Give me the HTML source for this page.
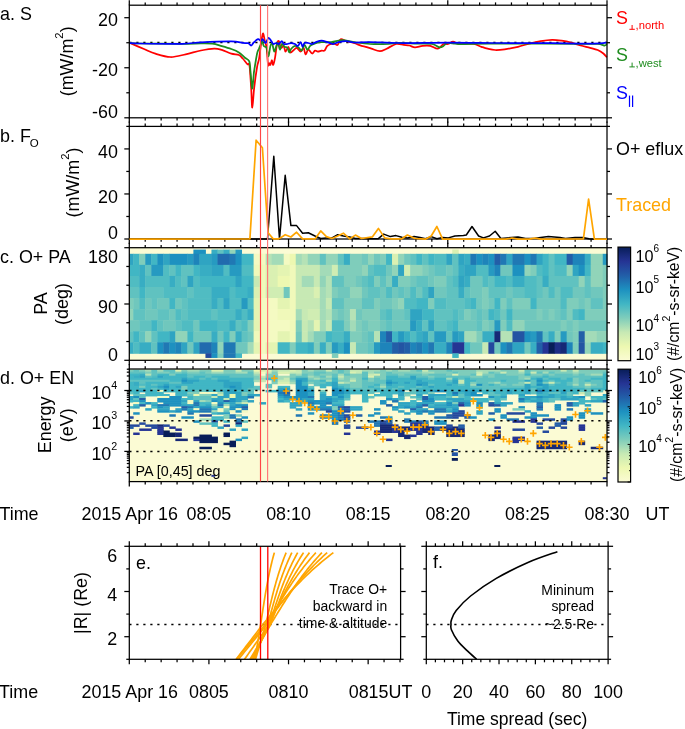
<!DOCTYPE html>
<html><head><meta charset="utf-8"><style>html,body{margin:0;padding:0;background:#fff;overflow:hidden}svg{display:block;will-change:transform}</style></head><body>
<svg width="685" height="729" viewBox="0 0 685 729" font-family='"Liberation Sans", sans-serif' shape-rendering="auto">
<rect x="0" y="0" width="685" height="729" fill="#fff"/>
<rect x="129.3" y="247.7" width="477.7" height="112.6" fill="#fbfbd4"/>
<rect x="193.40" y="249.60" width="12.49" height="4.65" fill="#1d91c0"/>
<rect x="211.46" y="249.60" width="6.47" height="4.65" fill="#38adc3"/>
<rect x="217.48" y="249.60" width="6.47" height="4.65" fill="#60c2c0"/>
<rect x="223.50" y="249.60" width="6.47" height="4.65" fill="#38adc3"/>
<rect x="229.52" y="249.60" width="6.47" height="4.65" fill="#91d4b9"/>
<rect x="235.54" y="249.60" width="6.47" height="4.65" fill="#269ac1"/>
<rect x="452.26" y="249.60" width="6.47" height="4.65" fill="#daf0b2"/>
<rect x="129.30" y="253.80" width="4.35" height="11.51" fill="#2fa4c2"/>
<rect x="133.20" y="253.80" width="6.47" height="11.51" fill="#41b6c4"/>
<rect x="139.22" y="253.80" width="6.47" height="11.51" fill="#7fcdbb"/>
<rect x="145.24" y="253.80" width="6.47" height="11.51" fill="#269ac1"/>
<rect x="151.26" y="253.80" width="6.47" height="11.51" fill="#41b6c4"/>
<rect x="157.28" y="253.80" width="6.47" height="11.51" fill="#1d91c0"/>
<rect x="163.30" y="253.80" width="6.47" height="11.51" fill="#2fa4c2"/>
<rect x="169.32" y="253.80" width="18.51" height="11.51" fill="#1d91c0"/>
<rect x="187.38" y="253.80" width="6.47" height="11.51" fill="#269ac1"/>
<rect x="193.40" y="253.80" width="6.47" height="11.51" fill="#1e84ba"/>
<rect x="199.42" y="253.80" width="12.49" height="11.51" fill="#2fa4c2"/>
<rect x="211.46" y="253.80" width="6.47" height="11.51" fill="#269ac1"/>
<rect x="217.48" y="253.80" width="12.49" height="11.51" fill="#216bae"/>
<rect x="229.52" y="253.80" width="6.47" height="11.51" fill="#2078b4"/>
<rect x="235.54" y="253.80" width="6.47" height="11.51" fill="#1d91c0"/>
<rect x="241.56" y="253.80" width="12.49" height="11.51" fill="#41b6c4"/>
<rect x="253.60" y="253.80" width="12.49" height="11.51" fill="#f4fac2"/>
<rect x="265.64" y="253.80" width="6.47" height="11.51" fill="#b5e2b6"/>
<rect x="271.66" y="253.80" width="12.49" height="11.51" fill="#a3dbb8"/>
<rect x="283.70" y="253.80" width="6.47" height="11.51" fill="#f4fac2"/>
<rect x="289.72" y="253.80" width="6.47" height="11.51" fill="#edf8b1"/>
<rect x="295.74" y="253.80" width="6.47" height="11.51" fill="#a3dbb8"/>
<rect x="301.76" y="253.80" width="6.47" height="11.51" fill="#b5e2b6"/>
<rect x="307.78" y="253.80" width="12.49" height="11.51" fill="#91d4b9"/>
<rect x="319.82" y="253.80" width="6.47" height="11.51" fill="#60c2c0"/>
<rect x="325.84" y="253.80" width="12.49" height="11.51" fill="#91d4b9"/>
<rect x="337.88" y="253.80" width="6.47" height="11.51" fill="#60c2c0"/>
<rect x="343.90" y="253.80" width="6.47" height="11.51" fill="#38adc3"/>
<rect x="349.92" y="253.80" width="12.49" height="11.51" fill="#7fcdbb"/>
<rect x="361.96" y="253.80" width="6.47" height="11.51" fill="#70c7bd"/>
<rect x="367.98" y="253.80" width="6.47" height="11.51" fill="#91d4b9"/>
<rect x="374.00" y="253.80" width="6.47" height="11.51" fill="#70c7bd"/>
<rect x="380.02" y="253.80" width="6.47" height="11.51" fill="#7fcdbb"/>
<rect x="386.04" y="253.80" width="6.47" height="11.51" fill="#41b6c4"/>
<rect x="392.06" y="253.80" width="6.47" height="11.51" fill="#daf0b2"/>
<rect x="398.08" y="253.80" width="6.47" height="11.51" fill="#91d4b9"/>
<rect x="404.10" y="253.80" width="6.47" height="11.51" fill="#70c7bd"/>
<rect x="410.12" y="253.80" width="6.47" height="11.51" fill="#60c2c0"/>
<rect x="416.14" y="253.80" width="6.47" height="11.51" fill="#41b6c4"/>
<rect x="422.16" y="253.80" width="6.47" height="11.51" fill="#60c2c0"/>
<rect x="428.18" y="253.80" width="6.47" height="11.51" fill="#41b6c4"/>
<rect x="434.20" y="253.80" width="12.49" height="11.51" fill="#50bcc2"/>
<rect x="446.24" y="253.80" width="6.47" height="11.51" fill="#2fa4c2"/>
<rect x="452.26" y="253.80" width="6.47" height="11.51" fill="#60c2c0"/>
<rect x="458.28" y="253.80" width="6.47" height="11.51" fill="#2fa4c2"/>
<rect x="464.30" y="253.80" width="6.47" height="11.51" fill="#38adc3"/>
<rect x="470.32" y="253.80" width="6.47" height="11.51" fill="#2078b4"/>
<rect x="476.34" y="253.80" width="6.47" height="11.51" fill="#1d91c0"/>
<rect x="482.36" y="253.80" width="6.47" height="11.51" fill="#1e84ba"/>
<rect x="488.38" y="253.80" width="6.47" height="11.51" fill="#1d91c0"/>
<rect x="494.40" y="253.80" width="6.47" height="11.51" fill="#225ea8"/>
<rect x="500.42" y="253.80" width="6.47" height="11.51" fill="#2078b4"/>
<rect x="506.44" y="253.80" width="6.47" height="11.51" fill="#2fa4c2"/>
<rect x="512.46" y="253.80" width="12.49" height="11.51" fill="#2078b4"/>
<rect x="524.50" y="253.80" width="6.47" height="11.51" fill="#1d91c0"/>
<rect x="530.52" y="253.80" width="6.47" height="11.51" fill="#2078b4"/>
<rect x="536.54" y="253.80" width="6.47" height="11.51" fill="#2fa4c2"/>
<rect x="542.56" y="253.80" width="6.47" height="11.51" fill="#41b6c4"/>
<rect x="548.58" y="253.80" width="6.47" height="11.51" fill="#60c2c0"/>
<rect x="554.60" y="253.80" width="12.49" height="11.51" fill="#41b6c4"/>
<rect x="566.64" y="253.80" width="6.47" height="11.51" fill="#225ea8"/>
<rect x="572.66" y="253.80" width="12.49" height="11.51" fill="#1e84ba"/>
<rect x="584.70" y="253.80" width="6.47" height="11.51" fill="#38adc3"/>
<rect x="590.72" y="253.80" width="12.49" height="11.51" fill="#91d4b9"/>
<rect x="602.76" y="253.80" width="4.69" height="11.51" fill="#269ac1"/>
<rect x="129.30" y="264.86" width="10.37" height="11.51" fill="#41b6c4"/>
<rect x="139.22" y="264.86" width="6.47" height="11.51" fill="#38adc3"/>
<rect x="145.24" y="264.86" width="6.47" height="11.51" fill="#60c2c0"/>
<rect x="151.26" y="264.86" width="12.49" height="11.51" fill="#269ac1"/>
<rect x="163.30" y="264.86" width="6.47" height="11.51" fill="#50bcc2"/>
<rect x="169.32" y="264.86" width="6.47" height="11.51" fill="#60c2c0"/>
<rect x="175.34" y="264.86" width="6.47" height="11.51" fill="#41b6c4"/>
<rect x="181.36" y="264.86" width="12.49" height="11.51" fill="#60c2c0"/>
<rect x="193.40" y="264.86" width="6.47" height="11.51" fill="#41b6c4"/>
<rect x="199.42" y="264.86" width="12.49" height="11.51" fill="#38adc3"/>
<rect x="211.46" y="264.86" width="12.49" height="11.51" fill="#2fa4c2"/>
<rect x="223.50" y="264.86" width="6.47" height="11.51" fill="#50bcc2"/>
<rect x="229.52" y="264.86" width="12.49" height="11.51" fill="#269ac1"/>
<rect x="241.56" y="264.86" width="12.49" height="11.51" fill="#50bcc2"/>
<rect x="253.60" y="264.86" width="12.49" height="11.51" fill="#f0f9ba"/>
<rect x="265.64" y="264.86" width="12.49" height="11.51" fill="#daf0b2"/>
<rect x="277.68" y="264.86" width="12.49" height="11.51" fill="#e4f4b2"/>
<rect x="289.72" y="264.86" width="6.47" height="11.51" fill="#f0f9ba"/>
<rect x="295.74" y="264.86" width="24.53" height="11.51" fill="#c7e9b4"/>
<rect x="319.82" y="264.86" width="12.49" height="11.51" fill="#a3dbb8"/>
<rect x="331.86" y="264.86" width="6.47" height="11.51" fill="#d0edb3"/>
<rect x="337.88" y="264.86" width="24.53" height="11.51" fill="#7fcdbb"/>
<rect x="361.96" y="264.86" width="6.47" height="11.51" fill="#91d4b9"/>
<rect x="367.98" y="264.86" width="6.47" height="11.51" fill="#60c2c0"/>
<rect x="374.00" y="264.86" width="12.49" height="11.51" fill="#50bcc2"/>
<rect x="386.04" y="264.86" width="6.47" height="11.51" fill="#70c7bd"/>
<rect x="392.06" y="264.86" width="6.47" height="11.51" fill="#91d4b9"/>
<rect x="398.08" y="264.86" width="6.47" height="11.51" fill="#2fa4c2"/>
<rect x="404.10" y="264.86" width="6.47" height="11.51" fill="#d0edb3"/>
<rect x="410.12" y="264.86" width="12.49" height="11.51" fill="#91d4b9"/>
<rect x="422.16" y="264.86" width="6.47" height="11.51" fill="#7fcdbb"/>
<rect x="428.18" y="264.86" width="6.47" height="11.51" fill="#70c7bd"/>
<rect x="434.20" y="264.86" width="12.49" height="11.51" fill="#60c2c0"/>
<rect x="446.24" y="264.86" width="6.47" height="11.51" fill="#70c7bd"/>
<rect x="452.26" y="264.86" width="6.47" height="11.51" fill="#60c2c0"/>
<rect x="458.28" y="264.86" width="6.47" height="11.51" fill="#38adc3"/>
<rect x="464.30" y="264.86" width="12.49" height="11.51" fill="#2fa4c2"/>
<rect x="476.34" y="264.86" width="12.49" height="11.51" fill="#50bcc2"/>
<rect x="488.38" y="264.86" width="6.47" height="11.51" fill="#269ac1"/>
<rect x="494.40" y="264.86" width="6.47" height="11.51" fill="#1e84ba"/>
<rect x="500.42" y="264.86" width="12.49" height="11.51" fill="#70c7bd"/>
<rect x="512.46" y="264.86" width="12.49" height="11.51" fill="#1d91c0"/>
<rect x="524.50" y="264.86" width="6.47" height="11.51" fill="#91d4b9"/>
<rect x="530.52" y="264.86" width="6.47" height="11.51" fill="#7fcdbb"/>
<rect x="536.54" y="264.86" width="6.47" height="11.51" fill="#50bcc2"/>
<rect x="542.56" y="264.86" width="6.47" height="11.51" fill="#41b6c4"/>
<rect x="548.58" y="264.86" width="6.47" height="11.51" fill="#60c2c0"/>
<rect x="554.60" y="264.86" width="12.49" height="11.51" fill="#50bcc2"/>
<rect x="566.64" y="264.86" width="6.47" height="11.51" fill="#91d4b9"/>
<rect x="572.66" y="264.86" width="6.47" height="11.51" fill="#2fa4c2"/>
<rect x="578.68" y="264.86" width="6.47" height="11.51" fill="#1d91c0"/>
<rect x="584.70" y="264.86" width="6.47" height="11.51" fill="#41b6c4"/>
<rect x="590.72" y="264.86" width="12.49" height="11.51" fill="#91d4b9"/>
<rect x="602.76" y="264.86" width="4.69" height="11.51" fill="#7fcdbb"/>
<rect x="129.30" y="275.92" width="10.37" height="11.51" fill="#50bcc2"/>
<rect x="139.22" y="275.92" width="6.47" height="11.51" fill="#38adc3"/>
<rect x="145.24" y="275.92" width="24.53" height="11.51" fill="#50bcc2"/>
<rect x="169.32" y="275.92" width="6.47" height="11.51" fill="#38adc3"/>
<rect x="175.34" y="275.92" width="6.47" height="11.51" fill="#50bcc2"/>
<rect x="181.36" y="275.92" width="6.47" height="11.51" fill="#60c2c0"/>
<rect x="187.38" y="275.92" width="6.47" height="11.51" fill="#2fa4c2"/>
<rect x="193.40" y="275.92" width="6.47" height="11.51" fill="#50bcc2"/>
<rect x="199.42" y="275.92" width="36.57" height="11.51" fill="#41b6c4"/>
<rect x="235.54" y="275.92" width="6.47" height="11.51" fill="#2fa4c2"/>
<rect x="241.56" y="275.92" width="12.49" height="11.51" fill="#41b6c4"/>
<rect x="253.60" y="275.92" width="6.47" height="11.51" fill="#c7e9b4"/>
<rect x="259.62" y="275.92" width="6.47" height="11.51" fill="#f0f9ba"/>
<rect x="265.64" y="275.92" width="12.49" height="11.51" fill="#daf0b2"/>
<rect x="277.68" y="275.92" width="12.49" height="11.51" fill="#edf8b1"/>
<rect x="289.72" y="275.92" width="6.47" height="11.51" fill="#f0f9ba"/>
<rect x="295.74" y="275.92" width="6.47" height="11.51" fill="#c7e9b4"/>
<rect x="301.76" y="275.92" width="12.49" height="11.51" fill="#a3dbb8"/>
<rect x="313.80" y="275.92" width="6.47" height="11.51" fill="#c7e9b4"/>
<rect x="319.82" y="275.92" width="6.47" height="11.51" fill="#91d4b9"/>
<rect x="325.84" y="275.92" width="6.47" height="11.51" fill="#b5e2b6"/>
<rect x="331.86" y="275.92" width="12.49" height="11.51" fill="#60c2c0"/>
<rect x="343.90" y="275.92" width="12.49" height="11.51" fill="#7fcdbb"/>
<rect x="355.94" y="275.92" width="6.47" height="11.51" fill="#70c7bd"/>
<rect x="361.96" y="275.92" width="6.47" height="11.51" fill="#60c2c0"/>
<rect x="367.98" y="275.92" width="6.47" height="11.51" fill="#50bcc2"/>
<rect x="374.00" y="275.92" width="6.47" height="11.51" fill="#7fcdbb"/>
<rect x="380.02" y="275.92" width="6.47" height="11.51" fill="#60c2c0"/>
<rect x="386.04" y="275.92" width="6.47" height="11.51" fill="#7fcdbb"/>
<rect x="392.06" y="275.92" width="6.47" height="11.51" fill="#38adc3"/>
<rect x="398.08" y="275.92" width="12.49" height="11.51" fill="#7fcdbb"/>
<rect x="410.12" y="275.92" width="6.47" height="11.51" fill="#70c7bd"/>
<rect x="416.14" y="275.92" width="12.49" height="11.51" fill="#60c2c0"/>
<rect x="428.18" y="275.92" width="6.47" height="11.51" fill="#70c7bd"/>
<rect x="434.20" y="275.92" width="12.49" height="11.51" fill="#7fcdbb"/>
<rect x="446.24" y="275.92" width="6.47" height="11.51" fill="#60c2c0"/>
<rect x="452.26" y="275.92" width="6.47" height="11.51" fill="#50bcc2"/>
<rect x="458.28" y="275.92" width="6.47" height="11.51" fill="#2fa4c2"/>
<rect x="464.30" y="275.92" width="6.47" height="11.51" fill="#38adc3"/>
<rect x="470.32" y="275.92" width="12.49" height="11.51" fill="#70c7bd"/>
<rect x="482.36" y="275.92" width="6.47" height="11.51" fill="#50bcc2"/>
<rect x="488.38" y="275.92" width="6.47" height="11.51" fill="#60c2c0"/>
<rect x="494.40" y="275.92" width="12.49" height="11.51" fill="#41b6c4"/>
<rect x="506.44" y="275.92" width="6.47" height="11.51" fill="#50bcc2"/>
<rect x="512.46" y="275.92" width="12.49" height="11.51" fill="#38adc3"/>
<rect x="524.50" y="275.92" width="12.49" height="11.51" fill="#50bcc2"/>
<rect x="536.54" y="275.92" width="6.47" height="11.51" fill="#60c2c0"/>
<rect x="542.56" y="275.92" width="6.47" height="11.51" fill="#38adc3"/>
<rect x="548.58" y="275.92" width="30.55" height="11.51" fill="#60c2c0"/>
<rect x="578.68" y="275.92" width="6.47" height="11.51" fill="#91d4b9"/>
<rect x="584.70" y="275.92" width="6.47" height="11.51" fill="#60c2c0"/>
<rect x="590.72" y="275.92" width="12.49" height="11.51" fill="#91d4b9"/>
<rect x="602.76" y="275.92" width="4.69" height="11.51" fill="#7fcdbb"/>
<rect x="129.30" y="286.98" width="10.37" height="11.51" fill="#60c2c0"/>
<rect x="139.22" y="286.98" width="6.47" height="11.51" fill="#41b6c4"/>
<rect x="145.24" y="286.98" width="18.51" height="11.51" fill="#60c2c0"/>
<rect x="163.30" y="286.98" width="24.53" height="11.51" fill="#50bcc2"/>
<rect x="187.38" y="286.98" width="6.47" height="11.51" fill="#60c2c0"/>
<rect x="193.40" y="286.98" width="18.51" height="11.51" fill="#50bcc2"/>
<rect x="211.46" y="286.98" width="18.51" height="11.51" fill="#38adc3"/>
<rect x="229.52" y="286.98" width="6.47" height="11.51" fill="#50bcc2"/>
<rect x="235.54" y="286.98" width="12.49" height="11.51" fill="#41b6c4"/>
<rect x="247.58" y="286.98" width="6.47" height="11.51" fill="#38adc3"/>
<rect x="253.60" y="286.98" width="6.47" height="11.51" fill="#daf0b2"/>
<rect x="259.62" y="286.98" width="6.47" height="11.51" fill="#f0f9ba"/>
<rect x="265.64" y="286.98" width="18.51" height="11.51" fill="#d0edb3"/>
<rect x="283.70" y="286.98" width="6.47" height="11.51" fill="#70c7bd"/>
<rect x="289.72" y="286.98" width="6.47" height="11.51" fill="#f0f9ba"/>
<rect x="295.74" y="286.98" width="18.51" height="11.51" fill="#c7e9b4"/>
<rect x="313.80" y="286.98" width="6.47" height="11.51" fill="#daf0b2"/>
<rect x="319.82" y="286.98" width="6.47" height="11.51" fill="#a3dbb8"/>
<rect x="325.84" y="286.98" width="6.47" height="11.51" fill="#b5e2b6"/>
<rect x="331.86" y="286.98" width="6.47" height="11.51" fill="#7fcdbb"/>
<rect x="337.88" y="286.98" width="12.49" height="11.51" fill="#70c7bd"/>
<rect x="349.92" y="286.98" width="12.49" height="11.51" fill="#91d4b9"/>
<rect x="361.96" y="286.98" width="6.47" height="11.51" fill="#70c7bd"/>
<rect x="367.98" y="286.98" width="12.49" height="11.51" fill="#60c2c0"/>
<rect x="380.02" y="286.98" width="6.47" height="11.51" fill="#70c7bd"/>
<rect x="386.04" y="286.98" width="6.47" height="11.51" fill="#50bcc2"/>
<rect x="392.06" y="286.98" width="6.47" height="11.51" fill="#70c7bd"/>
<rect x="398.08" y="286.98" width="6.47" height="11.51" fill="#60c2c0"/>
<rect x="404.10" y="286.98" width="6.47" height="11.51" fill="#70c7bd"/>
<rect x="410.12" y="286.98" width="6.47" height="11.51" fill="#50bcc2"/>
<rect x="416.14" y="286.98" width="6.47" height="11.51" fill="#70c7bd"/>
<rect x="422.16" y="286.98" width="6.47" height="11.51" fill="#50bcc2"/>
<rect x="428.18" y="286.98" width="6.47" height="11.51" fill="#2fa4c2"/>
<rect x="434.20" y="286.98" width="12.49" height="11.51" fill="#70c7bd"/>
<rect x="446.24" y="286.98" width="12.49" height="11.51" fill="#60c2c0"/>
<rect x="458.28" y="286.98" width="6.47" height="11.51" fill="#38adc3"/>
<rect x="464.30" y="286.98" width="6.47" height="11.51" fill="#60c2c0"/>
<rect x="470.32" y="286.98" width="12.49" height="11.51" fill="#70c7bd"/>
<rect x="482.36" y="286.98" width="6.47" height="11.51" fill="#7fcdbb"/>
<rect x="488.38" y="286.98" width="18.51" height="11.51" fill="#60c2c0"/>
<rect x="506.44" y="286.98" width="6.47" height="11.51" fill="#70c7bd"/>
<rect x="512.46" y="286.98" width="12.49" height="11.51" fill="#60c2c0"/>
<rect x="524.50" y="286.98" width="12.49" height="11.51" fill="#50bcc2"/>
<rect x="536.54" y="286.98" width="6.47" height="11.51" fill="#60c2c0"/>
<rect x="542.56" y="286.98" width="6.47" height="11.51" fill="#70c7bd"/>
<rect x="548.58" y="286.98" width="6.47" height="11.51" fill="#50bcc2"/>
<rect x="554.60" y="286.98" width="6.47" height="11.51" fill="#70c7bd"/>
<rect x="560.62" y="286.98" width="12.49" height="11.51" fill="#50bcc2"/>
<rect x="572.66" y="286.98" width="12.49" height="11.51" fill="#70c7bd"/>
<rect x="584.70" y="286.98" width="6.47" height="11.51" fill="#60c2c0"/>
<rect x="590.72" y="286.98" width="12.49" height="11.51" fill="#70c7bd"/>
<rect x="602.76" y="286.98" width="4.69" height="11.51" fill="#7fcdbb"/>
<rect x="129.30" y="298.04" width="4.35" height="11.51" fill="#7fcdbb"/>
<rect x="133.20" y="298.04" width="6.47" height="11.51" fill="#70c7bd"/>
<rect x="139.22" y="298.04" width="6.47" height="11.51" fill="#50bcc2"/>
<rect x="145.24" y="298.04" width="6.47" height="11.51" fill="#70c7bd"/>
<rect x="151.26" y="298.04" width="6.47" height="11.51" fill="#60c2c0"/>
<rect x="157.28" y="298.04" width="12.49" height="11.51" fill="#70c7bd"/>
<rect x="169.32" y="298.04" width="6.47" height="11.51" fill="#41b6c4"/>
<rect x="175.34" y="298.04" width="6.47" height="11.51" fill="#70c7bd"/>
<rect x="181.36" y="298.04" width="6.47" height="11.51" fill="#60c2c0"/>
<rect x="187.38" y="298.04" width="24.53" height="11.51" fill="#50bcc2"/>
<rect x="211.46" y="298.04" width="6.47" height="11.51" fill="#38adc3"/>
<rect x="217.48" y="298.04" width="6.47" height="11.51" fill="#50bcc2"/>
<rect x="223.50" y="298.04" width="6.47" height="11.51" fill="#2fa4c2"/>
<rect x="229.52" y="298.04" width="12.49" height="11.51" fill="#50bcc2"/>
<rect x="241.56" y="298.04" width="6.47" height="11.51" fill="#269ac1"/>
<rect x="247.58" y="298.04" width="6.47" height="11.51" fill="#50bcc2"/>
<rect x="253.60" y="298.04" width="6.47" height="11.51" fill="#e4f4b2"/>
<rect x="259.62" y="298.04" width="18.51" height="11.51" fill="#f4fac2"/>
<rect x="277.68" y="298.04" width="12.49" height="11.51" fill="#e4f4b2"/>
<rect x="289.72" y="298.04" width="6.47" height="11.51" fill="#f0f9ba"/>
<rect x="295.74" y="298.04" width="24.53" height="11.51" fill="#c7e9b4"/>
<rect x="319.82" y="298.04" width="6.47" height="11.51" fill="#a3dbb8"/>
<rect x="325.84" y="298.04" width="6.47" height="11.51" fill="#c7e9b4"/>
<rect x="331.86" y="298.04" width="12.49" height="11.51" fill="#60c2c0"/>
<rect x="343.90" y="298.04" width="18.51" height="11.51" fill="#7fcdbb"/>
<rect x="361.96" y="298.04" width="12.49" height="11.51" fill="#60c2c0"/>
<rect x="374.00" y="298.04" width="6.47" height="11.51" fill="#7fcdbb"/>
<rect x="380.02" y="298.04" width="12.49" height="11.51" fill="#70c7bd"/>
<rect x="392.06" y="298.04" width="6.47" height="11.51" fill="#7fcdbb"/>
<rect x="398.08" y="298.04" width="6.47" height="11.51" fill="#91d4b9"/>
<rect x="404.10" y="298.04" width="12.49" height="11.51" fill="#50bcc2"/>
<rect x="416.14" y="298.04" width="12.49" height="11.51" fill="#41b6c4"/>
<rect x="428.18" y="298.04" width="6.47" height="11.51" fill="#7fcdbb"/>
<rect x="434.20" y="298.04" width="12.49" height="11.51" fill="#50bcc2"/>
<rect x="446.24" y="298.04" width="18.51" height="11.51" fill="#60c2c0"/>
<rect x="464.30" y="298.04" width="6.47" height="11.51" fill="#50bcc2"/>
<rect x="470.32" y="298.04" width="6.47" height="11.51" fill="#41b6c4"/>
<rect x="476.34" y="298.04" width="6.47" height="11.51" fill="#70c7bd"/>
<rect x="482.36" y="298.04" width="6.47" height="11.51" fill="#7fcdbb"/>
<rect x="488.38" y="298.04" width="6.47" height="11.51" fill="#70c7bd"/>
<rect x="494.40" y="298.04" width="6.47" height="11.51" fill="#41b6c4"/>
<rect x="500.42" y="298.04" width="6.47" height="11.51" fill="#7fcdbb"/>
<rect x="506.44" y="298.04" width="6.47" height="11.51" fill="#60c2c0"/>
<rect x="512.46" y="298.04" width="18.51" height="11.51" fill="#7fcdbb"/>
<rect x="530.52" y="298.04" width="6.47" height="11.51" fill="#41b6c4"/>
<rect x="536.54" y="298.04" width="24.53" height="11.51" fill="#70c7bd"/>
<rect x="560.62" y="298.04" width="6.47" height="11.51" fill="#50bcc2"/>
<rect x="566.64" y="298.04" width="12.49" height="11.51" fill="#7fcdbb"/>
<rect x="578.68" y="298.04" width="6.47" height="11.51" fill="#70c7bd"/>
<rect x="584.70" y="298.04" width="6.47" height="11.51" fill="#7fcdbb"/>
<rect x="590.72" y="298.04" width="12.49" height="11.51" fill="#60c2c0"/>
<rect x="602.76" y="298.04" width="4.69" height="11.51" fill="#7fcdbb"/>
<rect x="129.30" y="309.10" width="4.35" height="11.51" fill="#91d4b9"/>
<rect x="133.20" y="309.10" width="12.49" height="11.51" fill="#60c2c0"/>
<rect x="145.24" y="309.10" width="12.49" height="11.51" fill="#70c7bd"/>
<rect x="157.28" y="309.10" width="12.49" height="11.51" fill="#60c2c0"/>
<rect x="169.32" y="309.10" width="6.47" height="11.51" fill="#70c7bd"/>
<rect x="175.34" y="309.10" width="6.47" height="11.51" fill="#50bcc2"/>
<rect x="181.36" y="309.10" width="6.47" height="11.51" fill="#60c2c0"/>
<rect x="187.38" y="309.10" width="24.53" height="11.51" fill="#50bcc2"/>
<rect x="211.46" y="309.10" width="6.47" height="11.51" fill="#60c2c0"/>
<rect x="217.48" y="309.10" width="18.51" height="11.51" fill="#50bcc2"/>
<rect x="235.54" y="309.10" width="6.47" height="11.51" fill="#38adc3"/>
<rect x="241.56" y="309.10" width="6.47" height="11.51" fill="#50bcc2"/>
<rect x="247.58" y="309.10" width="6.47" height="11.51" fill="#38adc3"/>
<rect x="253.60" y="309.10" width="6.47" height="11.51" fill="#e4f4b2"/>
<rect x="259.62" y="309.10" width="18.51" height="11.51" fill="#f4fac2"/>
<rect x="277.68" y="309.10" width="18.51" height="11.51" fill="#f0f9ba"/>
<rect x="295.74" y="309.10" width="6.47" height="11.51" fill="#a3dbb8"/>
<rect x="301.76" y="309.10" width="6.47" height="11.51" fill="#c7e9b4"/>
<rect x="307.78" y="309.10" width="12.49" height="11.51" fill="#d0edb3"/>
<rect x="319.82" y="309.10" width="6.47" height="11.51" fill="#a3dbb8"/>
<rect x="325.84" y="309.10" width="6.47" height="11.51" fill="#b5e2b6"/>
<rect x="331.86" y="309.10" width="6.47" height="11.51" fill="#7fcdbb"/>
<rect x="337.88" y="309.10" width="6.47" height="11.51" fill="#70c7bd"/>
<rect x="343.90" y="309.10" width="6.47" height="11.51" fill="#7fcdbb"/>
<rect x="349.92" y="309.10" width="6.47" height="11.51" fill="#b5e2b6"/>
<rect x="355.94" y="309.10" width="6.47" height="11.51" fill="#70c7bd"/>
<rect x="361.96" y="309.10" width="18.51" height="11.51" fill="#7fcdbb"/>
<rect x="380.02" y="309.10" width="6.47" height="11.51" fill="#60c2c0"/>
<rect x="386.04" y="309.10" width="6.47" height="11.51" fill="#50bcc2"/>
<rect x="392.06" y="309.10" width="12.49" height="11.51" fill="#70c7bd"/>
<rect x="404.10" y="309.10" width="6.47" height="11.51" fill="#60c2c0"/>
<rect x="410.12" y="309.10" width="12.49" height="11.51" fill="#2fa4c2"/>
<rect x="422.16" y="309.10" width="12.49" height="11.51" fill="#41b6c4"/>
<rect x="434.20" y="309.10" width="18.51" height="11.51" fill="#60c2c0"/>
<rect x="452.26" y="309.10" width="6.47" height="11.51" fill="#50bcc2"/>
<rect x="458.28" y="309.10" width="6.47" height="11.51" fill="#60c2c0"/>
<rect x="464.30" y="309.10" width="6.47" height="11.51" fill="#7fcdbb"/>
<rect x="470.32" y="309.10" width="6.47" height="11.51" fill="#70c7bd"/>
<rect x="476.34" y="309.10" width="6.47" height="11.51" fill="#60c2c0"/>
<rect x="482.36" y="309.10" width="6.47" height="11.51" fill="#70c7bd"/>
<rect x="488.38" y="309.10" width="6.47" height="11.51" fill="#41b6c4"/>
<rect x="494.40" y="309.10" width="6.47" height="11.51" fill="#50bcc2"/>
<rect x="500.42" y="309.10" width="6.47" height="11.51" fill="#70c7bd"/>
<rect x="506.44" y="309.10" width="6.47" height="11.51" fill="#41b6c4"/>
<rect x="512.46" y="309.10" width="24.53" height="11.51" fill="#70c7bd"/>
<rect x="536.54" y="309.10" width="6.47" height="11.51" fill="#7fcdbb"/>
<rect x="542.56" y="309.10" width="6.47" height="11.51" fill="#70c7bd"/>
<rect x="548.58" y="309.10" width="6.47" height="11.51" fill="#7fcdbb"/>
<rect x="554.60" y="309.10" width="6.47" height="11.51" fill="#70c7bd"/>
<rect x="560.62" y="309.10" width="6.47" height="11.51" fill="#60c2c0"/>
<rect x="566.64" y="309.10" width="6.47" height="11.51" fill="#7fcdbb"/>
<rect x="572.66" y="309.10" width="6.47" height="11.51" fill="#50bcc2"/>
<rect x="578.68" y="309.10" width="6.47" height="11.51" fill="#41b6c4"/>
<rect x="584.70" y="309.10" width="22.75" height="11.51" fill="#7fcdbb"/>
<rect x="129.30" y="320.16" width="10.37" height="11.51" fill="#70c7bd"/>
<rect x="139.22" y="320.16" width="12.49" height="11.51" fill="#60c2c0"/>
<rect x="151.26" y="320.16" width="6.47" height="11.51" fill="#41b6c4"/>
<rect x="157.28" y="320.16" width="6.47" height="11.51" fill="#60c2c0"/>
<rect x="163.30" y="320.16" width="12.49" height="11.51" fill="#70c7bd"/>
<rect x="175.34" y="320.16" width="6.47" height="11.51" fill="#60c2c0"/>
<rect x="181.36" y="320.16" width="12.49" height="11.51" fill="#50bcc2"/>
<rect x="193.40" y="320.16" width="6.47" height="11.51" fill="#70c7bd"/>
<rect x="199.42" y="320.16" width="18.51" height="11.51" fill="#41b6c4"/>
<rect x="217.48" y="320.16" width="12.49" height="11.51" fill="#50bcc2"/>
<rect x="229.52" y="320.16" width="6.47" height="11.51" fill="#38adc3"/>
<rect x="235.54" y="320.16" width="6.47" height="11.51" fill="#60c2c0"/>
<rect x="241.56" y="320.16" width="6.47" height="11.51" fill="#50bcc2"/>
<rect x="247.58" y="320.16" width="6.47" height="11.51" fill="#7fcdbb"/>
<rect x="253.60" y="320.16" width="6.47" height="11.51" fill="#e4f4b2"/>
<rect x="259.62" y="320.16" width="30.55" height="11.51" fill="#f4fac2"/>
<rect x="289.72" y="320.16" width="6.47" height="11.51" fill="#f0f9ba"/>
<rect x="295.74" y="320.16" width="6.47" height="11.51" fill="#7fcdbb"/>
<rect x="301.76" y="320.16" width="6.47" height="11.51" fill="#c7e9b4"/>
<rect x="307.78" y="320.16" width="6.47" height="11.51" fill="#b5e2b6"/>
<rect x="313.80" y="320.16" width="6.47" height="11.51" fill="#e4f4b2"/>
<rect x="319.82" y="320.16" width="6.47" height="11.51" fill="#a3dbb8"/>
<rect x="325.84" y="320.16" width="6.47" height="11.51" fill="#c7e9b4"/>
<rect x="331.86" y="320.16" width="12.49" height="11.51" fill="#50bcc2"/>
<rect x="343.90" y="320.16" width="6.47" height="11.51" fill="#7fcdbb"/>
<rect x="349.92" y="320.16" width="6.47" height="11.51" fill="#a3dbb8"/>
<rect x="355.94" y="320.16" width="6.47" height="11.51" fill="#7fcdbb"/>
<rect x="361.96" y="320.16" width="6.47" height="11.51" fill="#70c7bd"/>
<rect x="367.98" y="320.16" width="12.49" height="11.51" fill="#7fcdbb"/>
<rect x="380.02" y="320.16" width="6.47" height="11.51" fill="#70c7bd"/>
<rect x="386.04" y="320.16" width="6.47" height="11.51" fill="#60c2c0"/>
<rect x="392.06" y="320.16" width="18.51" height="11.51" fill="#70c7bd"/>
<rect x="410.12" y="320.16" width="6.47" height="11.51" fill="#269ac1"/>
<rect x="416.14" y="320.16" width="6.47" height="11.51" fill="#38adc3"/>
<rect x="422.16" y="320.16" width="6.47" height="11.51" fill="#60c2c0"/>
<rect x="428.18" y="320.16" width="6.47" height="11.51" fill="#2fa4c2"/>
<rect x="434.20" y="320.16" width="12.49" height="11.51" fill="#60c2c0"/>
<rect x="446.24" y="320.16" width="6.47" height="11.51" fill="#50bcc2"/>
<rect x="452.26" y="320.16" width="6.47" height="11.51" fill="#41b6c4"/>
<rect x="458.28" y="320.16" width="18.51" height="11.51" fill="#70c7bd"/>
<rect x="476.34" y="320.16" width="6.47" height="11.51" fill="#60c2c0"/>
<rect x="482.36" y="320.16" width="6.47" height="11.51" fill="#7fcdbb"/>
<rect x="488.38" y="320.16" width="6.47" height="11.51" fill="#70c7bd"/>
<rect x="494.40" y="320.16" width="6.47" height="11.51" fill="#269ac1"/>
<rect x="500.42" y="320.16" width="6.47" height="11.51" fill="#7fcdbb"/>
<rect x="506.44" y="320.16" width="6.47" height="11.51" fill="#50bcc2"/>
<rect x="512.46" y="320.16" width="12.49" height="11.51" fill="#91d4b9"/>
<rect x="524.50" y="320.16" width="36.57" height="11.51" fill="#70c7bd"/>
<rect x="560.62" y="320.16" width="6.47" height="11.51" fill="#7fcdbb"/>
<rect x="566.64" y="320.16" width="6.47" height="11.51" fill="#70c7bd"/>
<rect x="572.66" y="320.16" width="6.47" height="11.51" fill="#7fcdbb"/>
<rect x="578.68" y="320.16" width="28.77" height="11.51" fill="#70c7bd"/>
<rect x="129.30" y="331.22" width="4.35" height="11.51" fill="#60c2c0"/>
<rect x="133.20" y="331.22" width="6.47" height="11.51" fill="#41b6c4"/>
<rect x="139.22" y="331.22" width="6.47" height="11.51" fill="#60c2c0"/>
<rect x="145.24" y="331.22" width="6.47" height="11.51" fill="#91d4b9"/>
<rect x="151.26" y="331.22" width="6.47" height="11.51" fill="#60c2c0"/>
<rect x="157.28" y="331.22" width="12.49" height="11.51" fill="#41b6c4"/>
<rect x="169.32" y="331.22" width="6.47" height="11.51" fill="#2fa4c2"/>
<rect x="175.34" y="331.22" width="12.49" height="11.51" fill="#91d4b9"/>
<rect x="187.38" y="331.22" width="6.47" height="11.51" fill="#41b6c4"/>
<rect x="193.40" y="331.22" width="18.51" height="11.51" fill="#70c7bd"/>
<rect x="211.46" y="331.22" width="6.47" height="11.51" fill="#38adc3"/>
<rect x="217.48" y="331.22" width="6.47" height="11.51" fill="#70c7bd"/>
<rect x="223.50" y="331.22" width="6.47" height="11.51" fill="#41b6c4"/>
<rect x="229.52" y="331.22" width="6.47" height="11.51" fill="#7fcdbb"/>
<rect x="235.54" y="331.22" width="6.47" height="11.51" fill="#38adc3"/>
<rect x="241.56" y="331.22" width="6.47" height="11.51" fill="#60c2c0"/>
<rect x="247.58" y="331.22" width="6.47" height="11.51" fill="#70c7bd"/>
<rect x="253.60" y="331.22" width="6.47" height="11.51" fill="#f0f9ba"/>
<rect x="259.62" y="331.22" width="18.51" height="11.51" fill="#f4fac2"/>
<rect x="277.68" y="331.22" width="12.49" height="11.51" fill="#e4f4b2"/>
<rect x="289.72" y="331.22" width="6.47" height="11.51" fill="#f0f9ba"/>
<rect x="295.74" y="331.22" width="6.47" height="11.51" fill="#70c7bd"/>
<rect x="301.76" y="331.22" width="6.47" height="11.51" fill="#c7e9b4"/>
<rect x="307.78" y="331.22" width="6.47" height="11.51" fill="#a3dbb8"/>
<rect x="313.80" y="331.22" width="12.49" height="11.51" fill="#7fcdbb"/>
<rect x="325.84" y="331.22" width="6.47" height="11.51" fill="#41b6c4"/>
<rect x="331.86" y="331.22" width="12.49" height="11.51" fill="#50bcc2"/>
<rect x="343.90" y="331.22" width="6.47" height="11.51" fill="#38adc3"/>
<rect x="349.92" y="331.22" width="12.49" height="11.51" fill="#7fcdbb"/>
<rect x="361.96" y="331.22" width="6.47" height="11.51" fill="#70c7bd"/>
<rect x="367.98" y="331.22" width="6.47" height="11.51" fill="#60c2c0"/>
<rect x="374.00" y="331.22" width="6.47" height="11.51" fill="#b5e2b6"/>
<rect x="380.02" y="331.22" width="6.47" height="11.51" fill="#1e84ba"/>
<rect x="386.04" y="331.22" width="6.47" height="11.51" fill="#225ea8"/>
<rect x="392.06" y="331.22" width="6.47" height="11.51" fill="#41b6c4"/>
<rect x="398.08" y="331.22" width="6.47" height="11.51" fill="#269ac1"/>
<rect x="404.10" y="331.22" width="6.47" height="11.51" fill="#38adc3"/>
<rect x="410.12" y="331.22" width="6.47" height="11.51" fill="#50bcc2"/>
<rect x="416.14" y="331.22" width="6.47" height="11.51" fill="#38adc3"/>
<rect x="422.16" y="331.22" width="6.47" height="11.51" fill="#2fa4c2"/>
<rect x="428.18" y="331.22" width="6.47" height="11.51" fill="#60c2c0"/>
<rect x="434.20" y="331.22" width="12.49" height="11.51" fill="#269ac1"/>
<rect x="446.24" y="331.22" width="6.47" height="11.51" fill="#60c2c0"/>
<rect x="452.26" y="331.22" width="6.47" height="11.51" fill="#269ac1"/>
<rect x="458.28" y="331.22" width="6.47" height="11.51" fill="#2fa4c2"/>
<rect x="464.30" y="331.22" width="12.49" height="11.51" fill="#a3dbb8"/>
<rect x="476.34" y="331.22" width="6.47" height="11.51" fill="#7fcdbb"/>
<rect x="482.36" y="331.22" width="12.49" height="11.51" fill="#38adc3"/>
<rect x="494.40" y="331.22" width="6.47" height="11.51" fill="#162876"/>
<rect x="500.42" y="331.22" width="12.49" height="11.51" fill="#b5e2b6"/>
<rect x="512.46" y="331.22" width="12.49" height="11.51" fill="#2354a3"/>
<rect x="524.50" y="331.22" width="6.47" height="11.51" fill="#1d91c0"/>
<rect x="530.52" y="331.22" width="6.47" height="11.51" fill="#269ac1"/>
<rect x="536.54" y="331.22" width="6.47" height="11.51" fill="#2078b4"/>
<rect x="542.56" y="331.22" width="6.47" height="11.51" fill="#60c2c0"/>
<rect x="548.58" y="331.22" width="6.47" height="11.51" fill="#38adc3"/>
<rect x="554.60" y="331.22" width="6.47" height="11.51" fill="#7fcdbb"/>
<rect x="560.62" y="331.22" width="6.47" height="11.51" fill="#269ac1"/>
<rect x="566.64" y="331.22" width="6.47" height="11.51" fill="#70c7bd"/>
<rect x="572.66" y="331.22" width="6.47" height="11.51" fill="#7fcdbb"/>
<rect x="578.68" y="331.22" width="6.47" height="11.51" fill="#225ea8"/>
<rect x="584.70" y="331.22" width="12.49" height="11.51" fill="#a3dbb8"/>
<rect x="596.74" y="331.22" width="10.71" height="11.51" fill="#91d4b9"/>
<rect x="129.30" y="342.28" width="4.35" height="11.51" fill="#38adc3"/>
<rect x="133.20" y="342.28" width="6.47" height="11.51" fill="#50bcc2"/>
<rect x="139.22" y="342.28" width="12.49" height="11.51" fill="#38adc3"/>
<rect x="151.26" y="342.28" width="6.47" height="11.51" fill="#60c2c0"/>
<rect x="157.28" y="342.28" width="6.47" height="11.51" fill="#1d91c0"/>
<rect x="163.30" y="342.28" width="6.47" height="11.51" fill="#2078b4"/>
<rect x="169.32" y="342.28" width="6.47" height="11.51" fill="#1d91c0"/>
<rect x="175.34" y="342.28" width="6.47" height="11.51" fill="#1e84ba"/>
<rect x="181.36" y="342.28" width="6.47" height="11.51" fill="#2fa4c2"/>
<rect x="187.38" y="342.28" width="6.47" height="11.51" fill="#70c7bd"/>
<rect x="193.40" y="342.28" width="6.47" height="11.51" fill="#2fa4c2"/>
<rect x="199.42" y="342.28" width="12.49" height="11.51" fill="#216bae"/>
<rect x="211.46" y="342.28" width="6.47" height="11.51" fill="#1e84ba"/>
<rect x="217.48" y="342.28" width="6.47" height="11.51" fill="#91d4b9"/>
<rect x="223.50" y="342.28" width="12.49" height="11.51" fill="#2078b4"/>
<rect x="235.54" y="342.28" width="12.49" height="11.51" fill="#70c7bd"/>
<rect x="247.58" y="342.28" width="6.47" height="11.51" fill="#a3dbb8"/>
<rect x="253.60" y="342.28" width="6.47" height="11.51" fill="#e4f4b2"/>
<rect x="259.62" y="342.28" width="6.47" height="11.51" fill="#f4fac2"/>
<rect x="265.64" y="342.28" width="12.49" height="11.51" fill="#e4f4b2"/>
<rect x="277.68" y="342.28" width="12.49" height="11.51" fill="#41b6c4"/>
<rect x="289.72" y="342.28" width="6.47" height="11.51" fill="#7fcdbb"/>
<rect x="295.74" y="342.28" width="12.49" height="11.51" fill="#41b6c4"/>
<rect x="307.78" y="342.28" width="6.47" height="11.51" fill="#38adc3"/>
<rect x="313.80" y="342.28" width="6.47" height="11.51" fill="#7fcdbb"/>
<rect x="319.82" y="342.28" width="6.47" height="11.51" fill="#38adc3"/>
<rect x="325.84" y="342.28" width="6.47" height="11.51" fill="#7fcdbb"/>
<rect x="331.86" y="342.28" width="6.47" height="11.51" fill="#269ac1"/>
<rect x="337.88" y="342.28" width="6.47" height="11.51" fill="#38adc3"/>
<rect x="343.90" y="342.28" width="6.47" height="11.51" fill="#1d91c0"/>
<rect x="349.92" y="342.28" width="6.47" height="11.51" fill="#c7e9b4"/>
<rect x="355.94" y="342.28" width="12.49" height="11.51" fill="#70c7bd"/>
<rect x="367.98" y="342.28" width="6.47" height="11.51" fill="#60c2c0"/>
<rect x="374.00" y="342.28" width="6.47" height="11.51" fill="#269ac1"/>
<rect x="380.02" y="342.28" width="12.49" height="11.51" fill="#1e84ba"/>
<rect x="392.06" y="342.28" width="6.47" height="11.51" fill="#225ea8"/>
<rect x="398.08" y="342.28" width="6.47" height="11.51" fill="#2354a3"/>
<rect x="404.10" y="342.28" width="6.47" height="11.51" fill="#225ea8"/>
<rect x="410.12" y="342.28" width="6.47" height="11.51" fill="#1e84ba"/>
<rect x="416.14" y="342.28" width="6.47" height="11.51" fill="#2078b4"/>
<rect x="422.16" y="342.28" width="6.47" height="11.51" fill="#1d91c0"/>
<rect x="428.18" y="342.28" width="6.47" height="11.51" fill="#2078b4"/>
<rect x="434.20" y="342.28" width="12.49" height="11.51" fill="#38adc3"/>
<rect x="446.24" y="342.28" width="6.47" height="11.51" fill="#1e84ba"/>
<rect x="452.26" y="342.28" width="12.49" height="11.51" fill="#253494"/>
<rect x="464.30" y="342.28" width="6.47" height="11.51" fill="#41b6c4"/>
<rect x="470.32" y="342.28" width="12.49" height="11.51" fill="#70c7bd"/>
<rect x="482.36" y="342.28" width="6.47" height="11.51" fill="#c7e9b4"/>
<rect x="488.38" y="342.28" width="6.47" height="11.51" fill="#24499e"/>
<rect x="494.40" y="342.28" width="6.47" height="11.51" fill="#70c7bd"/>
<rect x="500.42" y="342.28" width="6.47" height="11.51" fill="#1d91c0"/>
<rect x="506.44" y="342.28" width="6.47" height="11.51" fill="#2078b4"/>
<rect x="512.46" y="342.28" width="12.49" height="11.51" fill="#2fa4c2"/>
<rect x="524.50" y="342.28" width="6.47" height="11.51" fill="#70c7bd"/>
<rect x="530.52" y="342.28" width="6.47" height="11.51" fill="#38adc3"/>
<rect x="536.54" y="342.28" width="6.47" height="11.51" fill="#225ea8"/>
<rect x="542.56" y="342.28" width="6.47" height="11.51" fill="#253494"/>
<rect x="548.58" y="342.28" width="6.47" height="11.51" fill="#081d58"/>
<rect x="554.60" y="342.28" width="6.47" height="11.51" fill="#1e2e85"/>
<rect x="560.62" y="342.28" width="6.47" height="11.51" fill="#162876"/>
<rect x="566.64" y="342.28" width="6.47" height="11.51" fill="#1e84ba"/>
<rect x="572.66" y="342.28" width="6.47" height="11.51" fill="#7fcdbb"/>
<rect x="578.68" y="342.28" width="6.47" height="11.51" fill="#2354a3"/>
<rect x="584.70" y="342.28" width="6.47" height="11.51" fill="#91d4b9"/>
<rect x="590.72" y="342.28" width="12.49" height="11.51" fill="#38adc3"/>
<rect x="602.76" y="342.28" width="4.69" height="11.51" fill="#41b6c4"/>
<rect x="205.44" y="353.30" width="6.47" height="4.65" fill="#24499e"/>
<rect x="211.46" y="353.30" width="6.47" height="4.65" fill="#1d91c0"/>
<rect x="217.48" y="353.30" width="6.47" height="4.65" fill="#7fcdbb"/>
<rect x="223.50" y="353.30" width="12.49" height="4.65" fill="#2078b4"/>
<rect x="235.54" y="353.30" width="6.47" height="4.65" fill="#41b6c4"/>
<rect x="331.86" y="353.30" width="6.47" height="4.65" fill="#7fcdbb"/>
<rect x="452.26" y="353.30" width="6.47" height="4.65" fill="#41b6c4"/>
<rect x="129.3" y="369.0" width="477.7" height="112.6" fill="#fbfbd4"/>
<rect x="129.30" y="369.60" width="4.35" height="2.48" fill="#7fcdbb"/>
<rect x="133.20" y="369.60" width="6.47" height="2.48" fill="#60c2c0"/>
<rect x="139.22" y="369.60" width="6.47" height="2.48" fill="#7fcdbb"/>
<rect x="145.24" y="369.60" width="6.47" height="2.48" fill="#a3dbb8"/>
<rect x="151.26" y="369.60" width="6.47" height="2.48" fill="#60c2c0"/>
<rect x="157.28" y="369.60" width="6.47" height="2.48" fill="#a3dbb8"/>
<rect x="163.30" y="369.60" width="12.49" height="2.48" fill="#60c2c0"/>
<rect x="175.34" y="369.60" width="6.47" height="2.48" fill="#daf0b2"/>
<rect x="181.36" y="369.60" width="6.47" height="2.48" fill="#7fcdbb"/>
<rect x="187.38" y="369.60" width="12.49" height="2.48" fill="#a3dbb8"/>
<rect x="199.42" y="369.60" width="12.49" height="2.48" fill="#7fcdbb"/>
<rect x="211.46" y="369.60" width="12.49" height="2.48" fill="#daf0b2"/>
<rect x="223.50" y="369.60" width="12.49" height="2.48" fill="#7fcdbb"/>
<rect x="235.54" y="369.60" width="6.47" height="2.48" fill="#c7e9b4"/>
<rect x="241.56" y="369.60" width="12.49" height="2.48" fill="#7fcdbb"/>
<rect x="253.60" y="369.60" width="6.47" height="2.48" fill="#edf8b1"/>
<rect x="259.62" y="369.60" width="12.49" height="2.48" fill="#daf0b2"/>
<rect x="271.66" y="369.60" width="6.47" height="2.48" fill="#a3dbb8"/>
<rect x="277.68" y="369.60" width="12.49" height="2.48" fill="#c7e9b4"/>
<rect x="289.72" y="369.60" width="6.47" height="2.48" fill="#daf0b2"/>
<rect x="295.74" y="369.60" width="6.47" height="2.48" fill="#c7e9b4"/>
<rect x="301.76" y="369.60" width="6.47" height="2.48" fill="#7fcdbb"/>
<rect x="307.78" y="369.60" width="6.47" height="2.48" fill="#a3dbb8"/>
<rect x="313.80" y="369.60" width="12.49" height="2.48" fill="#7fcdbb"/>
<rect x="325.84" y="369.60" width="6.47" height="2.48" fill="#c7e9b4"/>
<rect x="331.86" y="369.60" width="6.47" height="2.48" fill="#7fcdbb"/>
<rect x="337.88" y="369.60" width="6.47" height="2.48" fill="#60c2c0"/>
<rect x="343.90" y="369.60" width="6.47" height="2.48" fill="#7fcdbb"/>
<rect x="349.92" y="369.60" width="12.49" height="2.48" fill="#c7e9b4"/>
<rect x="361.96" y="369.60" width="18.51" height="2.48" fill="#a3dbb8"/>
<rect x="380.02" y="369.60" width="6.47" height="2.48" fill="#7fcdbb"/>
<rect x="386.04" y="369.60" width="6.47" height="2.48" fill="#a3dbb8"/>
<rect x="392.06" y="369.60" width="6.47" height="2.48" fill="#7fcdbb"/>
<rect x="398.08" y="369.60" width="12.49" height="2.48" fill="#a3dbb8"/>
<rect x="410.12" y="369.60" width="6.47" height="2.48" fill="#7fcdbb"/>
<rect x="416.14" y="369.60" width="6.47" height="2.48" fill="#60c2c0"/>
<rect x="422.16" y="369.60" width="6.47" height="2.48" fill="#c7e9b4"/>
<rect x="428.18" y="369.60" width="18.51" height="2.48" fill="#7fcdbb"/>
<rect x="446.24" y="369.60" width="6.47" height="2.48" fill="#60c2c0"/>
<rect x="452.26" y="369.60" width="24.53" height="2.48" fill="#7fcdbb"/>
<rect x="476.34" y="369.60" width="24.53" height="2.48" fill="#a3dbb8"/>
<rect x="500.42" y="369.60" width="18.51" height="2.48" fill="#7fcdbb"/>
<rect x="518.48" y="369.60" width="6.47" height="2.48" fill="#c7e9b4"/>
<rect x="524.50" y="369.60" width="6.47" height="2.48" fill="#60c2c0"/>
<rect x="530.52" y="369.60" width="30.55" height="2.48" fill="#7fcdbb"/>
<rect x="560.62" y="369.60" width="6.47" height="2.48" fill="#c7e9b4"/>
<rect x="566.64" y="369.60" width="6.47" height="2.48" fill="#7fcdbb"/>
<rect x="572.66" y="369.60" width="6.47" height="2.48" fill="#c7e9b4"/>
<rect x="578.68" y="369.60" width="28.77" height="2.48" fill="#7fcdbb"/>
<rect x="129.30" y="371.63" width="16.39" height="2.48" fill="#60c2c0"/>
<rect x="145.24" y="371.63" width="6.47" height="2.48" fill="#7fcdbb"/>
<rect x="151.26" y="371.63" width="6.47" height="2.48" fill="#60c2c0"/>
<rect x="157.28" y="371.63" width="12.49" height="2.48" fill="#7fcdbb"/>
<rect x="169.32" y="371.63" width="6.47" height="2.48" fill="#60c2c0"/>
<rect x="175.34" y="371.63" width="6.47" height="2.48" fill="#7fcdbb"/>
<rect x="181.36" y="371.63" width="6.47" height="2.48" fill="#60c2c0"/>
<rect x="187.38" y="371.63" width="12.49" height="2.48" fill="#7fcdbb"/>
<rect x="199.42" y="371.63" width="6.47" height="2.48" fill="#60c2c0"/>
<rect x="205.44" y="371.63" width="6.47" height="2.48" fill="#7fcdbb"/>
<rect x="211.46" y="371.63" width="12.49" height="2.48" fill="#a3dbb8"/>
<rect x="223.50" y="371.63" width="12.49" height="2.48" fill="#7fcdbb"/>
<rect x="235.54" y="371.63" width="12.49" height="2.48" fill="#a3dbb8"/>
<rect x="247.58" y="371.63" width="6.47" height="2.48" fill="#60c2c0"/>
<rect x="253.60" y="371.63" width="6.47" height="2.48" fill="#c7e9b4"/>
<rect x="259.62" y="371.63" width="6.47" height="2.48" fill="#f4fac2"/>
<rect x="265.64" y="371.63" width="6.47" height="2.48" fill="#c7e9b4"/>
<rect x="271.66" y="371.63" width="6.47" height="2.48" fill="#7fcdbb"/>
<rect x="277.68" y="371.63" width="12.49" height="2.48" fill="#daf0b2"/>
<rect x="289.72" y="371.63" width="12.49" height="2.48" fill="#c7e9b4"/>
<rect x="301.76" y="371.63" width="12.49" height="2.48" fill="#7fcdbb"/>
<rect x="313.80" y="371.63" width="12.49" height="2.48" fill="#60c2c0"/>
<rect x="325.84" y="371.63" width="12.49" height="2.48" fill="#7fcdbb"/>
<rect x="337.88" y="371.63" width="6.47" height="2.48" fill="#60c2c0"/>
<rect x="343.90" y="371.63" width="6.47" height="2.48" fill="#7fcdbb"/>
<rect x="349.92" y="371.63" width="6.47" height="2.48" fill="#daf0b2"/>
<rect x="355.94" y="371.63" width="6.47" height="2.48" fill="#c7e9b4"/>
<rect x="361.96" y="371.63" width="6.47" height="2.48" fill="#60c2c0"/>
<rect x="367.98" y="371.63" width="6.47" height="2.48" fill="#a3dbb8"/>
<rect x="374.00" y="371.63" width="12.49" height="2.48" fill="#7fcdbb"/>
<rect x="386.04" y="371.63" width="6.47" height="2.48" fill="#60c2c0"/>
<rect x="392.06" y="371.63" width="30.55" height="2.48" fill="#7fcdbb"/>
<rect x="422.16" y="371.63" width="12.49" height="2.48" fill="#a3dbb8"/>
<rect x="434.20" y="371.63" width="18.51" height="2.48" fill="#7fcdbb"/>
<rect x="452.26" y="371.63" width="6.47" height="2.48" fill="#60c2c0"/>
<rect x="458.28" y="371.63" width="18.51" height="2.48" fill="#7fcdbb"/>
<rect x="476.34" y="371.63" width="6.47" height="2.48" fill="#c7e9b4"/>
<rect x="482.36" y="371.63" width="6.47" height="2.48" fill="#a3dbb8"/>
<rect x="488.38" y="371.63" width="6.47" height="2.48" fill="#60c2c0"/>
<rect x="494.40" y="371.63" width="6.47" height="2.48" fill="#7fcdbb"/>
<rect x="500.42" y="371.63" width="6.47" height="2.48" fill="#c7e9b4"/>
<rect x="506.44" y="371.63" width="12.49" height="2.48" fill="#7fcdbb"/>
<rect x="518.48" y="371.63" width="6.47" height="2.48" fill="#a3dbb8"/>
<rect x="524.50" y="371.63" width="6.47" height="2.48" fill="#60c2c0"/>
<rect x="530.52" y="371.63" width="6.47" height="2.48" fill="#c7e9b4"/>
<rect x="536.54" y="371.63" width="6.47" height="2.48" fill="#60c2c0"/>
<rect x="542.56" y="371.63" width="6.47" height="2.48" fill="#a3dbb8"/>
<rect x="548.58" y="371.63" width="6.47" height="2.48" fill="#60c2c0"/>
<rect x="554.60" y="371.63" width="18.51" height="2.48" fill="#7fcdbb"/>
<rect x="572.66" y="371.63" width="6.47" height="2.48" fill="#a3dbb8"/>
<rect x="578.68" y="371.63" width="24.53" height="2.48" fill="#7fcdbb"/>
<rect x="602.76" y="371.63" width="4.69" height="2.48" fill="#60c2c0"/>
<rect x="129.30" y="373.66" width="10.37" height="2.48" fill="#41b6c4"/>
<rect x="139.22" y="373.66" width="6.47" height="2.48" fill="#38adc3"/>
<rect x="145.24" y="373.66" width="6.47" height="2.48" fill="#b5e2b6"/>
<rect x="151.26" y="373.66" width="6.47" height="2.48" fill="#60c2c0"/>
<rect x="157.28" y="373.66" width="12.49" height="2.48" fill="#41b6c4"/>
<rect x="169.32" y="373.66" width="6.47" height="2.48" fill="#7fcdbb"/>
<rect x="175.34" y="373.66" width="12.49" height="2.48" fill="#41b6c4"/>
<rect x="187.38" y="373.66" width="66.67" height="2.48" fill="#60c2c0"/>
<rect x="253.60" y="373.66" width="6.47" height="2.48" fill="#a3dbb8"/>
<rect x="265.64" y="373.66" width="12.49" height="2.48" fill="#7fcdbb"/>
<rect x="289.72" y="373.66" width="6.47" height="2.48" fill="#7fcdbb"/>
<rect x="295.74" y="373.66" width="6.47" height="2.48" fill="#a3dbb8"/>
<rect x="301.76" y="373.66" width="6.47" height="2.48" fill="#60c2c0"/>
<rect x="307.78" y="373.66" width="6.47" height="2.48" fill="#7fcdbb"/>
<rect x="313.80" y="373.66" width="6.47" height="2.48" fill="#60c2c0"/>
<rect x="319.82" y="373.66" width="12.49" height="2.48" fill="#7fcdbb"/>
<rect x="331.86" y="373.66" width="6.47" height="2.48" fill="#60c2c0"/>
<rect x="337.88" y="373.66" width="6.47" height="2.48" fill="#a3dbb8"/>
<rect x="343.90" y="373.66" width="6.47" height="2.48" fill="#60c2c0"/>
<rect x="349.92" y="373.66" width="12.49" height="2.48" fill="#7fcdbb"/>
<rect x="361.96" y="373.66" width="6.47" height="2.48" fill="#60c2c0"/>
<rect x="367.98" y="373.66" width="6.47" height="2.48" fill="#c7e9b4"/>
<rect x="374.00" y="373.66" width="6.47" height="2.48" fill="#daf0b2"/>
<rect x="380.02" y="373.66" width="6.47" height="2.48" fill="#7fcdbb"/>
<rect x="386.04" y="373.66" width="12.49" height="2.48" fill="#60c2c0"/>
<rect x="398.08" y="373.66" width="6.47" height="2.48" fill="#7fcdbb"/>
<rect x="404.10" y="373.66" width="18.51" height="2.48" fill="#60c2c0"/>
<rect x="422.16" y="373.66" width="6.47" height="2.48" fill="#7fcdbb"/>
<rect x="428.18" y="373.66" width="18.51" height="2.48" fill="#60c2c0"/>
<rect x="446.24" y="373.66" width="6.47" height="2.48" fill="#7fcdbb"/>
<rect x="452.26" y="373.66" width="6.47" height="2.48" fill="#daf0b2"/>
<rect x="458.28" y="373.66" width="12.49" height="2.48" fill="#7fcdbb"/>
<rect x="470.32" y="373.66" width="6.47" height="2.48" fill="#60c2c0"/>
<rect x="476.34" y="373.66" width="6.47" height="2.48" fill="#daf0b2"/>
<rect x="482.36" y="373.66" width="12.49" height="2.48" fill="#7fcdbb"/>
<rect x="494.40" y="373.66" width="12.49" height="2.48" fill="#60c2c0"/>
<rect x="506.44" y="373.66" width="18.51" height="2.48" fill="#7fcdbb"/>
<rect x="524.50" y="373.66" width="6.47" height="2.48" fill="#41b6c4"/>
<rect x="530.52" y="373.66" width="12.49" height="2.48" fill="#7fcdbb"/>
<rect x="542.56" y="373.66" width="6.47" height="2.48" fill="#60c2c0"/>
<rect x="548.58" y="373.66" width="6.47" height="2.48" fill="#7fcdbb"/>
<rect x="554.60" y="373.66" width="18.51" height="2.48" fill="#60c2c0"/>
<rect x="572.66" y="373.66" width="6.47" height="2.48" fill="#7fcdbb"/>
<rect x="578.68" y="373.66" width="6.47" height="2.48" fill="#60c2c0"/>
<rect x="584.70" y="373.66" width="6.47" height="2.48" fill="#7fcdbb"/>
<rect x="590.72" y="373.66" width="12.49" height="2.48" fill="#a3dbb8"/>
<rect x="602.76" y="373.66" width="4.69" height="2.48" fill="#41b6c4"/>
<rect x="129.30" y="375.69" width="4.35" height="2.48" fill="#41b6c4"/>
<rect x="133.20" y="375.69" width="6.47" height="2.48" fill="#38adc3"/>
<rect x="139.22" y="375.69" width="6.47" height="2.48" fill="#2fa4c2"/>
<rect x="145.24" y="375.69" width="6.47" height="2.48" fill="#60c2c0"/>
<rect x="151.26" y="375.69" width="6.47" height="2.48" fill="#50bcc2"/>
<rect x="157.28" y="375.69" width="6.47" height="2.48" fill="#2fa4c2"/>
<rect x="163.30" y="375.69" width="24.53" height="2.48" fill="#41b6c4"/>
<rect x="187.38" y="375.69" width="6.47" height="2.48" fill="#60c2c0"/>
<rect x="193.40" y="375.69" width="12.49" height="2.48" fill="#41b6c4"/>
<rect x="205.44" y="375.69" width="6.47" height="2.48" fill="#60c2c0"/>
<rect x="211.46" y="375.69" width="18.51" height="2.48" fill="#41b6c4"/>
<rect x="229.52" y="375.69" width="24.53" height="2.48" fill="#60c2c0"/>
<rect x="253.60" y="375.69" width="6.47" height="2.48" fill="#7fcdbb"/>
<rect x="259.62" y="375.69" width="6.47" height="2.48" fill="#c7e9b4"/>
<rect x="265.64" y="375.69" width="6.47" height="2.48" fill="#7fcdbb"/>
<rect x="271.66" y="375.69" width="6.47" height="2.48" fill="#60c2c0"/>
<rect x="277.68" y="375.69" width="12.49" height="2.48" fill="#a3dbb8"/>
<rect x="289.72" y="375.69" width="6.47" height="2.48" fill="#7fcdbb"/>
<rect x="295.74" y="375.69" width="12.49" height="2.48" fill="#60c2c0"/>
<rect x="307.78" y="375.69" width="6.47" height="2.48" fill="#a3dbb8"/>
<rect x="313.80" y="375.69" width="6.47" height="2.48" fill="#7fcdbb"/>
<rect x="319.82" y="375.69" width="6.47" height="2.48" fill="#60c2c0"/>
<rect x="325.84" y="375.69" width="6.47" height="2.48" fill="#a3dbb8"/>
<rect x="331.86" y="375.69" width="6.47" height="2.48" fill="#60c2c0"/>
<rect x="337.88" y="375.69" width="6.47" height="2.48" fill="#c7e9b4"/>
<rect x="343.90" y="375.69" width="18.51" height="2.48" fill="#7fcdbb"/>
<rect x="361.96" y="375.69" width="6.47" height="2.48" fill="#60c2c0"/>
<rect x="367.98" y="375.69" width="6.47" height="2.48" fill="#daf0b2"/>
<rect x="374.00" y="375.69" width="12.49" height="2.48" fill="#7fcdbb"/>
<rect x="386.04" y="375.69" width="12.49" height="2.48" fill="#41b6c4"/>
<rect x="398.08" y="375.69" width="12.49" height="2.48" fill="#60c2c0"/>
<rect x="410.12" y="375.69" width="6.47" height="2.48" fill="#2fa4c2"/>
<rect x="416.14" y="375.69" width="12.49" height="2.48" fill="#60c2c0"/>
<rect x="428.18" y="375.69" width="6.47" height="2.48" fill="#7fcdbb"/>
<rect x="434.20" y="375.69" width="36.57" height="2.48" fill="#60c2c0"/>
<rect x="470.32" y="375.69" width="12.49" height="2.48" fill="#7fcdbb"/>
<rect x="482.36" y="375.69" width="6.47" height="2.48" fill="#60c2c0"/>
<rect x="488.38" y="375.69" width="6.47" height="2.48" fill="#7fcdbb"/>
<rect x="494.40" y="375.69" width="24.53" height="2.48" fill="#60c2c0"/>
<rect x="518.48" y="375.69" width="12.49" height="2.48" fill="#7fcdbb"/>
<rect x="530.52" y="375.69" width="12.49" height="2.48" fill="#60c2c0"/>
<rect x="542.56" y="375.69" width="6.47" height="2.48" fill="#41b6c4"/>
<rect x="548.58" y="375.69" width="54.63" height="2.48" fill="#60c2c0"/>
<rect x="602.76" y="375.69" width="4.69" height="2.48" fill="#41b6c4"/>
<rect x="129.30" y="377.72" width="52.51" height="2.48" fill="#41b6c4"/>
<rect x="181.36" y="377.72" width="6.47" height="2.48" fill="#2fa4c2"/>
<rect x="187.38" y="377.72" width="12.49" height="2.48" fill="#41b6c4"/>
<rect x="199.42" y="377.72" width="6.47" height="2.48" fill="#60c2c0"/>
<rect x="205.44" y="377.72" width="6.47" height="2.48" fill="#41b6c4"/>
<rect x="211.46" y="377.72" width="6.47" height="2.48" fill="#60c2c0"/>
<rect x="217.48" y="377.72" width="36.57" height="2.48" fill="#41b6c4"/>
<rect x="253.60" y="377.72" width="6.47" height="2.48" fill="#7fcdbb"/>
<rect x="259.62" y="377.72" width="6.47" height="2.48" fill="#a3dbb8"/>
<rect x="265.64" y="377.72" width="6.47" height="2.48" fill="#41b6c4"/>
<rect x="271.66" y="377.72" width="6.47" height="2.48" fill="#60c2c0"/>
<rect x="277.68" y="377.72" width="6.47" height="2.48" fill="#a3dbb8"/>
<rect x="283.70" y="377.72" width="6.47" height="2.48" fill="#c7e9b4"/>
<rect x="289.72" y="377.72" width="6.47" height="2.48" fill="#60c2c0"/>
<rect x="295.74" y="377.72" width="12.49" height="2.48" fill="#2fa4c2"/>
<rect x="307.78" y="377.72" width="6.47" height="2.48" fill="#7fcdbb"/>
<rect x="313.80" y="377.72" width="6.47" height="2.48" fill="#a3dbb8"/>
<rect x="319.82" y="377.72" width="12.49" height="2.48" fill="#7fcdbb"/>
<rect x="331.86" y="377.72" width="6.47" height="2.48" fill="#41b6c4"/>
<rect x="337.88" y="377.72" width="6.47" height="2.48" fill="#a3dbb8"/>
<rect x="343.90" y="377.72" width="6.47" height="2.48" fill="#7fcdbb"/>
<rect x="349.92" y="377.72" width="6.47" height="2.48" fill="#a3dbb8"/>
<rect x="355.94" y="377.72" width="6.47" height="2.48" fill="#7fcdbb"/>
<rect x="361.96" y="377.72" width="6.47" height="2.48" fill="#41b6c4"/>
<rect x="367.98" y="377.72" width="6.47" height="2.48" fill="#7fcdbb"/>
<rect x="374.00" y="377.72" width="6.47" height="2.48" fill="#60c2c0"/>
<rect x="380.02" y="377.72" width="6.47" height="2.48" fill="#7fcdbb"/>
<rect x="386.04" y="377.72" width="24.53" height="2.48" fill="#41b6c4"/>
<rect x="410.12" y="377.72" width="6.47" height="2.48" fill="#2fa4c2"/>
<rect x="416.14" y="377.72" width="12.49" height="2.48" fill="#41b6c4"/>
<rect x="428.18" y="377.72" width="6.47" height="2.48" fill="#60c2c0"/>
<rect x="434.20" y="377.72" width="12.49" height="2.48" fill="#41b6c4"/>
<rect x="446.24" y="377.72" width="6.47" height="2.48" fill="#a3dbb8"/>
<rect x="452.26" y="377.72" width="6.47" height="2.48" fill="#41b6c4"/>
<rect x="458.28" y="377.72" width="6.47" height="2.48" fill="#60c2c0"/>
<rect x="464.30" y="377.72" width="6.47" height="2.48" fill="#41b6c4"/>
<rect x="470.32" y="377.72" width="48.61" height="2.48" fill="#60c2c0"/>
<rect x="518.48" y="377.72" width="6.47" height="2.48" fill="#7fcdbb"/>
<rect x="524.50" y="377.72" width="6.47" height="2.48" fill="#a3dbb8"/>
<rect x="530.52" y="377.72" width="6.47" height="2.48" fill="#41b6c4"/>
<rect x="536.54" y="377.72" width="6.47" height="2.48" fill="#2fa4c2"/>
<rect x="542.56" y="377.72" width="6.47" height="2.48" fill="#60c2c0"/>
<rect x="548.58" y="377.72" width="12.49" height="2.48" fill="#41b6c4"/>
<rect x="560.62" y="377.72" width="6.47" height="2.48" fill="#60c2c0"/>
<rect x="566.64" y="377.72" width="6.47" height="2.48" fill="#41b6c4"/>
<rect x="572.66" y="377.72" width="6.47" height="2.48" fill="#7fcdbb"/>
<rect x="578.68" y="377.72" width="12.49" height="2.48" fill="#60c2c0"/>
<rect x="590.72" y="377.72" width="16.73" height="2.48" fill="#41b6c4"/>
<rect x="129.30" y="379.75" width="40.47" height="2.48" fill="#60c2c0"/>
<rect x="169.32" y="379.75" width="12.49" height="2.48" fill="#41b6c4"/>
<rect x="181.36" y="379.75" width="6.47" height="2.48" fill="#1d91c0"/>
<rect x="187.38" y="379.75" width="12.49" height="2.48" fill="#2fa4c2"/>
<rect x="199.42" y="379.75" width="18.51" height="2.48" fill="#41b6c4"/>
<rect x="217.48" y="379.75" width="12.49" height="2.48" fill="#2fa4c2"/>
<rect x="229.52" y="379.75" width="24.53" height="2.48" fill="#41b6c4"/>
<rect x="253.60" y="379.75" width="6.47" height="2.48" fill="#a3dbb8"/>
<rect x="259.62" y="379.75" width="6.47" height="2.48" fill="#c7e9b4"/>
<rect x="271.66" y="379.75" width="6.47" height="2.48" fill="#60c2c0"/>
<rect x="277.68" y="379.75" width="12.49" height="2.48" fill="#c7e9b4"/>
<rect x="289.72" y="379.75" width="6.47" height="2.48" fill="#7fcdbb"/>
<rect x="295.74" y="379.75" width="6.47" height="2.48" fill="#1d91c0"/>
<rect x="301.76" y="379.75" width="6.47" height="2.48" fill="#2fa4c2"/>
<rect x="307.78" y="379.75" width="12.49" height="2.48" fill="#60c2c0"/>
<rect x="319.82" y="379.75" width="6.47" height="2.48" fill="#41b6c4"/>
<rect x="325.84" y="379.75" width="6.47" height="2.48" fill="#a3dbb8"/>
<rect x="331.86" y="379.75" width="6.47" height="2.48" fill="#41b6c4"/>
<rect x="337.88" y="379.75" width="12.49" height="2.48" fill="#7fcdbb"/>
<rect x="349.92" y="379.75" width="6.47" height="2.48" fill="#c7e9b4"/>
<rect x="355.94" y="379.75" width="6.47" height="2.48" fill="#7fcdbb"/>
<rect x="361.96" y="379.75" width="6.47" height="2.48" fill="#60c2c0"/>
<rect x="367.98" y="379.75" width="6.47" height="2.48" fill="#7fcdbb"/>
<rect x="374.00" y="379.75" width="12.49" height="2.48" fill="#60c2c0"/>
<rect x="386.04" y="379.75" width="6.47" height="2.48" fill="#2fa4c2"/>
<rect x="392.06" y="379.75" width="24.53" height="2.48" fill="#41b6c4"/>
<rect x="416.14" y="379.75" width="6.47" height="2.48" fill="#2fa4c2"/>
<rect x="422.16" y="379.75" width="24.53" height="2.48" fill="#41b6c4"/>
<rect x="446.24" y="379.75" width="6.47" height="2.48" fill="#60c2c0"/>
<rect x="452.26" y="379.75" width="6.47" height="2.48" fill="#2fa4c2"/>
<rect x="458.28" y="379.75" width="6.47" height="2.48" fill="#c7e9b4"/>
<rect x="464.30" y="379.75" width="12.49" height="2.48" fill="#41b6c4"/>
<rect x="476.34" y="379.75" width="24.53" height="2.48" fill="#60c2c0"/>
<rect x="500.42" y="379.75" width="6.47" height="2.48" fill="#41b6c4"/>
<rect x="506.44" y="379.75" width="18.51" height="2.48" fill="#60c2c0"/>
<rect x="524.50" y="379.75" width="6.47" height="2.48" fill="#2fa4c2"/>
<rect x="530.52" y="379.75" width="6.47" height="2.48" fill="#60c2c0"/>
<rect x="536.54" y="379.75" width="6.47" height="2.48" fill="#1d91c0"/>
<rect x="542.56" y="379.75" width="6.47" height="2.48" fill="#41b6c4"/>
<rect x="548.58" y="379.75" width="6.47" height="2.48" fill="#60c2c0"/>
<rect x="554.60" y="379.75" width="18.51" height="2.48" fill="#41b6c4"/>
<rect x="572.66" y="379.75" width="6.47" height="2.48" fill="#7fcdbb"/>
<rect x="578.68" y="379.75" width="6.47" height="2.48" fill="#60c2c0"/>
<rect x="584.70" y="379.75" width="6.47" height="2.48" fill="#41b6c4"/>
<rect x="590.72" y="379.75" width="12.49" height="2.48" fill="#60c2c0"/>
<rect x="602.76" y="379.75" width="4.69" height="2.48" fill="#41b6c4"/>
<rect x="129.30" y="381.78" width="4.35" height="2.48" fill="#41b6c4"/>
<rect x="133.20" y="381.78" width="6.47" height="2.48" fill="#38adc3"/>
<rect x="139.22" y="381.78" width="6.47" height="2.48" fill="#60c2c0"/>
<rect x="145.24" y="381.78" width="24.53" height="2.48" fill="#41b6c4"/>
<rect x="169.32" y="381.78" width="12.49" height="2.48" fill="#60c2c0"/>
<rect x="181.36" y="381.78" width="12.49" height="2.48" fill="#2fa4c2"/>
<rect x="193.40" y="381.78" width="30.55" height="2.48" fill="#41b6c4"/>
<rect x="223.50" y="381.78" width="18.51" height="2.48" fill="#2fa4c2"/>
<rect x="241.56" y="381.78" width="12.49" height="2.48" fill="#41b6c4"/>
<rect x="271.66" y="381.78" width="6.47" height="2.48" fill="#7fcdbb"/>
<rect x="277.68" y="381.78" width="12.49" height="2.48" fill="#daf0b2"/>
<rect x="289.72" y="381.78" width="6.47" height="2.48" fill="#a3dbb8"/>
<rect x="295.74" y="381.78" width="6.47" height="2.48" fill="#1d91c0"/>
<rect x="301.76" y="381.78" width="6.47" height="2.48" fill="#41b6c4"/>
<rect x="307.78" y="381.78" width="6.47" height="2.48" fill="#7fcdbb"/>
<rect x="313.80" y="381.78" width="12.49" height="2.48" fill="#60c2c0"/>
<rect x="325.84" y="381.78" width="6.47" height="2.48" fill="#41b6c4"/>
<rect x="331.86" y="381.78" width="6.47" height="2.48" fill="#2fa4c2"/>
<rect x="337.88" y="381.78" width="6.47" height="2.48" fill="#c7e9b4"/>
<rect x="343.90" y="381.78" width="6.47" height="2.48" fill="#a3dbb8"/>
<rect x="349.92" y="381.78" width="12.49" height="2.48" fill="#7fcdbb"/>
<rect x="361.96" y="381.78" width="24.53" height="2.48" fill="#60c2c0"/>
<rect x="386.04" y="381.78" width="6.47" height="2.48" fill="#1d91c0"/>
<rect x="392.06" y="381.78" width="6.47" height="2.48" fill="#2fa4c2"/>
<rect x="398.08" y="381.78" width="6.47" height="2.48" fill="#41b6c4"/>
<rect x="404.10" y="381.78" width="6.47" height="2.48" fill="#2fa4c2"/>
<rect x="410.12" y="381.78" width="6.47" height="2.48" fill="#41b6c4"/>
<rect x="416.14" y="381.78" width="12.49" height="2.48" fill="#2fa4c2"/>
<rect x="428.18" y="381.78" width="24.53" height="2.48" fill="#41b6c4"/>
<rect x="452.26" y="381.78" width="6.47" height="2.48" fill="#2fa4c2"/>
<rect x="458.28" y="381.78" width="6.47" height="2.48" fill="#c7e9b4"/>
<rect x="464.30" y="381.78" width="6.47" height="2.48" fill="#41b6c4"/>
<rect x="470.32" y="381.78" width="6.47" height="2.48" fill="#7fcdbb"/>
<rect x="476.34" y="381.78" width="12.49" height="2.48" fill="#60c2c0"/>
<rect x="488.38" y="381.78" width="6.47" height="2.48" fill="#7fcdbb"/>
<rect x="494.40" y="381.78" width="6.47" height="2.48" fill="#a3dbb8"/>
<rect x="500.42" y="381.78" width="18.51" height="2.48" fill="#60c2c0"/>
<rect x="518.48" y="381.78" width="6.47" height="2.48" fill="#7fcdbb"/>
<rect x="524.50" y="381.78" width="6.47" height="2.48" fill="#c7e9b4"/>
<rect x="530.52" y="381.78" width="6.47" height="2.48" fill="#60c2c0"/>
<rect x="536.54" y="381.78" width="6.47" height="2.48" fill="#2fa4c2"/>
<rect x="542.56" y="381.78" width="6.47" height="2.48" fill="#7fcdbb"/>
<rect x="548.58" y="381.78" width="6.47" height="2.48" fill="#c7e9b4"/>
<rect x="554.60" y="381.78" width="6.47" height="2.48" fill="#60c2c0"/>
<rect x="560.62" y="381.78" width="6.47" height="2.48" fill="#41b6c4"/>
<rect x="566.64" y="381.78" width="6.47" height="2.48" fill="#60c2c0"/>
<rect x="572.66" y="381.78" width="6.47" height="2.48" fill="#7fcdbb"/>
<rect x="578.68" y="381.78" width="6.47" height="2.48" fill="#60c2c0"/>
<rect x="584.70" y="381.78" width="6.47" height="2.48" fill="#7fcdbb"/>
<rect x="590.72" y="381.78" width="12.49" height="2.48" fill="#60c2c0"/>
<rect x="602.76" y="381.78" width="4.69" height="2.48" fill="#41b6c4"/>
<rect x="129.30" y="383.81" width="4.35" height="2.48" fill="#41b6c4"/>
<rect x="133.20" y="383.81" width="6.47" height="2.48" fill="#38adc3"/>
<rect x="139.22" y="383.81" width="6.47" height="2.48" fill="#50bcc2"/>
<rect x="145.24" y="383.81" width="6.47" height="2.48" fill="#41b6c4"/>
<rect x="151.26" y="383.81" width="6.47" height="2.48" fill="#60c2c0"/>
<rect x="157.28" y="383.81" width="6.47" height="2.48" fill="#41b6c4"/>
<rect x="163.30" y="383.81" width="6.47" height="2.48" fill="#2fa4c2"/>
<rect x="169.32" y="383.81" width="54.63" height="2.48" fill="#41b6c4"/>
<rect x="223.50" y="383.81" width="18.51" height="2.48" fill="#2fa4c2"/>
<rect x="241.56" y="383.81" width="12.49" height="2.48" fill="#41b6c4"/>
<rect x="265.64" y="383.81" width="6.47" height="2.48" fill="#60c2c0"/>
<rect x="295.74" y="383.81" width="6.47" height="2.48" fill="#1d91c0"/>
<rect x="301.76" y="383.81" width="6.47" height="2.48" fill="#41b6c4"/>
<rect x="313.80" y="383.81" width="6.47" height="2.48" fill="#60c2c0"/>
<rect x="319.82" y="383.81" width="12.49" height="2.48" fill="#41b6c4"/>
<rect x="331.86" y="383.81" width="6.47" height="2.48" fill="#2fa4c2"/>
<rect x="337.88" y="383.81" width="12.49" height="2.48" fill="#60c2c0"/>
<rect x="349.92" y="383.81" width="12.49" height="2.48" fill="#7fcdbb"/>
<rect x="361.96" y="383.81" width="12.49" height="2.48" fill="#60c2c0"/>
<rect x="374.00" y="383.81" width="6.47" height="2.48" fill="#41b6c4"/>
<rect x="380.02" y="383.81" width="6.47" height="2.48" fill="#7fcdbb"/>
<rect x="386.04" y="383.81" width="6.47" height="2.48" fill="#2fa4c2"/>
<rect x="392.06" y="383.81" width="24.53" height="2.48" fill="#41b6c4"/>
<rect x="416.14" y="383.81" width="6.47" height="2.48" fill="#1d91c0"/>
<rect x="422.16" y="383.81" width="6.47" height="2.48" fill="#2fa4c2"/>
<rect x="428.18" y="383.81" width="6.47" height="2.48" fill="#60c2c0"/>
<rect x="434.20" y="383.81" width="12.49" height="2.48" fill="#41b6c4"/>
<rect x="446.24" y="383.81" width="6.47" height="2.48" fill="#2fa4c2"/>
<rect x="452.26" y="383.81" width="6.47" height="2.48" fill="#41b6c4"/>
<rect x="458.28" y="383.81" width="6.47" height="2.48" fill="#60c2c0"/>
<rect x="464.30" y="383.81" width="6.47" height="2.48" fill="#41b6c4"/>
<rect x="470.32" y="383.81" width="6.47" height="2.48" fill="#a3dbb8"/>
<rect x="476.34" y="383.81" width="6.47" height="2.48" fill="#1d91c0"/>
<rect x="482.36" y="383.81" width="6.47" height="2.48" fill="#60c2c0"/>
<rect x="488.38" y="383.81" width="6.47" height="2.48" fill="#41b6c4"/>
<rect x="494.40" y="383.81" width="6.47" height="2.48" fill="#60c2c0"/>
<rect x="500.42" y="383.81" width="6.47" height="2.48" fill="#7fcdbb"/>
<rect x="506.44" y="383.81" width="6.47" height="2.48" fill="#60c2c0"/>
<rect x="512.46" y="383.81" width="12.49" height="2.48" fill="#7fcdbb"/>
<rect x="524.50" y="383.81" width="6.47" height="2.48" fill="#2fa4c2"/>
<rect x="530.52" y="383.81" width="6.47" height="2.48" fill="#60c2c0"/>
<rect x="536.54" y="383.81" width="6.47" height="2.48" fill="#1d91c0"/>
<rect x="542.56" y="383.81" width="6.47" height="2.48" fill="#2fa4c2"/>
<rect x="548.58" y="383.81" width="6.47" height="2.48" fill="#60c2c0"/>
<rect x="554.60" y="383.81" width="12.49" height="2.48" fill="#41b6c4"/>
<rect x="566.64" y="383.81" width="6.47" height="2.48" fill="#60c2c0"/>
<rect x="572.66" y="383.81" width="6.47" height="2.48" fill="#a3dbb8"/>
<rect x="578.68" y="383.81" width="6.47" height="2.48" fill="#60c2c0"/>
<rect x="584.70" y="383.81" width="6.47" height="2.48" fill="#c7e9b4"/>
<rect x="590.72" y="383.81" width="6.47" height="2.48" fill="#7fcdbb"/>
<rect x="596.74" y="383.81" width="6.47" height="2.48" fill="#60c2c0"/>
<rect x="602.76" y="383.81" width="4.69" height="2.48" fill="#41b6c4"/>
<rect x="129.30" y="385.84" width="10.37" height="2.48" fill="#41b6c4"/>
<rect x="139.22" y="385.84" width="6.47" height="2.48" fill="#7fcdbb"/>
<rect x="145.24" y="385.84" width="12.49" height="2.48" fill="#41b6c4"/>
<rect x="157.28" y="385.84" width="6.47" height="2.48" fill="#2fa4c2"/>
<rect x="163.30" y="385.84" width="6.47" height="2.48" fill="#1d91c0"/>
<rect x="169.32" y="385.84" width="6.47" height="2.48" fill="#41b6c4"/>
<rect x="175.34" y="385.84" width="6.47" height="2.48" fill="#2fa4c2"/>
<rect x="181.36" y="385.84" width="6.47" height="2.48" fill="#7fcdbb"/>
<rect x="187.38" y="385.84" width="36.57" height="2.48" fill="#41b6c4"/>
<rect x="223.50" y="385.84" width="6.47" height="2.48" fill="#2fa4c2"/>
<rect x="229.52" y="385.84" width="6.47" height="2.48" fill="#1d91c0"/>
<rect x="235.54" y="385.84" width="6.47" height="2.48" fill="#2fa4c2"/>
<rect x="241.56" y="385.84" width="12.49" height="2.48" fill="#41b6c4"/>
<rect x="253.60" y="385.84" width="6.47" height="2.48" fill="#60c2c0"/>
<rect x="265.64" y="385.84" width="6.47" height="2.48" fill="#60c2c0"/>
<rect x="277.68" y="385.84" width="12.49" height="2.48" fill="#41b6c4"/>
<rect x="295.74" y="385.84" width="12.49" height="2.48" fill="#1d91c0"/>
<rect x="307.78" y="385.84" width="6.47" height="2.48" fill="#60c2c0"/>
<rect x="319.82" y="385.84" width="6.47" height="2.48" fill="#41b6c4"/>
<rect x="331.86" y="385.84" width="6.47" height="2.48" fill="#2fa4c2"/>
<rect x="337.88" y="385.84" width="6.47" height="2.48" fill="#41b6c4"/>
<rect x="343.90" y="385.84" width="6.47" height="2.48" fill="#60c2c0"/>
<rect x="349.92" y="385.84" width="12.49" height="2.48" fill="#7fcdbb"/>
<rect x="361.96" y="385.84" width="6.47" height="2.48" fill="#60c2c0"/>
<rect x="367.98" y="385.84" width="6.47" height="2.48" fill="#41b6c4"/>
<rect x="374.00" y="385.84" width="6.47" height="2.48" fill="#60c2c0"/>
<rect x="380.02" y="385.84" width="6.47" height="2.48" fill="#a3dbb8"/>
<rect x="386.04" y="385.84" width="12.49" height="2.48" fill="#41b6c4"/>
<rect x="398.08" y="385.84" width="6.47" height="2.48" fill="#60c2c0"/>
<rect x="404.10" y="385.84" width="12.49" height="2.48" fill="#41b6c4"/>
<rect x="416.14" y="385.84" width="6.47" height="2.48" fill="#60c2c0"/>
<rect x="422.16" y="385.84" width="6.47" height="2.48" fill="#41b6c4"/>
<rect x="428.18" y="385.84" width="6.47" height="2.48" fill="#2fa4c2"/>
<rect x="434.20" y="385.84" width="36.57" height="2.48" fill="#41b6c4"/>
<rect x="470.32" y="385.84" width="54.63" height="2.48" fill="#60c2c0"/>
<rect x="524.50" y="385.84" width="6.47" height="2.48" fill="#2fa4c2"/>
<rect x="530.52" y="385.84" width="12.49" height="2.48" fill="#41b6c4"/>
<rect x="542.56" y="385.84" width="6.47" height="2.48" fill="#2fa4c2"/>
<rect x="548.58" y="385.84" width="24.53" height="2.48" fill="#41b6c4"/>
<rect x="572.66" y="385.84" width="12.49" height="2.48" fill="#60c2c0"/>
<rect x="584.70" y="385.84" width="6.47" height="2.48" fill="#7fcdbb"/>
<rect x="590.72" y="385.84" width="12.49" height="2.48" fill="#60c2c0"/>
<rect x="602.76" y="385.84" width="4.69" height="2.48" fill="#41b6c4"/>
<rect x="129.30" y="387.87" width="22.41" height="2.48" fill="#41b6c4"/>
<rect x="151.26" y="387.87" width="6.47" height="2.48" fill="#60c2c0"/>
<rect x="157.28" y="387.87" width="6.47" height="2.48" fill="#41b6c4"/>
<rect x="163.30" y="387.87" width="6.47" height="2.48" fill="#2fa4c2"/>
<rect x="169.32" y="387.87" width="12.49" height="2.48" fill="#41b6c4"/>
<rect x="181.36" y="387.87" width="6.47" height="2.48" fill="#7fcdbb"/>
<rect x="187.38" y="387.87" width="42.59" height="2.48" fill="#41b6c4"/>
<rect x="229.52" y="387.87" width="12.49" height="2.48" fill="#2fa4c2"/>
<rect x="241.56" y="387.87" width="6.47" height="2.48" fill="#41b6c4"/>
<rect x="247.58" y="387.87" width="12.49" height="2.48" fill="#60c2c0"/>
<rect x="277.68" y="387.87" width="12.49" height="2.48" fill="#2fa4c2"/>
<rect x="295.74" y="387.87" width="12.49" height="2.48" fill="#1d91c0"/>
<rect x="307.78" y="387.87" width="6.47" height="2.48" fill="#41b6c4"/>
<rect x="331.86" y="387.87" width="6.47" height="2.48" fill="#1d91c0"/>
<rect x="337.88" y="387.87" width="6.47" height="2.48" fill="#2fa4c2"/>
<rect x="343.90" y="387.87" width="6.47" height="2.48" fill="#41b6c4"/>
<rect x="349.92" y="387.87" width="24.53" height="2.48" fill="#60c2c0"/>
<rect x="374.00" y="387.87" width="6.47" height="2.48" fill="#41b6c4"/>
<rect x="380.02" y="387.87" width="6.47" height="2.48" fill="#60c2c0"/>
<rect x="386.04" y="387.87" width="6.47" height="2.48" fill="#41b6c4"/>
<rect x="392.06" y="387.87" width="6.47" height="2.48" fill="#60c2c0"/>
<rect x="398.08" y="387.87" width="12.49" height="2.48" fill="#41b6c4"/>
<rect x="410.12" y="387.87" width="6.47" height="2.48" fill="#60c2c0"/>
<rect x="416.14" y="387.87" width="66.67" height="2.48" fill="#41b6c4"/>
<rect x="482.36" y="387.87" width="18.51" height="2.48" fill="#60c2c0"/>
<rect x="500.42" y="387.87" width="24.53" height="2.48" fill="#41b6c4"/>
<rect x="524.50" y="387.87" width="6.47" height="2.48" fill="#2fa4c2"/>
<rect x="530.52" y="387.87" width="6.47" height="2.48" fill="#60c2c0"/>
<rect x="536.54" y="387.87" width="12.49" height="2.48" fill="#2fa4c2"/>
<rect x="548.58" y="387.87" width="36.57" height="2.48" fill="#41b6c4"/>
<rect x="584.70" y="387.87" width="6.47" height="2.48" fill="#60c2c0"/>
<rect x="590.72" y="387.87" width="16.73" height="2.48" fill="#41b6c4"/>
<rect x="129.30" y="389.90" width="10.37" height="2.48" fill="#41b6c4"/>
<rect x="139.22" y="389.90" width="6.47" height="2.48" fill="#2fa4c2"/>
<rect x="145.24" y="389.90" width="12.49" height="2.48" fill="#41b6c4"/>
<rect x="157.28" y="389.90" width="6.47" height="2.48" fill="#f4fac2"/>
<rect x="163.30" y="389.90" width="30.55" height="2.48" fill="#41b6c4"/>
<rect x="193.40" y="389.90" width="12.49" height="2.48" fill="#60c2c0"/>
<rect x="205.44" y="389.90" width="18.51" height="2.48" fill="#41b6c4"/>
<rect x="223.50" y="389.90" width="12.49" height="2.48" fill="#2fa4c2"/>
<rect x="235.54" y="389.90" width="12.49" height="2.48" fill="#41b6c4"/>
<rect x="247.58" y="389.90" width="6.47" height="2.48" fill="#60c2c0"/>
<rect x="265.64" y="389.90" width="12.49" height="2.48" fill="#41b6c4"/>
<rect x="277.68" y="389.90" width="12.49" height="2.48" fill="#1d91c0"/>
<rect x="295.74" y="389.90" width="18.51" height="2.48" fill="#1d91c0"/>
<rect x="319.82" y="389.90" width="6.47" height="2.48" fill="#7fcdbb"/>
<rect x="331.86" y="389.90" width="12.49" height="2.48" fill="#1d91c0"/>
<rect x="343.90" y="389.90" width="6.47" height="2.48" fill="#2fa4c2"/>
<rect x="349.92" y="389.90" width="18.51" height="2.48" fill="#41b6c4"/>
<rect x="367.98" y="389.90" width="6.47" height="2.48" fill="#60c2c0"/>
<rect x="374.00" y="389.90" width="24.53" height="2.48" fill="#41b6c4"/>
<rect x="398.08" y="389.90" width="6.47" height="2.48" fill="#1d91c0"/>
<rect x="410.12" y="389.90" width="6.47" height="2.48" fill="#60c2c0"/>
<rect x="416.14" y="389.90" width="6.47" height="2.48" fill="#2fa4c2"/>
<rect x="422.16" y="389.90" width="6.47" height="2.48" fill="#41b6c4"/>
<rect x="428.18" y="389.90" width="6.47" height="2.48" fill="#2fa4c2"/>
<rect x="434.20" y="389.90" width="12.49" height="2.48" fill="#1d91c0"/>
<rect x="446.24" y="389.90" width="12.49" height="2.48" fill="#41b6c4"/>
<rect x="458.28" y="389.90" width="24.53" height="2.48" fill="#2fa4c2"/>
<rect x="482.36" y="389.90" width="24.53" height="2.48" fill="#41b6c4"/>
<rect x="506.44" y="389.90" width="6.47" height="2.48" fill="#2fa4c2"/>
<rect x="512.46" y="389.90" width="12.49" height="2.48" fill="#41b6c4"/>
<rect x="524.50" y="389.90" width="6.47" height="2.48" fill="#2fa4c2"/>
<rect x="530.52" y="389.90" width="6.47" height="2.48" fill="#60c2c0"/>
<rect x="536.54" y="389.90" width="6.47" height="2.48" fill="#2078b4"/>
<rect x="542.56" y="389.90" width="12.49" height="2.48" fill="#2fa4c2"/>
<rect x="554.60" y="389.90" width="6.47" height="2.48" fill="#41b6c4"/>
<rect x="560.62" y="389.90" width="6.47" height="2.48" fill="#2fa4c2"/>
<rect x="566.64" y="389.90" width="12.49" height="2.48" fill="#41b6c4"/>
<rect x="578.68" y="389.90" width="24.53" height="2.48" fill="#60c2c0"/>
<rect x="129.30" y="391.93" width="4.35" height="2.48" fill="#60c2c0"/>
<rect x="133.20" y="391.93" width="6.47" height="2.48" fill="#41b6c4"/>
<rect x="145.24" y="391.93" width="18.51" height="2.48" fill="#41b6c4"/>
<rect x="175.34" y="391.93" width="12.49" height="2.48" fill="#41b6c4"/>
<rect x="187.38" y="391.93" width="12.49" height="2.48" fill="#7fcdbb"/>
<rect x="199.42" y="391.93" width="18.51" height="2.48" fill="#f4fac2"/>
<rect x="217.48" y="391.93" width="6.47" height="2.48" fill="#a3dbb8"/>
<rect x="223.50" y="391.93" width="18.51" height="2.48" fill="#2fa4c2"/>
<rect x="241.56" y="391.93" width="6.47" height="2.48" fill="#7fcdbb"/>
<rect x="247.58" y="391.93" width="6.47" height="2.48" fill="#60c2c0"/>
<rect x="277.68" y="391.93" width="6.47" height="2.48" fill="#2078b4"/>
<rect x="283.70" y="391.93" width="6.47" height="2.48" fill="#225ea8"/>
<rect x="295.74" y="391.93" width="12.49" height="2.48" fill="#1d91c0"/>
<rect x="307.78" y="391.93" width="6.47" height="2.48" fill="#2fa4c2"/>
<rect x="319.82" y="391.93" width="6.47" height="2.48" fill="#41b6c4"/>
<rect x="331.86" y="391.93" width="12.49" height="2.48" fill="#1d91c0"/>
<rect x="343.90" y="391.93" width="6.47" height="2.48" fill="#2fa4c2"/>
<rect x="349.92" y="391.93" width="18.51" height="2.48" fill="#41b6c4"/>
<rect x="367.98" y="391.93" width="6.47" height="2.48" fill="#60c2c0"/>
<rect x="380.02" y="391.93" width="18.51" height="2.48" fill="#41b6c4"/>
<rect x="398.08" y="391.93" width="6.47" height="2.48" fill="#2fa4c2"/>
<rect x="404.10" y="391.93" width="12.49" height="2.48" fill="#60c2c0"/>
<rect x="416.14" y="391.93" width="12.49" height="2.48" fill="#41b6c4"/>
<rect x="428.18" y="391.93" width="6.47" height="2.48" fill="#7fcdbb"/>
<rect x="446.24" y="391.93" width="6.47" height="2.48" fill="#41b6c4"/>
<rect x="452.26" y="391.93" width="6.47" height="2.48" fill="#2078b4"/>
<rect x="458.28" y="391.93" width="6.47" height="2.48" fill="#41b6c4"/>
<rect x="464.30" y="391.93" width="6.47" height="2.48" fill="#2fa4c2"/>
<rect x="470.32" y="391.93" width="6.47" height="2.48" fill="#1d91c0"/>
<rect x="482.36" y="391.93" width="6.47" height="2.48" fill="#41b6c4"/>
<rect x="488.38" y="391.93" width="6.47" height="2.48" fill="#60c2c0"/>
<rect x="494.40" y="391.93" width="12.49" height="2.48" fill="#41b6c4"/>
<rect x="506.44" y="391.93" width="6.47" height="2.48" fill="#2fa4c2"/>
<rect x="512.46" y="391.93" width="12.49" height="2.48" fill="#41b6c4"/>
<rect x="524.50" y="391.93" width="6.47" height="2.48" fill="#2fa4c2"/>
<rect x="530.52" y="391.93" width="6.47" height="2.48" fill="#60c2c0"/>
<rect x="536.54" y="391.93" width="6.47" height="2.48" fill="#2fa4c2"/>
<rect x="542.56" y="391.93" width="6.47" height="2.48" fill="#41b6c4"/>
<rect x="548.58" y="391.93" width="12.49" height="2.48" fill="#60c2c0"/>
<rect x="560.62" y="391.93" width="6.47" height="2.48" fill="#2fa4c2"/>
<rect x="566.64" y="391.93" width="6.47" height="2.48" fill="#60c2c0"/>
<rect x="572.66" y="391.93" width="6.47" height="2.48" fill="#41b6c4"/>
<rect x="578.68" y="391.93" width="6.47" height="2.48" fill="#c7e9b4"/>
<rect x="584.70" y="391.93" width="6.47" height="2.48" fill="#7fcdbb"/>
<rect x="133.20" y="393.96" width="12.49" height="2.48" fill="#60c2c0"/>
<rect x="145.24" y="393.96" width="24.53" height="2.48" fill="#41b6c4"/>
<rect x="175.34" y="393.96" width="12.49" height="2.48" fill="#41b6c4"/>
<rect x="187.38" y="393.96" width="6.47" height="2.48" fill="#60c2c0"/>
<rect x="193.40" y="393.96" width="6.47" height="2.48" fill="#edf8b1"/>
<rect x="199.42" y="393.96" width="12.49" height="2.48" fill="#7fcdbb"/>
<rect x="211.46" y="393.96" width="6.47" height="2.48" fill="#2fa4c2"/>
<rect x="217.48" y="393.96" width="6.47" height="2.48" fill="#c7e9b4"/>
<rect x="223.50" y="393.96" width="6.47" height="2.48" fill="#2fa4c2"/>
<rect x="229.52" y="393.96" width="6.47" height="2.48" fill="#edf8b1"/>
<rect x="235.54" y="393.96" width="6.47" height="2.48" fill="#2fa4c2"/>
<rect x="241.56" y="393.96" width="6.47" height="2.48" fill="#7fcdbb"/>
<rect x="247.58" y="393.96" width="12.49" height="2.48" fill="#2fa4c2"/>
<rect x="277.68" y="393.96" width="6.47" height="2.48" fill="#1d91c0"/>
<rect x="283.70" y="393.96" width="6.47" height="2.48" fill="#2078b4"/>
<rect x="295.74" y="393.96" width="12.49" height="2.48" fill="#1d91c0"/>
<rect x="307.78" y="393.96" width="6.47" height="2.48" fill="#2fa4c2"/>
<rect x="319.82" y="393.96" width="6.47" height="2.48" fill="#2fa4c2"/>
<rect x="331.86" y="393.96" width="6.47" height="2.48" fill="#1d91c0"/>
<rect x="337.88" y="393.96" width="6.47" height="2.48" fill="#2fa4c2"/>
<rect x="343.90" y="393.96" width="6.47" height="2.48" fill="#41b6c4"/>
<rect x="361.96" y="393.96" width="6.47" height="2.48" fill="#41b6c4"/>
<rect x="367.98" y="393.96" width="6.47" height="2.48" fill="#f4fac2"/>
<rect x="374.00" y="393.96" width="18.51" height="2.48" fill="#41b6c4"/>
<rect x="398.08" y="393.96" width="6.47" height="2.48" fill="#2fa4c2"/>
<rect x="404.10" y="393.96" width="6.47" height="2.48" fill="#7fcdbb"/>
<rect x="416.14" y="393.96" width="6.47" height="2.48" fill="#2fa4c2"/>
<rect x="428.18" y="393.96" width="18.51" height="2.48" fill="#2fa4c2"/>
<rect x="446.24" y="393.96" width="6.47" height="2.48" fill="#41b6c4"/>
<rect x="452.26" y="393.96" width="6.47" height="2.48" fill="#1d91c0"/>
<rect x="458.28" y="393.96" width="6.47" height="2.48" fill="#60c2c0"/>
<rect x="464.30" y="393.96" width="6.47" height="2.48" fill="#2fa4c2"/>
<rect x="470.32" y="393.96" width="12.49" height="2.48" fill="#1d91c0"/>
<rect x="488.38" y="393.96" width="12.49" height="2.48" fill="#60c2c0"/>
<rect x="500.42" y="393.96" width="6.47" height="2.48" fill="#41b6c4"/>
<rect x="518.48" y="393.96" width="6.47" height="2.48" fill="#2fa4c2"/>
<rect x="536.54" y="393.96" width="12.49" height="2.48" fill="#41b6c4"/>
<rect x="548.58" y="393.96" width="6.47" height="2.48" fill="#2fa4c2"/>
<rect x="554.60" y="393.96" width="12.49" height="2.48" fill="#41b6c4"/>
<rect x="566.64" y="393.96" width="6.47" height="2.48" fill="#60c2c0"/>
<rect x="584.70" y="393.96" width="6.47" height="2.48" fill="#7fcdbb"/>
<rect x="602.76" y="393.96" width="4.69" height="2.48" fill="#2fa4c2"/>
<rect x="129.30" y="395.99" width="4.35" height="2.48" fill="#2fa4c2"/>
<rect x="133.20" y="395.99" width="6.47" height="2.48" fill="#1d91c0"/>
<rect x="139.22" y="395.99" width="6.47" height="2.48" fill="#60c2c0"/>
<rect x="157.28" y="395.99" width="12.49" height="2.48" fill="#f4fac2"/>
<rect x="169.32" y="395.99" width="12.49" height="2.48" fill="#1d91c0"/>
<rect x="187.38" y="395.99" width="6.47" height="2.48" fill="#41b6c4"/>
<rect x="193.40" y="395.99" width="18.51" height="2.48" fill="#60c2c0"/>
<rect x="211.46" y="395.99" width="6.47" height="2.48" fill="#c7e9b4"/>
<rect x="217.48" y="395.99" width="12.49" height="2.48" fill="#2fa4c2"/>
<rect x="229.52" y="395.99" width="6.47" height="2.48" fill="#edf8b1"/>
<rect x="235.54" y="395.99" width="12.49" height="2.48" fill="#2fa4c2"/>
<rect x="247.58" y="395.99" width="6.47" height="2.48" fill="#2078b4"/>
<rect x="277.68" y="395.99" width="6.47" height="2.48" fill="#2fa4c2"/>
<rect x="283.70" y="395.99" width="24.53" height="2.48" fill="#1d91c0"/>
<rect x="307.78" y="395.99" width="6.47" height="2.48" fill="#2078b4"/>
<rect x="319.82" y="395.99" width="12.49" height="2.48" fill="#2fa4c2"/>
<rect x="331.86" y="395.99" width="6.47" height="2.48" fill="#41b6c4"/>
<rect x="337.88" y="395.99" width="6.47" height="2.48" fill="#1d91c0"/>
<rect x="343.90" y="395.99" width="6.47" height="2.48" fill="#41b6c4"/>
<rect x="361.96" y="395.99" width="6.47" height="2.48" fill="#41b6c4"/>
<rect x="367.98" y="395.99" width="6.47" height="2.48" fill="#60c2c0"/>
<rect x="386.04" y="395.99" width="6.47" height="2.48" fill="#41b6c4"/>
<rect x="398.08" y="395.99" width="6.47" height="2.48" fill="#41b6c4"/>
<rect x="410.12" y="395.99" width="6.47" height="2.48" fill="#60c2c0"/>
<rect x="416.14" y="395.99" width="6.47" height="2.48" fill="#41b6c4"/>
<rect x="422.16" y="395.99" width="6.47" height="2.48" fill="#225ea8"/>
<rect x="428.18" y="395.99" width="6.47" height="2.48" fill="#2fa4c2"/>
<rect x="434.20" y="395.99" width="12.49" height="2.48" fill="#41b6c4"/>
<rect x="446.24" y="395.99" width="6.47" height="2.48" fill="#60c2c0"/>
<rect x="452.26" y="395.99" width="6.47" height="2.48" fill="#c7e9b4"/>
<rect x="458.28" y="395.99" width="6.47" height="2.48" fill="#60c2c0"/>
<rect x="464.30" y="395.99" width="6.47" height="2.48" fill="#41b6c4"/>
<rect x="488.38" y="395.99" width="6.47" height="2.48" fill="#1d91c0"/>
<rect x="494.40" y="395.99" width="6.47" height="2.48" fill="#41b6c4"/>
<rect x="500.42" y="395.99" width="6.47" height="2.48" fill="#2fa4c2"/>
<rect x="518.48" y="395.99" width="6.47" height="2.48" fill="#41b6c4"/>
<rect x="524.50" y="395.99" width="12.49" height="2.48" fill="#2fa4c2"/>
<rect x="536.54" y="395.99" width="6.47" height="2.48" fill="#1d91c0"/>
<rect x="542.56" y="395.99" width="12.49" height="2.48" fill="#2fa4c2"/>
<rect x="554.60" y="395.99" width="6.47" height="2.48" fill="#41b6c4"/>
<rect x="560.62" y="395.99" width="6.47" height="2.48" fill="#2fa4c2"/>
<rect x="566.64" y="395.99" width="6.47" height="2.48" fill="#41b6c4"/>
<rect x="572.66" y="395.99" width="6.47" height="2.48" fill="#2fa4c2"/>
<rect x="578.68" y="395.99" width="6.47" height="2.48" fill="#1d91c0"/>
<rect x="590.72" y="395.99" width="16.73" height="2.48" fill="#41b6c4"/>
<rect x="129.30" y="398.02" width="4.35" height="2.48" fill="#2fa4c2"/>
<rect x="133.20" y="398.02" width="6.47" height="2.48" fill="#60c2c0"/>
<rect x="139.22" y="398.02" width="6.47" height="2.48" fill="#225ea8"/>
<rect x="157.28" y="398.02" width="24.53" height="2.48" fill="#1d91c0"/>
<rect x="181.36" y="398.02" width="12.49" height="2.48" fill="#41b6c4"/>
<rect x="193.40" y="398.02" width="18.51" height="2.48" fill="#60c2c0"/>
<rect x="211.46" y="398.02" width="12.49" height="2.48" fill="#2fa4c2"/>
<rect x="223.50" y="398.02" width="6.47" height="2.48" fill="#c7e9b4"/>
<rect x="229.52" y="398.02" width="6.47" height="2.48" fill="#1d91c0"/>
<rect x="235.54" y="398.02" width="12.49" height="2.48" fill="#2fa4c2"/>
<rect x="277.68" y="398.02" width="6.47" height="2.48" fill="#41b6c4"/>
<rect x="283.70" y="398.02" width="6.47" height="2.48" fill="#2fa4c2"/>
<rect x="289.72" y="398.02" width="12.49" height="2.48" fill="#1d91c0"/>
<rect x="301.76" y="398.02" width="12.49" height="2.48" fill="#2fa4c2"/>
<rect x="319.82" y="398.02" width="6.47" height="2.48" fill="#2fa4c2"/>
<rect x="325.84" y="398.02" width="6.47" height="2.48" fill="#1d91c0"/>
<rect x="331.86" y="398.02" width="12.49" height="2.48" fill="#2fa4c2"/>
<rect x="343.90" y="398.02" width="6.47" height="2.48" fill="#60c2c0"/>
<rect x="361.96" y="398.02" width="6.47" height="2.48" fill="#41b6c4"/>
<rect x="386.04" y="398.02" width="6.47" height="2.48" fill="#1d91c0"/>
<rect x="392.06" y="398.02" width="6.47" height="2.48" fill="#2fa4c2"/>
<rect x="398.08" y="398.02" width="6.47" height="2.48" fill="#41b6c4"/>
<rect x="416.14" y="398.02" width="6.47" height="2.48" fill="#60c2c0"/>
<rect x="422.16" y="398.02" width="6.47" height="2.48" fill="#225ea8"/>
<rect x="428.18" y="398.02" width="6.47" height="2.48" fill="#1d91c0"/>
<rect x="434.20" y="398.02" width="12.49" height="2.48" fill="#41b6c4"/>
<rect x="446.24" y="398.02" width="18.51" height="2.48" fill="#2fa4c2"/>
<rect x="464.30" y="398.02" width="24.53" height="2.48" fill="#41b6c4"/>
<rect x="488.38" y="398.02" width="6.47" height="2.48" fill="#60c2c0"/>
<rect x="494.40" y="398.02" width="6.47" height="2.48" fill="#41b6c4"/>
<rect x="500.42" y="398.02" width="6.47" height="2.48" fill="#60c2c0"/>
<rect x="518.48" y="398.02" width="6.47" height="2.48" fill="#2078b4"/>
<rect x="524.50" y="398.02" width="6.47" height="2.48" fill="#2fa4c2"/>
<rect x="530.52" y="398.02" width="6.47" height="2.48" fill="#41b6c4"/>
<rect x="536.54" y="398.02" width="6.47" height="2.48" fill="#2fa4c2"/>
<rect x="542.56" y="398.02" width="6.47" height="2.48" fill="#41b6c4"/>
<rect x="548.58" y="398.02" width="12.49" height="2.48" fill="#60c2c0"/>
<rect x="560.62" y="398.02" width="18.51" height="2.48" fill="#2fa4c2"/>
<rect x="578.68" y="398.02" width="6.47" height="2.48" fill="#41b6c4"/>
<rect x="590.72" y="398.02" width="6.47" height="2.48" fill="#60c2c0"/>
<rect x="596.74" y="398.02" width="6.47" height="2.48" fill="#41b6c4"/>
<rect x="602.76" y="398.02" width="4.69" height="2.48" fill="#60c2c0"/>
<rect x="129.30" y="400.05" width="10.37" height="2.48" fill="#41b6c4"/>
<rect x="139.22" y="400.05" width="6.47" height="2.48" fill="#1d91c0"/>
<rect x="157.28" y="400.05" width="24.53" height="2.48" fill="#1d91c0"/>
<rect x="181.36" y="400.05" width="6.47" height="2.48" fill="#2fa4c2"/>
<rect x="187.38" y="400.05" width="6.47" height="2.48" fill="#f4fac2"/>
<rect x="193.40" y="400.05" width="6.47" height="2.48" fill="#2fa4c2"/>
<rect x="199.42" y="400.05" width="6.47" height="2.48" fill="#a3dbb8"/>
<rect x="205.44" y="400.05" width="6.47" height="2.48" fill="#7fcdbb"/>
<rect x="211.46" y="400.05" width="6.47" height="2.48" fill="#1d91c0"/>
<rect x="217.48" y="400.05" width="6.47" height="2.48" fill="#2fa4c2"/>
<rect x="223.50" y="400.05" width="6.47" height="2.48" fill="#225ea8"/>
<rect x="229.52" y="400.05" width="6.47" height="2.48" fill="#1d91c0"/>
<rect x="235.54" y="400.05" width="6.47" height="2.48" fill="#2fa4c2"/>
<rect x="241.56" y="400.05" width="6.47" height="2.48" fill="#7fcdbb"/>
<rect x="247.58" y="400.05" width="6.47" height="2.48" fill="#2fa4c2"/>
<rect x="277.68" y="400.05" width="6.47" height="2.48" fill="#2fa4c2"/>
<rect x="283.70" y="400.05" width="6.47" height="2.48" fill="#41b6c4"/>
<rect x="295.74" y="400.05" width="12.49" height="2.48" fill="#2fa4c2"/>
<rect x="307.78" y="400.05" width="24.53" height="2.48" fill="#1d91c0"/>
<rect x="331.86" y="400.05" width="6.47" height="2.48" fill="#2fa4c2"/>
<rect x="337.88" y="400.05" width="6.47" height="2.48" fill="#41b6c4"/>
<rect x="361.96" y="400.05" width="6.47" height="2.48" fill="#41b6c4"/>
<rect x="380.02" y="400.05" width="6.47" height="2.48" fill="#1d91c0"/>
<rect x="392.06" y="400.05" width="6.47" height="2.48" fill="#2078b4"/>
<rect x="410.12" y="400.05" width="6.47" height="2.48" fill="#41b6c4"/>
<rect x="422.16" y="400.05" width="12.49" height="2.48" fill="#1d91c0"/>
<rect x="446.24" y="400.05" width="6.47" height="2.48" fill="#41b6c4"/>
<rect x="452.26" y="400.05" width="18.51" height="2.48" fill="#2fa4c2"/>
<rect x="476.34" y="400.05" width="12.49" height="2.48" fill="#41b6c4"/>
<rect x="494.40" y="400.05" width="6.47" height="2.48" fill="#41b6c4"/>
<rect x="518.48" y="400.05" width="6.47" height="2.48" fill="#1d91c0"/>
<rect x="524.50" y="400.05" width="6.47" height="2.48" fill="#41b6c4"/>
<rect x="530.52" y="400.05" width="12.49" height="2.48" fill="#2fa4c2"/>
<rect x="542.56" y="400.05" width="6.47" height="2.48" fill="#41b6c4"/>
<rect x="548.58" y="400.05" width="6.47" height="2.48" fill="#60c2c0"/>
<rect x="578.68" y="400.05" width="12.49" height="2.48" fill="#41b6c4"/>
<rect x="590.72" y="400.05" width="12.49" height="2.48" fill="#2fa4c2"/>
<rect x="602.76" y="400.05" width="4.69" height="2.48" fill="#225ea8"/>
<rect x="133.20" y="402.08" width="6.47" height="2.48" fill="#f4fac2"/>
<rect x="139.22" y="402.08" width="6.47" height="2.48" fill="#41b6c4"/>
<rect x="145.24" y="402.08" width="6.47" height="2.48" fill="#1d91c0"/>
<rect x="151.26" y="402.08" width="6.47" height="2.48" fill="#41b6c4"/>
<rect x="163.30" y="402.08" width="18.51" height="2.48" fill="#1d91c0"/>
<rect x="181.36" y="402.08" width="6.47" height="2.48" fill="#41b6c4"/>
<rect x="187.38" y="402.08" width="6.47" height="2.48" fill="#f4fac2"/>
<rect x="193.40" y="402.08" width="6.47" height="2.48" fill="#2078b4"/>
<rect x="199.42" y="402.08" width="12.49" height="2.48" fill="#41b6c4"/>
<rect x="211.46" y="402.08" width="6.47" height="2.48" fill="#f4fac2"/>
<rect x="217.48" y="402.08" width="6.47" height="2.48" fill="#1d91c0"/>
<rect x="223.50" y="402.08" width="6.47" height="2.48" fill="#41b6c4"/>
<rect x="229.52" y="402.08" width="6.47" height="2.48" fill="#2fa4c2"/>
<rect x="235.54" y="402.08" width="6.47" height="2.48" fill="#7fcdbb"/>
<rect x="241.56" y="402.08" width="6.47" height="2.48" fill="#c7e9b4"/>
<rect x="259.62" y="402.08" width="6.47" height="2.48" fill="#2fa4c2"/>
<rect x="289.72" y="402.08" width="12.49" height="2.48" fill="#2fa4c2"/>
<rect x="307.78" y="402.08" width="6.47" height="2.48" fill="#2078b4"/>
<rect x="313.80" y="402.08" width="12.49" height="2.48" fill="#1d91c0"/>
<rect x="325.84" y="402.08" width="6.47" height="2.48" fill="#2078b4"/>
<rect x="331.86" y="402.08" width="12.49" height="2.48" fill="#41b6c4"/>
<rect x="380.02" y="402.08" width="6.47" height="2.48" fill="#1d91c0"/>
<rect x="398.08" y="402.08" width="12.49" height="2.48" fill="#2fa4c2"/>
<rect x="410.12" y="402.08" width="6.47" height="2.48" fill="#41b6c4"/>
<rect x="416.14" y="402.08" width="18.51" height="2.48" fill="#2fa4c2"/>
<rect x="434.20" y="402.08" width="12.49" height="2.48" fill="#41b6c4"/>
<rect x="446.24" y="402.08" width="6.47" height="2.48" fill="#1d91c0"/>
<rect x="452.26" y="402.08" width="6.47" height="2.48" fill="#7fcdbb"/>
<rect x="458.28" y="402.08" width="6.47" height="2.48" fill="#225ea8"/>
<rect x="464.30" y="402.08" width="6.47" height="2.48" fill="#1d91c0"/>
<rect x="476.34" y="402.08" width="6.47" height="2.48" fill="#1d91c0"/>
<rect x="488.38" y="402.08" width="6.47" height="2.48" fill="#225ea8"/>
<rect x="494.40" y="402.08" width="18.51" height="2.48" fill="#2fa4c2"/>
<rect x="536.54" y="402.08" width="6.47" height="2.48" fill="#2078b4"/>
<rect x="566.64" y="402.08" width="6.47" height="2.48" fill="#225ea8"/>
<rect x="572.66" y="402.08" width="6.47" height="2.48" fill="#2fa4c2"/>
<rect x="578.68" y="402.08" width="6.47" height="2.48" fill="#41b6c4"/>
<rect x="133.20" y="404.11" width="6.47" height="2.48" fill="#41b6c4"/>
<rect x="139.22" y="404.11" width="6.47" height="2.48" fill="#225ea8"/>
<rect x="151.26" y="404.11" width="6.47" height="2.48" fill="#2fa4c2"/>
<rect x="157.28" y="404.11" width="12.49" height="2.48" fill="#2078b4"/>
<rect x="169.32" y="404.11" width="12.49" height="2.48" fill="#1d91c0"/>
<rect x="181.36" y="404.11" width="12.49" height="2.48" fill="#2fa4c2"/>
<rect x="193.40" y="404.11" width="6.47" height="2.48" fill="#2078b4"/>
<rect x="199.42" y="404.11" width="6.47" height="2.48" fill="#41b6c4"/>
<rect x="205.44" y="404.11" width="6.47" height="2.48" fill="#2fa4c2"/>
<rect x="211.46" y="404.11" width="6.47" height="2.48" fill="#a3dbb8"/>
<rect x="217.48" y="404.11" width="6.47" height="2.48" fill="#2078b4"/>
<rect x="223.50" y="404.11" width="6.47" height="2.48" fill="#a3dbb8"/>
<rect x="229.52" y="404.11" width="6.47" height="2.48" fill="#2fa4c2"/>
<rect x="235.54" y="404.11" width="12.49" height="2.48" fill="#1d91c0"/>
<rect x="289.72" y="404.11" width="12.49" height="2.48" fill="#2fa4c2"/>
<rect x="307.78" y="404.11" width="6.47" height="2.48" fill="#1d91c0"/>
<rect x="319.82" y="404.11" width="6.47" height="2.48" fill="#1d91c0"/>
<rect x="331.86" y="404.11" width="12.49" height="2.48" fill="#2fa4c2"/>
<rect x="386.04" y="404.11" width="6.47" height="2.48" fill="#225ea8"/>
<rect x="398.08" y="404.11" width="12.49" height="2.48" fill="#2fa4c2"/>
<rect x="410.12" y="404.11" width="6.47" height="2.48" fill="#41b6c4"/>
<rect x="416.14" y="404.11" width="6.47" height="2.48" fill="#1d91c0"/>
<rect x="422.16" y="404.11" width="6.47" height="2.48" fill="#225ea8"/>
<rect x="428.18" y="404.11" width="6.47" height="2.48" fill="#41b6c4"/>
<rect x="434.20" y="404.11" width="12.49" height="2.48" fill="#2fa4c2"/>
<rect x="446.24" y="404.11" width="6.47" height="2.48" fill="#1d91c0"/>
<rect x="452.26" y="404.11" width="6.47" height="2.48" fill="#2fa4c2"/>
<rect x="458.28" y="404.11" width="6.47" height="2.48" fill="#253494"/>
<rect x="464.30" y="404.11" width="6.47" height="2.48" fill="#1d91c0"/>
<rect x="476.34" y="404.11" width="6.47" height="2.48" fill="#1d91c0"/>
<rect x="488.38" y="404.11" width="6.47" height="2.48" fill="#24499e"/>
<rect x="494.40" y="404.11" width="6.47" height="2.48" fill="#225ea8"/>
<rect x="500.42" y="404.11" width="6.47" height="2.48" fill="#2fa4c2"/>
<rect x="536.54" y="404.11" width="6.47" height="2.48" fill="#2078b4"/>
<rect x="554.60" y="404.11" width="6.47" height="2.48" fill="#1d91c0"/>
<rect x="566.64" y="404.11" width="6.47" height="2.48" fill="#225ea8"/>
<rect x="572.66" y="404.11" width="6.47" height="2.48" fill="#2fa4c2"/>
<rect x="584.70" y="404.11" width="6.47" height="2.48" fill="#2fa4c2"/>
<rect x="129.30" y="406.14" width="4.35" height="2.48" fill="#41b6c4"/>
<rect x="133.20" y="406.14" width="6.47" height="2.48" fill="#2fa4c2"/>
<rect x="151.26" y="406.14" width="6.47" height="2.48" fill="#41b6c4"/>
<rect x="157.28" y="406.14" width="6.47" height="2.48" fill="#1d91c0"/>
<rect x="163.30" y="406.14" width="6.47" height="2.48" fill="#2fa4c2"/>
<rect x="181.36" y="406.14" width="6.47" height="2.48" fill="#225ea8"/>
<rect x="187.38" y="406.14" width="6.47" height="2.48" fill="#2078b4"/>
<rect x="193.40" y="406.14" width="6.47" height="2.48" fill="#2fa4c2"/>
<rect x="199.42" y="406.14" width="12.49" height="2.48" fill="#1d91c0"/>
<rect x="211.46" y="406.14" width="6.47" height="2.48" fill="#60c2c0"/>
<rect x="217.48" y="406.14" width="6.47" height="2.48" fill="#2fa4c2"/>
<rect x="223.50" y="406.14" width="6.47" height="2.48" fill="#f4fac2"/>
<rect x="229.52" y="406.14" width="12.49" height="2.48" fill="#1d91c0"/>
<rect x="241.56" y="406.14" width="6.47" height="2.48" fill="#225ea8"/>
<rect x="289.72" y="406.14" width="6.47" height="2.48" fill="#2fa4c2"/>
<rect x="307.78" y="406.14" width="24.53" height="2.48" fill="#1d91c0"/>
<rect x="331.86" y="406.14" width="6.47" height="2.48" fill="#7fcdbb"/>
<rect x="337.88" y="406.14" width="6.47" height="2.48" fill="#225ea8"/>
<rect x="343.90" y="406.14" width="6.47" height="2.48" fill="#24499e"/>
<rect x="349.92" y="406.14" width="12.49" height="2.48" fill="#2fa4c2"/>
<rect x="392.06" y="406.14" width="6.47" height="2.48" fill="#1d91c0"/>
<rect x="398.08" y="406.14" width="6.47" height="2.48" fill="#2fa4c2"/>
<rect x="404.10" y="406.14" width="6.47" height="2.48" fill="#1d91c0"/>
<rect x="410.12" y="406.14" width="6.47" height="2.48" fill="#2fa4c2"/>
<rect x="416.14" y="406.14" width="6.47" height="2.48" fill="#2078b4"/>
<rect x="428.18" y="406.14" width="30.55" height="2.48" fill="#2fa4c2"/>
<rect x="476.34" y="406.14" width="6.47" height="2.48" fill="#2fa4c2"/>
<rect x="518.48" y="406.14" width="6.47" height="2.48" fill="#1d91c0"/>
<rect x="536.54" y="406.14" width="6.47" height="2.48" fill="#225ea8"/>
<rect x="554.60" y="406.14" width="6.47" height="2.48" fill="#1d91c0"/>
<rect x="145.24" y="408.17" width="6.47" height="2.48" fill="#2fa4c2"/>
<rect x="157.28" y="408.17" width="12.49" height="2.48" fill="#2fa4c2"/>
<rect x="175.34" y="408.17" width="6.47" height="2.48" fill="#2fa4c2"/>
<rect x="181.36" y="408.17" width="6.47" height="2.48" fill="#2078b4"/>
<rect x="187.38" y="408.17" width="6.47" height="2.48" fill="#2fa4c2"/>
<rect x="193.40" y="408.17" width="6.47" height="2.48" fill="#f4fac2"/>
<rect x="199.42" y="408.17" width="12.49" height="2.48" fill="#2078b4"/>
<rect x="211.46" y="408.17" width="6.47" height="2.48" fill="#2fa4c2"/>
<rect x="217.48" y="408.17" width="6.47" height="2.48" fill="#f4fac2"/>
<rect x="223.50" y="408.17" width="6.47" height="2.48" fill="#7fcdbb"/>
<rect x="229.52" y="408.17" width="6.47" height="2.48" fill="#1d91c0"/>
<rect x="235.54" y="408.17" width="6.47" height="2.48" fill="#f4fac2"/>
<rect x="241.56" y="408.17" width="6.47" height="2.48" fill="#2078b4"/>
<rect x="295.74" y="408.17" width="6.47" height="2.48" fill="#2fa4c2"/>
<rect x="307.78" y="408.17" width="12.49" height="2.48" fill="#1d91c0"/>
<rect x="319.82" y="408.17" width="12.49" height="2.48" fill="#2078b4"/>
<rect x="331.86" y="408.17" width="6.47" height="2.48" fill="#7fcdbb"/>
<rect x="337.88" y="408.17" width="6.47" height="2.48" fill="#2078b4"/>
<rect x="343.90" y="408.17" width="6.47" height="2.48" fill="#225ea8"/>
<rect x="349.92" y="408.17" width="12.49" height="2.48" fill="#2fa4c2"/>
<rect x="374.00" y="408.17" width="6.47" height="2.48" fill="#1d91c0"/>
<rect x="392.06" y="408.17" width="6.47" height="2.48" fill="#2fa4c2"/>
<rect x="410.12" y="408.17" width="6.47" height="2.48" fill="#225ea8"/>
<rect x="416.14" y="408.17" width="12.49" height="2.48" fill="#2fa4c2"/>
<rect x="428.18" y="408.17" width="6.47" height="2.48" fill="#f4fac2"/>
<rect x="434.20" y="408.17" width="12.49" height="2.48" fill="#2078b4"/>
<rect x="446.24" y="408.17" width="6.47" height="2.48" fill="#41b6c4"/>
<rect x="452.26" y="408.17" width="6.47" height="2.48" fill="#1d91c0"/>
<rect x="494.40" y="408.17" width="6.47" height="2.48" fill="#1d91c0"/>
<rect x="512.46" y="408.17" width="12.49" height="2.48" fill="#7fcdbb"/>
<rect x="536.54" y="408.17" width="6.47" height="2.48" fill="#2078b4"/>
<rect x="554.60" y="408.17" width="6.47" height="2.48" fill="#1d91c0"/>
<rect x="566.64" y="408.17" width="6.47" height="2.48" fill="#2078b4"/>
<rect x="584.70" y="408.17" width="6.47" height="2.48" fill="#2fa4c2"/>
<rect x="157.28" y="410.20" width="12.49" height="2.48" fill="#1d91c0"/>
<rect x="169.32" y="410.20" width="6.47" height="2.48" fill="#2fa4c2"/>
<rect x="175.34" y="410.20" width="6.47" height="2.48" fill="#1d91c0"/>
<rect x="187.38" y="410.20" width="12.49" height="2.48" fill="#1d91c0"/>
<rect x="199.42" y="410.20" width="12.49" height="2.48" fill="#2078b4"/>
<rect x="211.46" y="410.20" width="6.47" height="2.48" fill="#a3dbb8"/>
<rect x="217.48" y="410.20" width="6.47" height="2.48" fill="#f4fac2"/>
<rect x="223.50" y="410.20" width="6.47" height="2.48" fill="#60c2c0"/>
<rect x="229.52" y="410.20" width="6.47" height="2.48" fill="#f4fac2"/>
<rect x="235.54" y="410.20" width="6.47" height="2.48" fill="#1d91c0"/>
<rect x="241.56" y="410.20" width="6.47" height="2.48" fill="#f4fac2"/>
<rect x="325.84" y="410.20" width="6.47" height="2.48" fill="#24499e"/>
<rect x="331.86" y="410.20" width="6.47" height="2.48" fill="#1d91c0"/>
<rect x="337.88" y="410.20" width="6.47" height="2.48" fill="#2078b4"/>
<rect x="343.90" y="410.20" width="6.47" height="2.48" fill="#24499e"/>
<rect x="398.08" y="410.20" width="6.47" height="2.48" fill="#2fa4c2"/>
<rect x="410.12" y="410.20" width="6.47" height="2.48" fill="#2fa4c2"/>
<rect x="416.14" y="410.20" width="6.47" height="2.48" fill="#1d91c0"/>
<rect x="422.16" y="410.20" width="6.47" height="2.48" fill="#2078b4"/>
<rect x="428.18" y="410.20" width="6.47" height="2.48" fill="#1d91c0"/>
<rect x="434.20" y="410.20" width="12.49" height="2.48" fill="#2078b4"/>
<rect x="446.24" y="410.20" width="6.47" height="2.48" fill="#2fa4c2"/>
<rect x="452.26" y="410.20" width="6.47" height="2.48" fill="#1d91c0"/>
<rect x="458.28" y="410.20" width="6.47" height="2.48" fill="#24499e"/>
<rect x="476.34" y="410.20" width="6.47" height="2.48" fill="#2fa4c2"/>
<rect x="494.40" y="410.20" width="6.47" height="2.48" fill="#1d91c0"/>
<rect x="524.50" y="410.20" width="6.47" height="2.48" fill="#2fa4c2"/>
<rect x="584.70" y="410.20" width="6.47" height="2.48" fill="#2fa4c2"/>
<rect x="133.20" y="412.23" width="6.47" height="2.48" fill="#1d91c0"/>
<rect x="187.38" y="412.23" width="6.47" height="2.48" fill="#2078b4"/>
<rect x="211.46" y="412.23" width="6.47" height="2.48" fill="#41b6c4"/>
<rect x="217.48" y="412.23" width="12.49" height="2.48" fill="#2fa4c2"/>
<rect x="307.78" y="412.23" width="6.47" height="2.48" fill="#1d91c0"/>
<rect x="331.86" y="412.23" width="6.47" height="2.48" fill="#1d91c0"/>
<rect x="337.88" y="412.23" width="6.47" height="2.48" fill="#2078b4"/>
<rect x="374.00" y="412.23" width="6.47" height="2.48" fill="#1d91c0"/>
<rect x="404.10" y="412.23" width="6.47" height="2.48" fill="#2fa4c2"/>
<rect x="416.14" y="412.23" width="6.47" height="2.48" fill="#1d91c0"/>
<rect x="428.18" y="412.23" width="6.47" height="2.48" fill="#1d91c0"/>
<rect x="452.26" y="412.23" width="12.49" height="2.48" fill="#24499e"/>
<rect x="476.34" y="412.23" width="6.47" height="2.48" fill="#2fa4c2"/>
<rect x="488.38" y="412.23" width="6.47" height="2.48" fill="#225ea8"/>
<rect x="506.44" y="412.23" width="18.51" height="2.48" fill="#24499e"/>
<rect x="530.52" y="412.23" width="6.47" height="2.48" fill="#1d91c0"/>
<rect x="578.68" y="412.23" width="6.47" height="2.48" fill="#1d91c0"/>
<rect x="590.72" y="412.23" width="12.49" height="2.48" fill="#1d91c0"/>
<rect x="169.32" y="414.26" width="6.47" height="2.48" fill="#2078b4"/>
<rect x="199.42" y="414.26" width="12.49" height="2.48" fill="#24499e"/>
<rect x="223.50" y="414.26" width="6.47" height="2.48" fill="#7fcdbb"/>
<rect x="229.52" y="414.26" width="6.47" height="2.48" fill="#2078b4"/>
<rect x="235.54" y="414.26" width="6.47" height="2.48" fill="#7fcdbb"/>
<rect x="295.74" y="414.26" width="6.47" height="2.48" fill="#2078b4"/>
<rect x="319.82" y="414.26" width="6.47" height="2.48" fill="#2078b4"/>
<rect x="325.84" y="414.26" width="12.49" height="2.48" fill="#1d91c0"/>
<rect x="337.88" y="414.26" width="6.47" height="2.48" fill="#2078b4"/>
<rect x="343.90" y="414.26" width="6.47" height="2.48" fill="#24499e"/>
<rect x="355.94" y="414.26" width="6.47" height="2.48" fill="#225ea8"/>
<rect x="367.98" y="414.26" width="6.47" height="2.48" fill="#1d91c0"/>
<rect x="446.24" y="414.26" width="6.47" height="2.48" fill="#225ea8"/>
<rect x="452.26" y="414.26" width="12.49" height="2.48" fill="#24499e"/>
<rect x="464.30" y="414.26" width="6.47" height="2.48" fill="#225ea8"/>
<rect x="500.42" y="414.26" width="6.47" height="2.48" fill="#1d91c0"/>
<rect x="530.52" y="414.26" width="18.51" height="2.48" fill="#1d91c0"/>
<rect x="578.68" y="414.26" width="6.47" height="2.48" fill="#1d91c0"/>
<rect x="129.30" y="416.29" width="4.35" height="2.48" fill="#24499e"/>
<rect x="181.36" y="416.29" width="12.49" height="2.48" fill="#1d91c0"/>
<rect x="211.46" y="416.29" width="12.49" height="2.48" fill="#41b6c4"/>
<rect x="223.50" y="416.29" width="6.47" height="2.48" fill="#7fcdbb"/>
<rect x="229.52" y="416.29" width="6.47" height="2.48" fill="#2078b4"/>
<rect x="241.56" y="416.29" width="6.47" height="2.48" fill="#1d91c0"/>
<rect x="319.82" y="416.29" width="6.47" height="2.48" fill="#2078b4"/>
<rect x="325.84" y="416.29" width="12.49" height="2.48" fill="#1d91c0"/>
<rect x="337.88" y="416.29" width="6.47" height="2.48" fill="#2078b4"/>
<rect x="343.90" y="416.29" width="6.47" height="2.48" fill="#24499e"/>
<rect x="380.02" y="416.29" width="6.47" height="2.48" fill="#2078b4"/>
<rect x="386.04" y="416.29" width="6.47" height="2.48" fill="#1d91c0"/>
<rect x="434.20" y="416.29" width="12.49" height="2.48" fill="#2078b4"/>
<rect x="446.24" y="416.29" width="6.47" height="2.48" fill="#225ea8"/>
<rect x="452.26" y="416.29" width="6.47" height="2.48" fill="#24499e"/>
<rect x="464.30" y="416.29" width="6.47" height="2.48" fill="#225ea8"/>
<rect x="470.32" y="416.29" width="6.47" height="2.48" fill="#1d91c0"/>
<rect x="500.42" y="416.29" width="6.47" height="2.48" fill="#1d91c0"/>
<rect x="524.50" y="416.29" width="12.49" height="2.48" fill="#1d91c0"/>
<rect x="566.64" y="416.29" width="6.47" height="2.48" fill="#1d91c0"/>
<rect x="578.68" y="416.29" width="6.47" height="2.48" fill="#1d91c0"/>
<rect x="199.42" y="418.32" width="12.49" height="2.48" fill="#a3dbb8"/>
<rect x="211.46" y="418.32" width="12.49" height="2.48" fill="#41b6c4"/>
<rect x="235.54" y="418.32" width="6.47" height="2.48" fill="#2078b4"/>
<rect x="331.86" y="418.32" width="6.47" height="2.48" fill="#1d91c0"/>
<rect x="337.88" y="418.32" width="6.47" height="2.48" fill="#2078b4"/>
<rect x="343.90" y="418.32" width="6.47" height="2.48" fill="#225ea8"/>
<rect x="386.04" y="418.32" width="6.47" height="2.48" fill="#1d91c0"/>
<rect x="404.10" y="418.32" width="6.47" height="2.48" fill="#2078b4"/>
<rect x="488.38" y="418.32" width="6.47" height="2.48" fill="#1d91c0"/>
<rect x="506.44" y="418.32" width="12.49" height="2.48" fill="#2078b4"/>
<rect x="530.52" y="418.32" width="6.47" height="2.48" fill="#253494"/>
<rect x="542.56" y="418.32" width="12.49" height="2.48" fill="#24499e"/>
<rect x="560.62" y="418.32" width="6.47" height="2.48" fill="#24499e"/>
<rect x="566.64" y="418.32" width="6.47" height="2.48" fill="#1d91c0"/>
<rect x="193.40" y="420.35" width="6.47" height="2.48" fill="#1d91c0"/>
<rect x="211.46" y="420.35" width="6.47" height="2.48" fill="#24499e"/>
<rect x="223.50" y="420.35" width="6.47" height="2.48" fill="#41b6c4"/>
<rect x="235.54" y="420.35" width="6.47" height="2.48" fill="#2078b4"/>
<rect x="241.56" y="420.35" width="6.47" height="2.48" fill="#60c2c0"/>
<rect x="331.86" y="420.35" width="6.47" height="2.48" fill="#2078b4"/>
<rect x="343.90" y="420.35" width="6.47" height="2.48" fill="#225ea8"/>
<rect x="367.98" y="420.35" width="12.49" height="2.48" fill="#2078b4"/>
<rect x="380.02" y="420.35" width="6.47" height="2.48" fill="#24499e"/>
<rect x="386.04" y="420.35" width="6.47" height="2.48" fill="#225ea8"/>
<rect x="404.10" y="420.35" width="12.49" height="2.48" fill="#2078b4"/>
<rect x="416.14" y="420.35" width="6.47" height="2.48" fill="#225ea8"/>
<rect x="422.16" y="420.35" width="6.47" height="2.48" fill="#2078b4"/>
<rect x="434.20" y="420.35" width="12.49" height="2.48" fill="#1d91c0"/>
<rect x="512.46" y="420.35" width="12.49" height="2.48" fill="#253494"/>
<rect x="530.52" y="420.35" width="6.47" height="2.48" fill="#253494"/>
<rect x="560.62" y="420.35" width="6.47" height="2.48" fill="#24499e"/>
<rect x="139.22" y="422.38" width="6.47" height="2.48" fill="#24499e"/>
<rect x="199.42" y="422.38" width="12.49" height="2.48" fill="#60c2c0"/>
<rect x="211.46" y="422.38" width="6.47" height="2.48" fill="#41b6c4"/>
<rect x="235.54" y="422.38" width="6.47" height="2.48" fill="#162876"/>
<rect x="331.86" y="422.38" width="6.47" height="2.48" fill="#2078b4"/>
<rect x="374.00" y="422.38" width="6.47" height="2.48" fill="#2078b4"/>
<rect x="380.02" y="422.38" width="6.47" height="2.48" fill="#24499e"/>
<rect x="386.04" y="422.38" width="6.47" height="2.48" fill="#225ea8"/>
<rect x="410.12" y="422.38" width="12.49" height="2.48" fill="#253494"/>
<rect x="422.16" y="422.38" width="6.47" height="2.48" fill="#2078b4"/>
<rect x="434.20" y="422.38" width="12.49" height="2.48" fill="#1d91c0"/>
<rect x="536.54" y="422.38" width="6.47" height="2.48" fill="#24499e"/>
<rect x="554.60" y="422.38" width="6.47" height="2.48" fill="#225ea8"/>
<rect x="560.62" y="422.38" width="6.47" height="2.48" fill="#24499e"/>
<rect x="129.30" y="424.41" width="10.37" height="2.48" fill="#24499e"/>
<rect x="145.24" y="424.41" width="12.49" height="2.48" fill="#24499e"/>
<rect x="157.28" y="424.41" width="6.47" height="2.48" fill="#162876"/>
<rect x="163.30" y="424.41" width="6.47" height="2.48" fill="#24499e"/>
<rect x="211.46" y="424.41" width="6.47" height="2.48" fill="#41b6c4"/>
<rect x="223.50" y="424.41" width="6.47" height="2.48" fill="#24499e"/>
<rect x="235.54" y="424.41" width="6.47" height="2.48" fill="#2fa4c2"/>
<rect x="343.90" y="424.41" width="6.47" height="2.48" fill="#24499e"/>
<rect x="374.00" y="424.41" width="6.47" height="2.48" fill="#2078b4"/>
<rect x="380.02" y="424.41" width="12.49" height="2.48" fill="#162876"/>
<rect x="392.06" y="424.41" width="6.47" height="2.48" fill="#253494"/>
<rect x="410.12" y="424.41" width="12.49" height="2.48" fill="#253494"/>
<rect x="422.16" y="424.41" width="6.47" height="2.48" fill="#162876"/>
<rect x="446.24" y="424.41" width="6.47" height="2.48" fill="#24499e"/>
<rect x="458.28" y="424.41" width="6.47" height="2.48" fill="#225ea8"/>
<rect x="554.60" y="424.41" width="6.47" height="2.48" fill="#225ea8"/>
<rect x="578.68" y="424.41" width="6.47" height="2.48" fill="#253494"/>
<rect x="129.30" y="426.44" width="4.35" height="2.48" fill="#225ea8"/>
<rect x="151.26" y="426.44" width="6.47" height="2.48" fill="#24499e"/>
<rect x="157.28" y="426.44" width="6.47" height="2.48" fill="#253494"/>
<rect x="169.32" y="426.44" width="6.47" height="2.48" fill="#253494"/>
<rect x="217.48" y="426.44" width="6.47" height="2.48" fill="#2fa4c2"/>
<rect x="343.90" y="426.44" width="6.47" height="2.48" fill="#24499e"/>
<rect x="355.94" y="426.44" width="12.49" height="2.48" fill="#24499e"/>
<rect x="380.02" y="426.44" width="12.49" height="2.48" fill="#162876"/>
<rect x="392.06" y="426.44" width="6.47" height="2.48" fill="#253494"/>
<rect x="398.08" y="426.44" width="12.49" height="2.48" fill="#162876"/>
<rect x="410.12" y="426.44" width="12.49" height="2.48" fill="#253494"/>
<rect x="422.16" y="426.44" width="12.49" height="2.48" fill="#162876"/>
<rect x="434.20" y="426.44" width="6.47" height="2.48" fill="#225ea8"/>
<rect x="440.22" y="426.44" width="6.47" height="2.48" fill="#162876"/>
<rect x="446.24" y="426.44" width="6.47" height="2.48" fill="#24499e"/>
<rect x="452.26" y="426.44" width="6.47" height="2.48" fill="#162876"/>
<rect x="458.28" y="426.44" width="6.47" height="2.48" fill="#225ea8"/>
<rect x="494.40" y="426.44" width="6.47" height="2.48" fill="#253494"/>
<rect x="536.54" y="426.44" width="6.47" height="2.48" fill="#225ea8"/>
<rect x="548.58" y="426.44" width="6.47" height="2.48" fill="#24499e"/>
<rect x="560.62" y="426.44" width="6.47" height="2.48" fill="#24499e"/>
<rect x="578.68" y="426.44" width="6.47" height="2.48" fill="#253494"/>
<rect x="139.22" y="428.47" width="12.49" height="2.48" fill="#253494"/>
<rect x="157.28" y="428.47" width="6.47" height="2.48" fill="#253494"/>
<rect x="175.34" y="428.47" width="6.47" height="2.48" fill="#253494"/>
<rect x="229.52" y="428.47" width="6.47" height="2.48" fill="#2fa4c2"/>
<rect x="241.56" y="428.47" width="6.47" height="2.48" fill="#2fa4c2"/>
<rect x="380.02" y="428.47" width="12.49" height="2.48" fill="#162876"/>
<rect x="392.06" y="428.47" width="6.47" height="2.48" fill="#253494"/>
<rect x="398.08" y="428.47" width="12.49" height="2.48" fill="#162876"/>
<rect x="410.12" y="428.47" width="12.49" height="2.48" fill="#253494"/>
<rect x="422.16" y="428.47" width="12.49" height="2.48" fill="#162876"/>
<rect x="434.20" y="428.47" width="6.47" height="2.48" fill="#225ea8"/>
<rect x="440.22" y="428.47" width="24.53" height="2.48" fill="#162876"/>
<rect x="512.46" y="428.47" width="12.49" height="2.48" fill="#24499e"/>
<rect x="578.68" y="428.47" width="6.47" height="2.48" fill="#253494"/>
<rect x="157.28" y="430.50" width="6.47" height="2.48" fill="#253494"/>
<rect x="163.30" y="430.50" width="6.47" height="2.48" fill="#081d58"/>
<rect x="374.00" y="430.50" width="6.47" height="2.48" fill="#253494"/>
<rect x="380.02" y="430.50" width="12.49" height="2.48" fill="#162876"/>
<rect x="392.06" y="430.50" width="6.47" height="2.48" fill="#253494"/>
<rect x="398.08" y="430.50" width="6.47" height="2.48" fill="#162876"/>
<rect x="416.14" y="430.50" width="6.47" height="2.48" fill="#253494"/>
<rect x="422.16" y="430.50" width="12.49" height="2.48" fill="#162876"/>
<rect x="446.24" y="430.50" width="18.51" height="2.48" fill="#162876"/>
<rect x="494.40" y="430.50" width="6.47" height="2.48" fill="#162876"/>
<rect x="542.56" y="430.50" width="6.47" height="2.48" fill="#24499e"/>
<rect x="133.20" y="432.53" width="6.47" height="2.48" fill="#253494"/>
<rect x="157.28" y="432.53" width="6.47" height="2.48" fill="#253494"/>
<rect x="163.30" y="432.53" width="12.49" height="2.48" fill="#081d58"/>
<rect x="175.34" y="432.53" width="6.47" height="2.48" fill="#162876"/>
<rect x="223.50" y="432.53" width="6.47" height="2.48" fill="#081d58"/>
<rect x="343.90" y="432.53" width="6.47" height="2.48" fill="#253494"/>
<rect x="374.00" y="432.53" width="6.47" height="2.48" fill="#253494"/>
<rect x="398.08" y="432.53" width="6.47" height="2.48" fill="#162876"/>
<rect x="416.14" y="432.53" width="6.47" height="2.48" fill="#253494"/>
<rect x="428.18" y="432.53" width="6.47" height="2.48" fill="#162876"/>
<rect x="446.24" y="432.53" width="18.51" height="2.48" fill="#162876"/>
<rect x="494.40" y="432.53" width="6.47" height="2.48" fill="#162876"/>
<rect x="163.30" y="434.56" width="12.49" height="2.48" fill="#081d58"/>
<rect x="175.34" y="434.56" width="6.47" height="2.48" fill="#162876"/>
<rect x="199.42" y="434.56" width="12.49" height="2.48" fill="#081d58"/>
<rect x="223.50" y="434.56" width="6.47" height="2.48" fill="#081d58"/>
<rect x="398.08" y="434.56" width="12.49" height="2.48" fill="#162876"/>
<rect x="410.12" y="434.56" width="6.47" height="2.48" fill="#253494"/>
<rect x="446.24" y="434.56" width="18.51" height="2.48" fill="#162876"/>
<rect x="488.38" y="434.56" width="12.49" height="2.48" fill="#162876"/>
<rect x="193.40" y="436.59" width="24.53" height="2.48" fill="#081d58"/>
<rect x="241.56" y="436.59" width="6.47" height="2.48" fill="#2fa4c2"/>
<rect x="404.10" y="436.59" width="6.47" height="2.48" fill="#162876"/>
<rect x="488.38" y="436.59" width="12.49" height="2.48" fill="#162876"/>
<rect x="512.46" y="436.59" width="12.49" height="2.48" fill="#253494"/>
<rect x="175.34" y="438.62" width="12.49" height="2.48" fill="#162876"/>
<rect x="193.40" y="438.62" width="6.47" height="2.48" fill="#253494"/>
<rect x="199.42" y="438.62" width="18.51" height="2.48" fill="#081d58"/>
<rect x="235.54" y="438.62" width="6.47" height="2.48" fill="#1d91c0"/>
<rect x="386.04" y="438.62" width="6.47" height="2.48" fill="#253494"/>
<rect x="488.38" y="438.62" width="6.47" height="2.48" fill="#162876"/>
<rect x="512.46" y="438.62" width="12.49" height="2.48" fill="#253494"/>
<rect x="199.42" y="440.65" width="18.51" height="2.48" fill="#081d58"/>
<rect x="229.52" y="440.65" width="6.47" height="2.48" fill="#081d58"/>
<rect x="512.46" y="440.65" width="6.47" height="2.48" fill="#253494"/>
<rect x="536.54" y="440.65" width="30.55" height="2.48" fill="#162876"/>
<rect x="578.68" y="440.65" width="6.47" height="2.48" fill="#162876"/>
<rect x="223.50" y="442.68" width="12.49" height="2.48" fill="#081d58"/>
<rect x="536.54" y="442.68" width="30.55" height="2.48" fill="#162876"/>
<rect x="578.68" y="442.68" width="6.47" height="2.48" fill="#162876"/>
<rect x="229.52" y="444.71" width="6.47" height="2.48" fill="#081d58"/>
<rect x="536.54" y="444.71" width="30.55" height="2.48" fill="#162876"/>
<rect x="199.42" y="446.74" width="12.49" height="2.48" fill="#081d58"/>
<rect x="536.54" y="446.74" width="30.55" height="2.48" fill="#162876"/>
<rect x="590.72" y="446.74" width="12.49" height="2.48" fill="#162876"/>
<rect x="211.4" y="474.9" width="3.80" height="1.90" fill="#253494"/>
<rect x="451.8" y="449.0" width="6.10" height="1.90" fill="#2354a3"/>
<rect x="451.8" y="452.3" width="6.10" height="3.70" fill="#2354a3"/>
<rect x="451.8" y="458.0" width="6.10" height="2.80" fill="#081d58"/>
<rect x="385.7" y="465.0" width="6.10" height="2.00" fill="#081d58"/>
<rect x="494.3" y="465.0" width="6.00" height="2.00" fill="#081d58"/>
<rect x="602.8" y="477.2" width="4.00" height="2.00" fill="#253494"/>
<line x1="129.30" y1="390.40" x2="607.00" y2="390.40" stroke="#000" stroke-width="1.5" stroke-dasharray="2.2 4.8"/>
<line x1="129.30" y1="420.80" x2="607.00" y2="420.80" stroke="#000" stroke-width="1.5" stroke-dasharray="2.2 4.8"/>
<line x1="129.30" y1="451.40" x2="607.00" y2="451.40" stroke="#000" stroke-width="1.5" stroke-dasharray="2.2 4.8"/>
<path d="M271.00,378.30H277.60M274.30,375.00V381.60" stroke="#ffa500" stroke-width="1.6" fill="none"/>
<path d="M282.80,391.00H289.40M286.10,387.70V394.30" stroke="#ffa500" stroke-width="1.6" fill="none"/>
<path d="M289.40,399.20H296.00M292.70,395.90V402.50" stroke="#ffa500" stroke-width="1.6" fill="none"/>
<path d="M295.70,401.10H302.30M299.00,397.80V404.40" stroke="#ffa500" stroke-width="1.6" fill="none"/>
<path d="M301.40,403.00H308.00M304.70,399.70V406.30" stroke="#ffa500" stroke-width="1.6" fill="none"/>
<path d="M307.40,407.10H314.00M310.70,403.80V410.40" stroke="#ffa500" stroke-width="1.6" fill="none"/>
<path d="M313.50,409.00H320.10M316.80,405.70V412.30" stroke="#ffa500" stroke-width="1.6" fill="none"/>
<path d="M319.40,416.60H326.00M322.70,413.30V419.90" stroke="#ffa500" stroke-width="1.6" fill="none"/>
<path d="M325.50,416.60H332.10M328.80,413.30V419.90" stroke="#ffa500" stroke-width="1.6" fill="none"/>
<path d="M331.50,421.00H338.10M334.80,417.70V424.30" stroke="#ffa500" stroke-width="1.6" fill="none"/>
<path d="M337.40,411.10H344.00M340.70,407.80V414.40" stroke="#ffa500" stroke-width="1.6" fill="none"/>
<path d="M343.50,421.00H350.10M346.80,417.70V424.30" stroke="#ffa500" stroke-width="1.6" fill="none"/>
<path d="M349.60,415.30H356.20M352.90,412.00V418.60" stroke="#ffa500" stroke-width="1.6" fill="none"/>
<path d="M361.50,427.30H368.10M364.80,424.00V430.60" stroke="#ffa500" stroke-width="1.6" fill="none"/>
<path d="M367.60,427.30H374.20M370.90,424.00V430.60" stroke="#ffa500" stroke-width="1.6" fill="none"/>
<path d="M373.50,433.30H380.10M376.80,430.00V436.60" stroke="#ffa500" stroke-width="1.6" fill="none"/>
<path d="M379.70,439.20H386.30M383.00,435.90V442.50" stroke="#ffa500" stroke-width="1.6" fill="none"/>
<path d="M385.50,419.10H392.10M388.80,415.80V422.40" stroke="#ffa500" stroke-width="1.6" fill="none"/>
<path d="M391.70,427.10H398.30M395.00,423.80V430.40" stroke="#ffa500" stroke-width="1.6" fill="none"/>
<path d="M397.50,429.40H404.10M400.80,426.10V432.70" stroke="#ffa500" stroke-width="1.6" fill="none"/>
<path d="M403.80,431.20H410.40M407.10,427.90V434.50" stroke="#ffa500" stroke-width="1.6" fill="none"/>
<path d="M410.00,427.10H416.60M413.30,423.80V430.40" stroke="#ffa500" stroke-width="1.6" fill="none"/>
<path d="M415.80,427.10H422.40M419.10,423.80V430.40" stroke="#ffa500" stroke-width="1.6" fill="none"/>
<path d="M421.60,424.90H428.20M424.90,421.60V428.20" stroke="#ffa500" stroke-width="1.6" fill="none"/>
<path d="M427.70,431.60H434.30M431.00,428.30V434.90" stroke="#ffa500" stroke-width="1.6" fill="none"/>
<path d="M439.70,429.40H446.30M443.00,426.10V432.70" stroke="#ffa500" stroke-width="1.6" fill="none"/>
<path d="M446.00,433.40H452.60M449.30,430.10V436.70" stroke="#ffa500" stroke-width="1.6" fill="none"/>
<path d="M452.20,431.60H458.80M455.50,428.30V434.90" stroke="#ffa500" stroke-width="1.6" fill="none"/>
<path d="M458.00,433.40H464.60M461.30,430.10V436.70" stroke="#ffa500" stroke-width="1.6" fill="none"/>
<path d="M464.20,415.10H470.80M467.50,411.80V418.40" stroke="#ffa500" stroke-width="1.6" fill="none"/>
<path d="M470.00,401.10H476.60M473.30,397.80V404.40" stroke="#ffa500" stroke-width="1.6" fill="none"/>
<path d="M476.20,407.70H482.80M479.50,404.40V411.00" stroke="#ffa500" stroke-width="1.6" fill="none"/>
<path d="M482.00,435.20H488.60M485.30,431.90V438.50" stroke="#ffa500" stroke-width="1.6" fill="none"/>
<path d="M487.70,437.40H494.30M491.00,434.10V440.70" stroke="#ffa500" stroke-width="1.6" fill="none"/>
<path d="M493.90,433.40H500.50M497.20,430.10V436.70" stroke="#ffa500" stroke-width="1.6" fill="none"/>
<path d="M500.20,439.20H506.80M503.50,435.90V442.50" stroke="#ffa500" stroke-width="1.6" fill="none"/>
<path d="M506.00,441.40H512.60M509.30,438.10V444.70" stroke="#ffa500" stroke-width="1.6" fill="none"/>
<path d="M518.00,439.20H524.60M521.30,435.90V442.50" stroke="#ffa500" stroke-width="1.6" fill="none"/>
<path d="M524.20,441.40H530.80M527.50,438.10V444.70" stroke="#ffa500" stroke-width="1.6" fill="none"/>
<path d="M530.00,433.40H536.60M533.30,430.10V436.70" stroke="#ffa500" stroke-width="1.6" fill="none"/>
<path d="M536.20,443.60H542.80M539.50,440.30V446.90" stroke="#ffa500" stroke-width="1.6" fill="none"/>
<path d="M542.00,445.40H548.60M545.30,442.10V448.70" stroke="#ffa500" stroke-width="1.6" fill="none"/>
<path d="M547.70,443.60H554.30M551.00,440.30V446.90" stroke="#ffa500" stroke-width="1.6" fill="none"/>
<path d="M553.90,443.60H560.50M557.20,440.30V446.90" stroke="#ffa500" stroke-width="1.6" fill="none"/>
<path d="M560.20,445.40H566.80M563.50,442.10V448.70" stroke="#ffa500" stroke-width="1.6" fill="none"/>
<path d="M566.00,447.20H572.60M569.30,443.90V450.50" stroke="#ffa500" stroke-width="1.6" fill="none"/>
<path d="M572.20,414.50H578.80M575.50,411.20V417.80" stroke="#ffa500" stroke-width="1.6" fill="none"/>
<path d="M578.00,441.40H584.60M581.30,438.10V444.70" stroke="#ffa500" stroke-width="1.6" fill="none"/>
<path d="M584.20,410.80H590.80M587.50,407.50V414.10" stroke="#ffa500" stroke-width="1.6" fill="none"/>
<path d="M596.20,447.20H602.80M599.50,443.90V450.50" stroke="#ffa500" stroke-width="1.6" fill="none"/>
<path d="M602.00,437.40H608.60M605.30,434.10V440.70" stroke="#ffa500" stroke-width="1.6" fill="none"/>
<line x1="129.30" y1="42.40" x2="607.00" y2="42.40" stroke="#000" stroke-width="1.5" stroke-dasharray="2.2 4.8"/>
<path d="M129.30,42.70 C131.75,43.75 139.65,47.17 144.00,49.00 C148.35,50.83 150.98,52.37 155.40,53.70 C159.82,55.03 165.45,56.90 170.50,57.00 C175.55,57.10 180.63,55.38 185.70,54.30 C190.77,53.22 196.15,51.45 200.90,50.50 C205.65,49.55 210.72,48.70 214.20,48.60 C217.68,48.50 218.95,49.05 221.80,49.90 C224.65,50.75 228.45,52.85 231.30,53.70 C234.15,54.55 237.00,54.20 238.90,55.00 C240.80,55.80 241.28,56.97 242.70,58.50 C244.12,60.03 246.27,63.03 247.40,64.20 C248.53,65.37 248.87,61.40 249.50,65.50 C250.13,69.60 250.73,81.78 251.20,88.80 C251.67,95.82 251.80,107.80 252.30,107.60 C252.80,107.40 253.40,94.40 254.20,87.60 C255.00,80.80 256.30,71.53 257.10,66.80 C257.90,62.07 258.43,62.37 259.00,59.20 C259.57,56.03 260.03,51.28 260.50,47.80 C260.97,44.32 261.35,40.68 261.80,38.30 C262.25,35.92 262.72,33.18 263.20,33.50 C263.68,33.82 264.13,37.82 264.70,40.20 C265.27,42.58 266.03,43.68 266.60,47.80 C267.17,51.92 267.63,62.37 268.10,64.90 C268.57,67.43 269.02,63.00 269.40,63.00 C269.78,63.00 269.98,65.38 270.40,64.90 C270.82,64.42 271.43,60.10 271.90,60.10 C272.37,60.10 272.67,65.37 273.20,64.90 C273.73,64.43 274.47,60.78 275.10,57.30 C275.73,53.82 276.37,46.70 277.00,44.00 C277.63,41.30 278.27,40.47 278.90,41.10 C279.53,41.73 280.00,47.00 280.80,47.80 C281.60,48.60 282.92,45.27 283.70,45.90 C284.48,46.53 284.72,51.45 285.50,51.60 C286.28,51.75 287.60,46.65 288.40,46.80 C289.20,46.95 289.35,52.02 290.30,52.50 C291.25,52.98 293.00,50.48 294.10,49.70 C295.20,48.92 295.80,47.48 296.90,47.80 C298.00,48.12 299.58,51.60 300.70,51.60 C301.82,51.60 302.80,47.33 303.60,47.80 C304.40,48.27 304.72,54.08 305.50,54.40 C306.28,54.72 307.20,49.85 308.30,49.70 C309.40,49.55 310.98,53.35 312.10,53.50 C313.22,53.65 314.05,50.92 315.00,50.60 C315.95,50.28 316.70,51.60 317.80,51.60 C318.90,51.60 320.48,50.77 321.60,50.60 C322.72,50.43 323.55,51.38 324.50,50.60 C325.45,49.82 326.20,47.00 327.30,45.90 C328.40,44.80 329.83,44.32 331.10,44.00 C332.37,43.68 333.80,43.85 334.90,44.00 C336.00,44.15 336.75,45.70 337.70,44.90 C338.65,44.10 339.17,39.83 340.60,39.20 C342.03,38.57 344.08,40.47 346.30,41.10 C348.52,41.73 351.37,42.20 353.90,43.00 C356.43,43.80 359.53,45.27 361.50,45.90 C363.47,46.53 364.05,46.33 365.70,46.80 C367.35,47.27 369.03,47.97 371.40,48.70 C373.77,49.43 377.37,51.20 379.90,51.20 C382.43,51.20 383.90,49.90 386.60,48.70 C389.30,47.50 393.25,44.63 396.10,44.00 C398.95,43.37 401.50,44.65 403.70,44.90 C405.90,45.15 407.42,45.08 409.30,45.50 C411.18,45.92 412.78,47.33 415.00,47.40 C417.22,47.47 420.07,46.15 422.60,45.90 C425.13,45.65 427.67,45.43 430.20,45.90 C432.73,46.37 435.58,49.02 437.80,48.70 C440.02,48.38 441.80,44.78 443.50,44.00 C445.20,43.22 446.42,44.38 448.00,44.00 C449.58,43.62 451.22,41.70 453.00,41.70 C454.78,41.70 456.48,43.68 458.70,44.00 C460.92,44.32 463.77,43.60 466.30,43.60 C468.83,43.60 471.37,43.47 473.90,44.00 C476.43,44.53 479.22,46.02 481.50,46.80 C483.78,47.58 485.32,48.17 487.60,48.70 C489.88,49.23 492.35,49.90 495.20,50.00 C498.05,50.10 500.90,49.83 504.70,49.30 C508.50,48.77 513.90,47.75 518.00,46.80 C522.10,45.85 525.52,44.55 529.30,43.60 C533.08,42.65 536.90,41.73 540.70,41.10 C544.50,40.47 548.62,39.88 552.10,39.80 C555.58,39.72 558.43,40.15 561.60,40.60 C564.77,41.05 567.93,41.68 571.10,42.50 C574.27,43.32 577.43,44.62 580.60,45.50 C583.77,46.38 587.25,47.05 590.10,47.80 C592.95,48.55 595.48,49.05 597.70,50.00 C599.92,50.95 601.88,52.28 603.40,53.50 C604.92,54.72 606.23,56.67 606.80,57.30" fill="none" stroke="#ff0000" stroke-width="1.75" stroke-linejoin="round" />
<path d="M129.30,42.90 C131.08,43.00 131.22,43.35 140.00,43.50 C148.78,43.65 171.85,43.82 182.00,43.80 C192.15,43.78 195.85,43.42 200.90,43.40 C205.95,43.38 208.82,43.25 212.30,43.70 C215.78,44.15 218.63,45.22 221.80,46.10 C224.97,46.98 228.45,47.95 231.30,49.00 C234.15,50.05 236.68,50.98 238.90,52.40 C241.12,53.82 242.87,56.02 244.60,57.50 C246.33,58.98 248.33,59.13 249.30,61.30 C250.27,63.47 250.08,67.50 250.40,70.50 C250.72,73.50 250.88,76.28 251.20,79.30 C251.52,82.32 251.88,89.32 252.30,88.60 C252.72,87.88 253.38,78.02 253.70,75.00 C254.02,71.98 253.63,74.08 254.20,70.50 C254.77,66.92 256.30,57.13 257.10,53.50 C257.90,49.87 258.37,50.28 259.00,48.70 C259.63,47.12 260.33,45.27 260.90,44.00 C261.47,42.73 261.93,40.78 262.40,41.10 C262.87,41.42 263.00,44.78 263.70,45.90 C264.40,47.02 265.80,46.07 266.60,47.80 C267.40,49.53 267.87,56.62 268.50,56.30 C269.13,55.98 269.77,47.95 270.40,45.90 C271.03,43.85 271.67,43.05 272.30,44.00 C272.93,44.95 273.57,51.13 274.20,51.60 C274.83,52.07 275.47,48.23 276.10,46.80 C276.73,45.37 277.37,42.52 278.00,43.00 C278.63,43.48 279.27,49.53 279.90,49.70 C280.53,49.87 281.02,44.48 281.80,44.00 C282.58,43.52 283.67,46.17 284.60,46.80 C285.53,47.43 286.62,46.85 287.40,47.80 C288.18,48.75 288.67,52.35 289.30,52.50 C289.93,52.65 290.25,49.80 291.20,48.70 C292.15,47.60 293.73,46.05 295.00,45.90 C296.27,45.75 297.68,47.02 298.80,47.80 C299.92,48.58 300.75,51.08 301.70,50.60 C302.65,50.12 303.55,45.05 304.50,44.90 C305.45,44.75 306.45,49.53 307.40,49.70 C308.35,49.87 309.10,46.85 310.20,45.90 C311.30,44.95 312.42,44.63 314.00,44.00 C315.58,43.37 316.85,42.42 319.70,42.10 C322.55,41.78 327.30,42.42 331.10,42.10 C334.90,41.78 338.70,40.20 342.50,40.20 C346.30,40.20 349.32,41.47 353.90,42.10 C358.48,42.73 364.23,43.68 370.00,44.00 C375.77,44.32 383.83,44.17 388.50,44.00 C393.17,43.83 393.25,43.07 398.00,43.00 C402.75,42.93 411.32,43.43 417.00,43.60 C422.68,43.77 428.32,43.37 432.10,44.00 C435.88,44.63 437.80,47.08 439.70,47.40 C441.60,47.72 442.23,46.63 443.50,45.90 C444.77,45.17 445.38,43.38 447.30,43.00 C449.22,42.62 452.47,43.43 455.00,43.60 C457.53,43.77 456.67,44.00 462.50,44.00 C468.33,44.00 477.08,43.67 490.00,43.60 C502.92,43.53 525.00,43.57 540.00,43.60 C555.00,43.63 570.38,43.73 580.00,43.80 C589.62,43.87 593.53,43.72 597.70,44.00 C601.87,44.28 603.48,45.57 605.00,45.50 C606.52,45.43 606.50,43.92 606.80,43.60" fill="none" stroke="#1e8c1e" stroke-width="1.75" stroke-linejoin="round" />
<path d="M129.30,42.90 C131.08,43.00 131.22,43.35 140.00,43.50 C148.78,43.65 171.83,44.00 182.00,43.80 C192.17,43.60 192.78,42.70 201.00,42.30 C209.22,41.90 224.35,41.30 231.30,41.40 C238.25,41.50 239.92,42.60 242.70,42.90 C245.48,43.20 246.55,42.77 248.00,43.20 C249.45,43.63 250.52,45.53 251.40,45.50 C252.28,45.47 252.20,44.05 253.30,43.00 C254.40,41.95 256.73,39.52 258.00,39.20 C259.27,38.88 260.10,41.10 260.90,41.10 C261.70,41.10 262.02,38.88 262.80,39.20 C263.58,39.52 264.65,43.22 265.60,43.00 C266.55,42.78 267.55,38.22 268.50,37.90 C269.45,37.58 270.52,40.08 271.30,41.10 C272.08,42.12 272.40,43.68 273.20,44.00 C274.00,44.32 275.15,43.00 276.10,43.00 C277.05,43.00 277.95,44.32 278.90,44.00 C279.85,43.68 281.00,41.10 281.80,41.10 C282.60,41.10 282.77,43.52 283.70,44.00 C284.63,44.48 286.15,44.17 287.40,44.00 C288.65,43.83 289.93,43.00 291.20,43.00 C292.47,43.00 293.88,43.52 295.00,44.00 C296.12,44.48 296.95,46.22 297.90,45.90 C298.85,45.58 299.92,41.95 300.70,42.10 C301.48,42.25 301.97,46.65 302.60,46.80 C303.23,46.95 303.55,43.63 304.50,43.00 C305.45,42.37 307.03,42.83 308.30,43.00 C309.57,43.17 310.83,44.15 312.10,44.00 C313.37,43.85 314.32,42.67 315.90,42.10 C317.48,41.53 319.70,40.60 321.60,40.60 C323.50,40.60 325.40,41.53 327.30,42.10 C329.20,42.67 331.10,44.00 333.00,44.00 C334.90,44.00 336.48,42.58 338.70,42.10 C340.92,41.62 343.77,41.03 346.30,41.10 C348.83,41.17 349.95,42.33 353.90,42.50 C357.85,42.67 362.32,42.02 370.00,42.10 C377.68,42.18 386.67,42.93 400.00,43.00 C413.33,43.07 433.33,42.50 450.00,42.50 C466.67,42.50 483.33,42.88 500.00,43.00 C516.67,43.12 536.67,43.10 550.00,43.20 C563.33,43.30 571.67,43.57 580.00,43.60 C588.33,43.63 595.53,43.58 600.00,43.40 C604.47,43.22 605.67,42.65 606.80,42.50" fill="none" stroke="#0000ff" stroke-width="1.75" stroke-linejoin="round" />
<rect x="129.3" y="5.2" width="477.7" height="112.6" fill="none" stroke="#000" stroke-width="1.25"/>
<line x1="129.30" y1="5.20" x2="129.30" y2="0.20" stroke="#000" stroke-width="1.25" />
<line x1="129.30" y1="117.80" x2="129.30" y2="122.80" stroke="#000" stroke-width="1.25" />
<line x1="145.22" y1="5.20" x2="145.22" y2="2.40" stroke="#000" stroke-width="1.25" />
<line x1="145.22" y1="117.80" x2="145.22" y2="120.60" stroke="#000" stroke-width="1.25" />
<line x1="161.15" y1="5.20" x2="161.15" y2="2.40" stroke="#000" stroke-width="1.25" />
<line x1="161.15" y1="117.80" x2="161.15" y2="120.60" stroke="#000" stroke-width="1.25" />
<line x1="177.07" y1="5.20" x2="177.07" y2="2.40" stroke="#000" stroke-width="1.25" />
<line x1="177.07" y1="117.80" x2="177.07" y2="120.60" stroke="#000" stroke-width="1.25" />
<line x1="192.99" y1="5.20" x2="192.99" y2="2.40" stroke="#000" stroke-width="1.25" />
<line x1="192.99" y1="117.80" x2="192.99" y2="120.60" stroke="#000" stroke-width="1.25" />
<line x1="208.92" y1="5.20" x2="208.92" y2="2.40" stroke="#000" stroke-width="1.25" />
<line x1="208.92" y1="117.80" x2="208.92" y2="120.60" stroke="#000" stroke-width="1.25" />
<line x1="224.84" y1="5.20" x2="224.84" y2="2.40" stroke="#000" stroke-width="1.25" />
<line x1="224.84" y1="117.80" x2="224.84" y2="120.60" stroke="#000" stroke-width="1.25" />
<line x1="240.76" y1="5.20" x2="240.76" y2="2.40" stroke="#000" stroke-width="1.25" />
<line x1="240.76" y1="117.80" x2="240.76" y2="120.60" stroke="#000" stroke-width="1.25" />
<line x1="256.69" y1="5.20" x2="256.69" y2="2.40" stroke="#000" stroke-width="1.25" />
<line x1="256.69" y1="117.80" x2="256.69" y2="120.60" stroke="#000" stroke-width="1.25" />
<line x1="272.61" y1="5.20" x2="272.61" y2="2.40" stroke="#000" stroke-width="1.25" />
<line x1="272.61" y1="117.80" x2="272.61" y2="120.60" stroke="#000" stroke-width="1.25" />
<line x1="288.53" y1="5.20" x2="288.53" y2="0.20" stroke="#000" stroke-width="1.25" />
<line x1="288.53" y1="117.80" x2="288.53" y2="122.80" stroke="#000" stroke-width="1.25" />
<line x1="304.46" y1="5.20" x2="304.46" y2="2.40" stroke="#000" stroke-width="1.25" />
<line x1="304.46" y1="117.80" x2="304.46" y2="120.60" stroke="#000" stroke-width="1.25" />
<line x1="320.38" y1="5.20" x2="320.38" y2="2.40" stroke="#000" stroke-width="1.25" />
<line x1="320.38" y1="117.80" x2="320.38" y2="120.60" stroke="#000" stroke-width="1.25" />
<line x1="336.30" y1="5.20" x2="336.30" y2="2.40" stroke="#000" stroke-width="1.25" />
<line x1="336.30" y1="117.80" x2="336.30" y2="120.60" stroke="#000" stroke-width="1.25" />
<line x1="352.23" y1="5.20" x2="352.23" y2="2.40" stroke="#000" stroke-width="1.25" />
<line x1="352.23" y1="117.80" x2="352.23" y2="120.60" stroke="#000" stroke-width="1.25" />
<line x1="368.15" y1="5.20" x2="368.15" y2="2.40" stroke="#000" stroke-width="1.25" />
<line x1="368.15" y1="117.80" x2="368.15" y2="120.60" stroke="#000" stroke-width="1.25" />
<line x1="384.07" y1="5.20" x2="384.07" y2="2.40" stroke="#000" stroke-width="1.25" />
<line x1="384.07" y1="117.80" x2="384.07" y2="120.60" stroke="#000" stroke-width="1.25" />
<line x1="400.00" y1="5.20" x2="400.00" y2="2.40" stroke="#000" stroke-width="1.25" />
<line x1="400.00" y1="117.80" x2="400.00" y2="120.60" stroke="#000" stroke-width="1.25" />
<line x1="415.92" y1="5.20" x2="415.92" y2="2.40" stroke="#000" stroke-width="1.25" />
<line x1="415.92" y1="117.80" x2="415.92" y2="120.60" stroke="#000" stroke-width="1.25" />
<line x1="431.84" y1="5.20" x2="431.84" y2="2.40" stroke="#000" stroke-width="1.25" />
<line x1="431.84" y1="117.80" x2="431.84" y2="120.60" stroke="#000" stroke-width="1.25" />
<line x1="447.77" y1="5.20" x2="447.77" y2="0.20" stroke="#000" stroke-width="1.25" />
<line x1="447.77" y1="117.80" x2="447.77" y2="122.80" stroke="#000" stroke-width="1.25" />
<line x1="463.69" y1="5.20" x2="463.69" y2="2.40" stroke="#000" stroke-width="1.25" />
<line x1="463.69" y1="117.80" x2="463.69" y2="120.60" stroke="#000" stroke-width="1.25" />
<line x1="479.61" y1="5.20" x2="479.61" y2="2.40" stroke="#000" stroke-width="1.25" />
<line x1="479.61" y1="117.80" x2="479.61" y2="120.60" stroke="#000" stroke-width="1.25" />
<line x1="495.54" y1="5.20" x2="495.54" y2="2.40" stroke="#000" stroke-width="1.25" />
<line x1="495.54" y1="117.80" x2="495.54" y2="120.60" stroke="#000" stroke-width="1.25" />
<line x1="511.46" y1="5.20" x2="511.46" y2="2.40" stroke="#000" stroke-width="1.25" />
<line x1="511.46" y1="117.80" x2="511.46" y2="120.60" stroke="#000" stroke-width="1.25" />
<line x1="527.38" y1="5.20" x2="527.38" y2="2.40" stroke="#000" stroke-width="1.25" />
<line x1="527.38" y1="117.80" x2="527.38" y2="120.60" stroke="#000" stroke-width="1.25" />
<line x1="543.31" y1="5.20" x2="543.31" y2="2.40" stroke="#000" stroke-width="1.25" />
<line x1="543.31" y1="117.80" x2="543.31" y2="120.60" stroke="#000" stroke-width="1.25" />
<line x1="559.23" y1="5.20" x2="559.23" y2="2.40" stroke="#000" stroke-width="1.25" />
<line x1="559.23" y1="117.80" x2="559.23" y2="120.60" stroke="#000" stroke-width="1.25" />
<line x1="575.15" y1="5.20" x2="575.15" y2="2.40" stroke="#000" stroke-width="1.25" />
<line x1="575.15" y1="117.80" x2="575.15" y2="120.60" stroke="#000" stroke-width="1.25" />
<line x1="591.08" y1="5.20" x2="591.08" y2="2.40" stroke="#000" stroke-width="1.25" />
<line x1="591.08" y1="117.80" x2="591.08" y2="120.60" stroke="#000" stroke-width="1.25" />
<line x1="607.00" y1="5.20" x2="607.00" y2="0.20" stroke="#000" stroke-width="1.25" />
<line x1="607.00" y1="117.80" x2="607.00" y2="122.80" stroke="#000" stroke-width="1.25" />
<rect x="129.3" y="126.4" width="477.7" height="112.6" fill="none" stroke="#000" stroke-width="1.25"/>
<line x1="129.30" y1="126.40" x2="129.30" y2="121.40" stroke="#000" stroke-width="1.25" />
<line x1="129.30" y1="239.00" x2="129.30" y2="244.00" stroke="#000" stroke-width="1.25" />
<line x1="145.22" y1="126.40" x2="145.22" y2="123.60" stroke="#000" stroke-width="1.25" />
<line x1="145.22" y1="239.00" x2="145.22" y2="241.80" stroke="#000" stroke-width="1.25" />
<line x1="161.15" y1="126.40" x2="161.15" y2="123.60" stroke="#000" stroke-width="1.25" />
<line x1="161.15" y1="239.00" x2="161.15" y2="241.80" stroke="#000" stroke-width="1.25" />
<line x1="177.07" y1="126.40" x2="177.07" y2="123.60" stroke="#000" stroke-width="1.25" />
<line x1="177.07" y1="239.00" x2="177.07" y2="241.80" stroke="#000" stroke-width="1.25" />
<line x1="192.99" y1="126.40" x2="192.99" y2="123.60" stroke="#000" stroke-width="1.25" />
<line x1="192.99" y1="239.00" x2="192.99" y2="241.80" stroke="#000" stroke-width="1.25" />
<line x1="208.92" y1="126.40" x2="208.92" y2="123.60" stroke="#000" stroke-width="1.25" />
<line x1="208.92" y1="239.00" x2="208.92" y2="241.80" stroke="#000" stroke-width="1.25" />
<line x1="224.84" y1="126.40" x2="224.84" y2="123.60" stroke="#000" stroke-width="1.25" />
<line x1="224.84" y1="239.00" x2="224.84" y2="241.80" stroke="#000" stroke-width="1.25" />
<line x1="240.76" y1="126.40" x2="240.76" y2="123.60" stroke="#000" stroke-width="1.25" />
<line x1="240.76" y1="239.00" x2="240.76" y2="241.80" stroke="#000" stroke-width="1.25" />
<line x1="256.69" y1="126.40" x2="256.69" y2="123.60" stroke="#000" stroke-width="1.25" />
<line x1="256.69" y1="239.00" x2="256.69" y2="241.80" stroke="#000" stroke-width="1.25" />
<line x1="272.61" y1="126.40" x2="272.61" y2="123.60" stroke="#000" stroke-width="1.25" />
<line x1="272.61" y1="239.00" x2="272.61" y2="241.80" stroke="#000" stroke-width="1.25" />
<line x1="288.53" y1="126.40" x2="288.53" y2="121.40" stroke="#000" stroke-width="1.25" />
<line x1="288.53" y1="239.00" x2="288.53" y2="244.00" stroke="#000" stroke-width="1.25" />
<line x1="304.46" y1="126.40" x2="304.46" y2="123.60" stroke="#000" stroke-width="1.25" />
<line x1="304.46" y1="239.00" x2="304.46" y2="241.80" stroke="#000" stroke-width="1.25" />
<line x1="320.38" y1="126.40" x2="320.38" y2="123.60" stroke="#000" stroke-width="1.25" />
<line x1="320.38" y1="239.00" x2="320.38" y2="241.80" stroke="#000" stroke-width="1.25" />
<line x1="336.30" y1="126.40" x2="336.30" y2="123.60" stroke="#000" stroke-width="1.25" />
<line x1="336.30" y1="239.00" x2="336.30" y2="241.80" stroke="#000" stroke-width="1.25" />
<line x1="352.23" y1="126.40" x2="352.23" y2="123.60" stroke="#000" stroke-width="1.25" />
<line x1="352.23" y1="239.00" x2="352.23" y2="241.80" stroke="#000" stroke-width="1.25" />
<line x1="368.15" y1="126.40" x2="368.15" y2="123.60" stroke="#000" stroke-width="1.25" />
<line x1="368.15" y1="239.00" x2="368.15" y2="241.80" stroke="#000" stroke-width="1.25" />
<line x1="384.07" y1="126.40" x2="384.07" y2="123.60" stroke="#000" stroke-width="1.25" />
<line x1="384.07" y1="239.00" x2="384.07" y2="241.80" stroke="#000" stroke-width="1.25" />
<line x1="400.00" y1="126.40" x2="400.00" y2="123.60" stroke="#000" stroke-width="1.25" />
<line x1="400.00" y1="239.00" x2="400.00" y2="241.80" stroke="#000" stroke-width="1.25" />
<line x1="415.92" y1="126.40" x2="415.92" y2="123.60" stroke="#000" stroke-width="1.25" />
<line x1="415.92" y1="239.00" x2="415.92" y2="241.80" stroke="#000" stroke-width="1.25" />
<line x1="431.84" y1="126.40" x2="431.84" y2="123.60" stroke="#000" stroke-width="1.25" />
<line x1="431.84" y1="239.00" x2="431.84" y2="241.80" stroke="#000" stroke-width="1.25" />
<line x1="447.77" y1="126.40" x2="447.77" y2="121.40" stroke="#000" stroke-width="1.25" />
<line x1="447.77" y1="239.00" x2="447.77" y2="244.00" stroke="#000" stroke-width="1.25" />
<line x1="463.69" y1="126.40" x2="463.69" y2="123.60" stroke="#000" stroke-width="1.25" />
<line x1="463.69" y1="239.00" x2="463.69" y2="241.80" stroke="#000" stroke-width="1.25" />
<line x1="479.61" y1="126.40" x2="479.61" y2="123.60" stroke="#000" stroke-width="1.25" />
<line x1="479.61" y1="239.00" x2="479.61" y2="241.80" stroke="#000" stroke-width="1.25" />
<line x1="495.54" y1="126.40" x2="495.54" y2="123.60" stroke="#000" stroke-width="1.25" />
<line x1="495.54" y1="239.00" x2="495.54" y2="241.80" stroke="#000" stroke-width="1.25" />
<line x1="511.46" y1="126.40" x2="511.46" y2="123.60" stroke="#000" stroke-width="1.25" />
<line x1="511.46" y1="239.00" x2="511.46" y2="241.80" stroke="#000" stroke-width="1.25" />
<line x1="527.38" y1="126.40" x2="527.38" y2="123.60" stroke="#000" stroke-width="1.25" />
<line x1="527.38" y1="239.00" x2="527.38" y2="241.80" stroke="#000" stroke-width="1.25" />
<line x1="543.31" y1="126.40" x2="543.31" y2="123.60" stroke="#000" stroke-width="1.25" />
<line x1="543.31" y1="239.00" x2="543.31" y2="241.80" stroke="#000" stroke-width="1.25" />
<line x1="559.23" y1="126.40" x2="559.23" y2="123.60" stroke="#000" stroke-width="1.25" />
<line x1="559.23" y1="239.00" x2="559.23" y2="241.80" stroke="#000" stroke-width="1.25" />
<line x1="575.15" y1="126.40" x2="575.15" y2="123.60" stroke="#000" stroke-width="1.25" />
<line x1="575.15" y1="239.00" x2="575.15" y2="241.80" stroke="#000" stroke-width="1.25" />
<line x1="591.08" y1="126.40" x2="591.08" y2="123.60" stroke="#000" stroke-width="1.25" />
<line x1="591.08" y1="239.00" x2="591.08" y2="241.80" stroke="#000" stroke-width="1.25" />
<line x1="607.00" y1="126.40" x2="607.00" y2="121.40" stroke="#000" stroke-width="1.25" />
<line x1="607.00" y1="239.00" x2="607.00" y2="244.00" stroke="#000" stroke-width="1.25" />
<rect x="129.3" y="247.7" width="477.7" height="112.6" fill="none" stroke="#000" stroke-width="1.25"/>
<line x1="129.30" y1="247.70" x2="129.30" y2="242.70" stroke="#000" stroke-width="1.25" />
<line x1="129.30" y1="360.30" x2="129.30" y2="365.30" stroke="#000" stroke-width="1.25" />
<line x1="145.22" y1="247.70" x2="145.22" y2="244.90" stroke="#000" stroke-width="1.25" />
<line x1="145.22" y1="360.30" x2="145.22" y2="363.10" stroke="#000" stroke-width="1.25" />
<line x1="161.15" y1="247.70" x2="161.15" y2="244.90" stroke="#000" stroke-width="1.25" />
<line x1="161.15" y1="360.30" x2="161.15" y2="363.10" stroke="#000" stroke-width="1.25" />
<line x1="177.07" y1="247.70" x2="177.07" y2="244.90" stroke="#000" stroke-width="1.25" />
<line x1="177.07" y1="360.30" x2="177.07" y2="363.10" stroke="#000" stroke-width="1.25" />
<line x1="192.99" y1="247.70" x2="192.99" y2="244.90" stroke="#000" stroke-width="1.25" />
<line x1="192.99" y1="360.30" x2="192.99" y2="363.10" stroke="#000" stroke-width="1.25" />
<line x1="208.92" y1="247.70" x2="208.92" y2="244.90" stroke="#000" stroke-width="1.25" />
<line x1="208.92" y1="360.30" x2="208.92" y2="363.10" stroke="#000" stroke-width="1.25" />
<line x1="224.84" y1="247.70" x2="224.84" y2="244.90" stroke="#000" stroke-width="1.25" />
<line x1="224.84" y1="360.30" x2="224.84" y2="363.10" stroke="#000" stroke-width="1.25" />
<line x1="240.76" y1="247.70" x2="240.76" y2="244.90" stroke="#000" stroke-width="1.25" />
<line x1="240.76" y1="360.30" x2="240.76" y2="363.10" stroke="#000" stroke-width="1.25" />
<line x1="256.69" y1="247.70" x2="256.69" y2="244.90" stroke="#000" stroke-width="1.25" />
<line x1="256.69" y1="360.30" x2="256.69" y2="363.10" stroke="#000" stroke-width="1.25" />
<line x1="272.61" y1="247.70" x2="272.61" y2="244.90" stroke="#000" stroke-width="1.25" />
<line x1="272.61" y1="360.30" x2="272.61" y2="363.10" stroke="#000" stroke-width="1.25" />
<line x1="288.53" y1="247.70" x2="288.53" y2="242.70" stroke="#000" stroke-width="1.25" />
<line x1="288.53" y1="360.30" x2="288.53" y2="365.30" stroke="#000" stroke-width="1.25" />
<line x1="304.46" y1="247.70" x2="304.46" y2="244.90" stroke="#000" stroke-width="1.25" />
<line x1="304.46" y1="360.30" x2="304.46" y2="363.10" stroke="#000" stroke-width="1.25" />
<line x1="320.38" y1="247.70" x2="320.38" y2="244.90" stroke="#000" stroke-width="1.25" />
<line x1="320.38" y1="360.30" x2="320.38" y2="363.10" stroke="#000" stroke-width="1.25" />
<line x1="336.30" y1="247.70" x2="336.30" y2="244.90" stroke="#000" stroke-width="1.25" />
<line x1="336.30" y1="360.30" x2="336.30" y2="363.10" stroke="#000" stroke-width="1.25" />
<line x1="352.23" y1="247.70" x2="352.23" y2="244.90" stroke="#000" stroke-width="1.25" />
<line x1="352.23" y1="360.30" x2="352.23" y2="363.10" stroke="#000" stroke-width="1.25" />
<line x1="368.15" y1="247.70" x2="368.15" y2="244.90" stroke="#000" stroke-width="1.25" />
<line x1="368.15" y1="360.30" x2="368.15" y2="363.10" stroke="#000" stroke-width="1.25" />
<line x1="384.07" y1="247.70" x2="384.07" y2="244.90" stroke="#000" stroke-width="1.25" />
<line x1="384.07" y1="360.30" x2="384.07" y2="363.10" stroke="#000" stroke-width="1.25" />
<line x1="400.00" y1="247.70" x2="400.00" y2="244.90" stroke="#000" stroke-width="1.25" />
<line x1="400.00" y1="360.30" x2="400.00" y2="363.10" stroke="#000" stroke-width="1.25" />
<line x1="415.92" y1="247.70" x2="415.92" y2="244.90" stroke="#000" stroke-width="1.25" />
<line x1="415.92" y1="360.30" x2="415.92" y2="363.10" stroke="#000" stroke-width="1.25" />
<line x1="431.84" y1="247.70" x2="431.84" y2="244.90" stroke="#000" stroke-width="1.25" />
<line x1="431.84" y1="360.30" x2="431.84" y2="363.10" stroke="#000" stroke-width="1.25" />
<line x1="447.77" y1="247.70" x2="447.77" y2="242.70" stroke="#000" stroke-width="1.25" />
<line x1="447.77" y1="360.30" x2="447.77" y2="365.30" stroke="#000" stroke-width="1.25" />
<line x1="463.69" y1="247.70" x2="463.69" y2="244.90" stroke="#000" stroke-width="1.25" />
<line x1="463.69" y1="360.30" x2="463.69" y2="363.10" stroke="#000" stroke-width="1.25" />
<line x1="479.61" y1="247.70" x2="479.61" y2="244.90" stroke="#000" stroke-width="1.25" />
<line x1="479.61" y1="360.30" x2="479.61" y2="363.10" stroke="#000" stroke-width="1.25" />
<line x1="495.54" y1="247.70" x2="495.54" y2="244.90" stroke="#000" stroke-width="1.25" />
<line x1="495.54" y1="360.30" x2="495.54" y2="363.10" stroke="#000" stroke-width="1.25" />
<line x1="511.46" y1="247.70" x2="511.46" y2="244.90" stroke="#000" stroke-width="1.25" />
<line x1="511.46" y1="360.30" x2="511.46" y2="363.10" stroke="#000" stroke-width="1.25" />
<line x1="527.38" y1="247.70" x2="527.38" y2="244.90" stroke="#000" stroke-width="1.25" />
<line x1="527.38" y1="360.30" x2="527.38" y2="363.10" stroke="#000" stroke-width="1.25" />
<line x1="543.31" y1="247.70" x2="543.31" y2="244.90" stroke="#000" stroke-width="1.25" />
<line x1="543.31" y1="360.30" x2="543.31" y2="363.10" stroke="#000" stroke-width="1.25" />
<line x1="559.23" y1="247.70" x2="559.23" y2="244.90" stroke="#000" stroke-width="1.25" />
<line x1="559.23" y1="360.30" x2="559.23" y2="363.10" stroke="#000" stroke-width="1.25" />
<line x1="575.15" y1="247.70" x2="575.15" y2="244.90" stroke="#000" stroke-width="1.25" />
<line x1="575.15" y1="360.30" x2="575.15" y2="363.10" stroke="#000" stroke-width="1.25" />
<line x1="591.08" y1="247.70" x2="591.08" y2="244.90" stroke="#000" stroke-width="1.25" />
<line x1="591.08" y1="360.30" x2="591.08" y2="363.10" stroke="#000" stroke-width="1.25" />
<line x1="607.00" y1="247.70" x2="607.00" y2="242.70" stroke="#000" stroke-width="1.25" />
<line x1="607.00" y1="360.30" x2="607.00" y2="365.30" stroke="#000" stroke-width="1.25" />
<rect x="129.3" y="369.0" width="477.7" height="112.6" fill="none" stroke="#000" stroke-width="1.25"/>
<line x1="129.30" y1="369.00" x2="129.30" y2="364.00" stroke="#000" stroke-width="1.25" />
<line x1="129.30" y1="481.60" x2="129.30" y2="486.60" stroke="#000" stroke-width="1.25" />
<line x1="145.22" y1="369.00" x2="145.22" y2="366.20" stroke="#000" stroke-width="1.25" />
<line x1="145.22" y1="481.60" x2="145.22" y2="484.40" stroke="#000" stroke-width="1.25" />
<line x1="161.15" y1="369.00" x2="161.15" y2="366.20" stroke="#000" stroke-width="1.25" />
<line x1="161.15" y1="481.60" x2="161.15" y2="484.40" stroke="#000" stroke-width="1.25" />
<line x1="177.07" y1="369.00" x2="177.07" y2="366.20" stroke="#000" stroke-width="1.25" />
<line x1="177.07" y1="481.60" x2="177.07" y2="484.40" stroke="#000" stroke-width="1.25" />
<line x1="192.99" y1="369.00" x2="192.99" y2="366.20" stroke="#000" stroke-width="1.25" />
<line x1="192.99" y1="481.60" x2="192.99" y2="484.40" stroke="#000" stroke-width="1.25" />
<line x1="208.92" y1="369.00" x2="208.92" y2="366.20" stroke="#000" stroke-width="1.25" />
<line x1="208.92" y1="481.60" x2="208.92" y2="484.40" stroke="#000" stroke-width="1.25" />
<line x1="224.84" y1="369.00" x2="224.84" y2="366.20" stroke="#000" stroke-width="1.25" />
<line x1="224.84" y1="481.60" x2="224.84" y2="484.40" stroke="#000" stroke-width="1.25" />
<line x1="240.76" y1="369.00" x2="240.76" y2="366.20" stroke="#000" stroke-width="1.25" />
<line x1="240.76" y1="481.60" x2="240.76" y2="484.40" stroke="#000" stroke-width="1.25" />
<line x1="256.69" y1="369.00" x2="256.69" y2="366.20" stroke="#000" stroke-width="1.25" />
<line x1="256.69" y1="481.60" x2="256.69" y2="484.40" stroke="#000" stroke-width="1.25" />
<line x1="272.61" y1="369.00" x2="272.61" y2="366.20" stroke="#000" stroke-width="1.25" />
<line x1="272.61" y1="481.60" x2="272.61" y2="484.40" stroke="#000" stroke-width="1.25" />
<line x1="288.53" y1="369.00" x2="288.53" y2="364.00" stroke="#000" stroke-width="1.25" />
<line x1="288.53" y1="481.60" x2="288.53" y2="486.60" stroke="#000" stroke-width="1.25" />
<line x1="304.46" y1="369.00" x2="304.46" y2="366.20" stroke="#000" stroke-width="1.25" />
<line x1="304.46" y1="481.60" x2="304.46" y2="484.40" stroke="#000" stroke-width="1.25" />
<line x1="320.38" y1="369.00" x2="320.38" y2="366.20" stroke="#000" stroke-width="1.25" />
<line x1="320.38" y1="481.60" x2="320.38" y2="484.40" stroke="#000" stroke-width="1.25" />
<line x1="336.30" y1="369.00" x2="336.30" y2="366.20" stroke="#000" stroke-width="1.25" />
<line x1="336.30" y1="481.60" x2="336.30" y2="484.40" stroke="#000" stroke-width="1.25" />
<line x1="352.23" y1="369.00" x2="352.23" y2="366.20" stroke="#000" stroke-width="1.25" />
<line x1="352.23" y1="481.60" x2="352.23" y2="484.40" stroke="#000" stroke-width="1.25" />
<line x1="368.15" y1="369.00" x2="368.15" y2="366.20" stroke="#000" stroke-width="1.25" />
<line x1="368.15" y1="481.60" x2="368.15" y2="484.40" stroke="#000" stroke-width="1.25" />
<line x1="384.07" y1="369.00" x2="384.07" y2="366.20" stroke="#000" stroke-width="1.25" />
<line x1="384.07" y1="481.60" x2="384.07" y2="484.40" stroke="#000" stroke-width="1.25" />
<line x1="400.00" y1="369.00" x2="400.00" y2="366.20" stroke="#000" stroke-width="1.25" />
<line x1="400.00" y1="481.60" x2="400.00" y2="484.40" stroke="#000" stroke-width="1.25" />
<line x1="415.92" y1="369.00" x2="415.92" y2="366.20" stroke="#000" stroke-width="1.25" />
<line x1="415.92" y1="481.60" x2="415.92" y2="484.40" stroke="#000" stroke-width="1.25" />
<line x1="431.84" y1="369.00" x2="431.84" y2="366.20" stroke="#000" stroke-width="1.25" />
<line x1="431.84" y1="481.60" x2="431.84" y2="484.40" stroke="#000" stroke-width="1.25" />
<line x1="447.77" y1="369.00" x2="447.77" y2="364.00" stroke="#000" stroke-width="1.25" />
<line x1="447.77" y1="481.60" x2="447.77" y2="486.60" stroke="#000" stroke-width="1.25" />
<line x1="463.69" y1="369.00" x2="463.69" y2="366.20" stroke="#000" stroke-width="1.25" />
<line x1="463.69" y1="481.60" x2="463.69" y2="484.40" stroke="#000" stroke-width="1.25" />
<line x1="479.61" y1="369.00" x2="479.61" y2="366.20" stroke="#000" stroke-width="1.25" />
<line x1="479.61" y1="481.60" x2="479.61" y2="484.40" stroke="#000" stroke-width="1.25" />
<line x1="495.54" y1="369.00" x2="495.54" y2="366.20" stroke="#000" stroke-width="1.25" />
<line x1="495.54" y1="481.60" x2="495.54" y2="484.40" stroke="#000" stroke-width="1.25" />
<line x1="511.46" y1="369.00" x2="511.46" y2="366.20" stroke="#000" stroke-width="1.25" />
<line x1="511.46" y1="481.60" x2="511.46" y2="484.40" stroke="#000" stroke-width="1.25" />
<line x1="527.38" y1="369.00" x2="527.38" y2="366.20" stroke="#000" stroke-width="1.25" />
<line x1="527.38" y1="481.60" x2="527.38" y2="484.40" stroke="#000" stroke-width="1.25" />
<line x1="543.31" y1="369.00" x2="543.31" y2="366.20" stroke="#000" stroke-width="1.25" />
<line x1="543.31" y1="481.60" x2="543.31" y2="484.40" stroke="#000" stroke-width="1.25" />
<line x1="559.23" y1="369.00" x2="559.23" y2="366.20" stroke="#000" stroke-width="1.25" />
<line x1="559.23" y1="481.60" x2="559.23" y2="484.40" stroke="#000" stroke-width="1.25" />
<line x1="575.15" y1="369.00" x2="575.15" y2="366.20" stroke="#000" stroke-width="1.25" />
<line x1="575.15" y1="481.60" x2="575.15" y2="484.40" stroke="#000" stroke-width="1.25" />
<line x1="591.08" y1="369.00" x2="591.08" y2="366.20" stroke="#000" stroke-width="1.25" />
<line x1="591.08" y1="481.60" x2="591.08" y2="484.40" stroke="#000" stroke-width="1.25" />
<line x1="607.00" y1="369.00" x2="607.00" y2="364.00" stroke="#000" stroke-width="1.25" />
<line x1="607.00" y1="481.60" x2="607.00" y2="486.60" stroke="#000" stroke-width="1.25" />
<polyline points="129.30,239.10 267.50,238.90 273.80,156.30 279.50,238.90 285.20,175.30 290.90,225.60 296.60,225.60 302.60,233.20 308.30,232.80 315.00,236.00 320.70,238.50 326.40,237.90 332.00,237.90 337.70,234.70 343.40,236.00 349.70,237.00 355.40,238.50 361.50,238.50 372.00,238.80 378.00,238.80 383.70,234.10 390.40,236.60 396.00,235.60 401.80,237.30 407.50,237.90 414.10,236.60 420.00,237.50 425.50,238.80 431.20,236.60 436.90,238.80 442.60,237.50 448.30,237.90 454.90,236.00 463.40,235.40 466.30,235.00 472.00,226.50 478.60,236.00 483.40,237.90 489.50,236.00 495.20,231.20 500.90,238.50 518.00,237.00 525.50,238.50 535.00,238.20 548.30,236.60 560.00,237.50 565.50,238.50 575.00,237.50 582.50,237.50 589.00,238.80 594.00,239.20 607.00,239.20" fill="none" stroke="#000" stroke-width="1.5" stroke-linejoin="round" />
<polyline points="129.30,239.20 249.90,238.90 256.10,140.20 262.40,147.80 268.10,232.80 273.20,238.90 278.90,238.90 285.20,234.70 290.90,237.00 296.60,232.20 302.60,238.90 315.00,238.90 320.70,230.90 326.40,236.60 332.00,238.50 337.70,236.00 343.40,233.20 349.70,238.90 355.40,235.10 361.50,238.50 372.30,236.90 378.40,228.40 384.70,237.90 390.40,238.80 401.80,238.80 407.40,235.00 415.00,238.50 425.50,239.20 431.20,236.00 436.90,226.50 442.60,239.20 506.00,239.20 512.00,238.00 518.00,239.20 529.00,239.20 535.00,238.20 541.00,239.20 583.40,238.80 588.60,199.00 594.40,239.20 607.00,239.20" fill="none" stroke="#ffa500" stroke-width="1.7" stroke-linejoin="round" />
<line x1="260.50" y1="5.20" x2="260.50" y2="481.60" stroke="#ff4646" stroke-width="1.15" />
<line x1="267.60" y1="5.20" x2="267.60" y2="481.60" stroke="#ff7878" stroke-width="1.15" />
<line x1="129.30" y1="17.71" x2="124.30" y2="17.71" stroke="#000" stroke-width="1.25" />
<line x1="607.00" y1="17.71" x2="612.00" y2="17.71" stroke="#000" stroke-width="1.25" />
<line x1="129.30" y1="42.73" x2="126.30" y2="42.73" stroke="#000" stroke-width="1.25" />
<line x1="607.00" y1="42.73" x2="610.00" y2="42.73" stroke="#000" stroke-width="1.25" />
<line x1="129.30" y1="67.76" x2="124.30" y2="67.76" stroke="#000" stroke-width="1.25" />
<line x1="607.00" y1="67.76" x2="612.00" y2="67.76" stroke="#000" stroke-width="1.25" />
<line x1="129.30" y1="92.78" x2="126.30" y2="92.78" stroke="#000" stroke-width="1.25" />
<line x1="607.00" y1="92.78" x2="610.00" y2="92.78" stroke="#000" stroke-width="1.25" />
<line x1="129.30" y1="117.80" x2="124.30" y2="117.80" stroke="#000" stroke-width="1.25" />
<line x1="607.00" y1="117.80" x2="612.00" y2="117.80" stroke="#000" stroke-width="1.25" />
<line x1="129.30" y1="126.40" x2="126.30" y2="126.40" stroke="#000" stroke-width="1.25" />
<line x1="607.00" y1="126.40" x2="610.00" y2="126.40" stroke="#000" stroke-width="1.25" />
<line x1="129.30" y1="148.92" x2="124.30" y2="148.92" stroke="#000" stroke-width="1.25" />
<line x1="607.00" y1="148.92" x2="612.00" y2="148.92" stroke="#000" stroke-width="1.25" />
<line x1="129.30" y1="171.44" x2="126.30" y2="171.44" stroke="#000" stroke-width="1.25" />
<line x1="607.00" y1="171.44" x2="610.00" y2="171.44" stroke="#000" stroke-width="1.25" />
<line x1="129.30" y1="193.96" x2="124.30" y2="193.96" stroke="#000" stroke-width="1.25" />
<line x1="607.00" y1="193.96" x2="612.00" y2="193.96" stroke="#000" stroke-width="1.25" />
<line x1="129.30" y1="216.48" x2="126.30" y2="216.48" stroke="#000" stroke-width="1.25" />
<line x1="607.00" y1="216.48" x2="610.00" y2="216.48" stroke="#000" stroke-width="1.25" />
<line x1="129.30" y1="239.00" x2="124.30" y2="239.00" stroke="#000" stroke-width="1.25" />
<line x1="607.00" y1="239.00" x2="612.00" y2="239.00" stroke="#000" stroke-width="1.25" />
<line x1="129.30" y1="247.70" x2="124.30" y2="247.70" stroke="#000" stroke-width="1.25" />
<line x1="607.00" y1="247.70" x2="612.00" y2="247.70" stroke="#000" stroke-width="1.25" />
<line x1="129.30" y1="266.47" x2="126.30" y2="266.47" stroke="#000" stroke-width="1.25" />
<line x1="607.00" y1="266.47" x2="610.00" y2="266.47" stroke="#000" stroke-width="1.25" />
<line x1="129.30" y1="285.23" x2="126.30" y2="285.23" stroke="#000" stroke-width="1.25" />
<line x1="607.00" y1="285.23" x2="610.00" y2="285.23" stroke="#000" stroke-width="1.25" />
<line x1="129.30" y1="304.00" x2="124.30" y2="304.00" stroke="#000" stroke-width="1.25" />
<line x1="607.00" y1="304.00" x2="612.00" y2="304.00" stroke="#000" stroke-width="1.25" />
<line x1="129.30" y1="322.77" x2="126.30" y2="322.77" stroke="#000" stroke-width="1.25" />
<line x1="607.00" y1="322.77" x2="610.00" y2="322.77" stroke="#000" stroke-width="1.25" />
<line x1="129.30" y1="341.53" x2="126.30" y2="341.53" stroke="#000" stroke-width="1.25" />
<line x1="607.00" y1="341.53" x2="610.00" y2="341.53" stroke="#000" stroke-width="1.25" />
<line x1="129.30" y1="360.30" x2="124.30" y2="360.30" stroke="#000" stroke-width="1.25" />
<line x1="607.00" y1="360.30" x2="612.00" y2="360.30" stroke="#000" stroke-width="1.25" />
<line x1="129.30" y1="472.68" x2="126.80" y2="472.68" stroke="#000" stroke-width="1.25" />
<line x1="607.00" y1="472.68" x2="609.50" y2="472.68" stroke="#000" stroke-width="1.25" />
<line x1="129.30" y1="467.32" x2="126.80" y2="467.32" stroke="#000" stroke-width="1.25" />
<line x1="607.00" y1="467.32" x2="609.50" y2="467.32" stroke="#000" stroke-width="1.25" />
<line x1="129.30" y1="463.52" x2="126.80" y2="463.52" stroke="#000" stroke-width="1.25" />
<line x1="607.00" y1="463.52" x2="609.50" y2="463.52" stroke="#000" stroke-width="1.25" />
<line x1="129.30" y1="460.57" x2="126.80" y2="460.57" stroke="#000" stroke-width="1.25" />
<line x1="607.00" y1="460.57" x2="609.50" y2="460.57" stroke="#000" stroke-width="1.25" />
<line x1="129.30" y1="458.16" x2="126.80" y2="458.16" stroke="#000" stroke-width="1.25" />
<line x1="607.00" y1="458.16" x2="609.50" y2="458.16" stroke="#000" stroke-width="1.25" />
<line x1="129.30" y1="456.12" x2="126.80" y2="456.12" stroke="#000" stroke-width="1.25" />
<line x1="607.00" y1="456.12" x2="609.50" y2="456.12" stroke="#000" stroke-width="1.25" />
<line x1="129.30" y1="454.35" x2="126.80" y2="454.35" stroke="#000" stroke-width="1.25" />
<line x1="607.00" y1="454.35" x2="609.50" y2="454.35" stroke="#000" stroke-width="1.25" />
<line x1="129.30" y1="452.79" x2="126.80" y2="452.79" stroke="#000" stroke-width="1.25" />
<line x1="607.00" y1="452.79" x2="609.50" y2="452.79" stroke="#000" stroke-width="1.25" />
<line x1="129.30" y1="451.40" x2="124.30" y2="451.40" stroke="#000" stroke-width="1.25" />
<line x1="607.00" y1="451.40" x2="612.00" y2="451.40" stroke="#000" stroke-width="1.25" />
<line x1="129.30" y1="442.23" x2="126.80" y2="442.23" stroke="#000" stroke-width="1.25" />
<line x1="607.00" y1="442.23" x2="609.50" y2="442.23" stroke="#000" stroke-width="1.25" />
<line x1="129.30" y1="436.87" x2="126.80" y2="436.87" stroke="#000" stroke-width="1.25" />
<line x1="607.00" y1="436.87" x2="609.50" y2="436.87" stroke="#000" stroke-width="1.25" />
<line x1="129.30" y1="433.07" x2="126.80" y2="433.07" stroke="#000" stroke-width="1.25" />
<line x1="607.00" y1="433.07" x2="609.50" y2="433.07" stroke="#000" stroke-width="1.25" />
<line x1="129.30" y1="430.12" x2="126.80" y2="430.12" stroke="#000" stroke-width="1.25" />
<line x1="607.00" y1="430.12" x2="609.50" y2="430.12" stroke="#000" stroke-width="1.25" />
<line x1="129.30" y1="427.71" x2="126.80" y2="427.71" stroke="#000" stroke-width="1.25" />
<line x1="607.00" y1="427.71" x2="609.50" y2="427.71" stroke="#000" stroke-width="1.25" />
<line x1="129.30" y1="425.67" x2="126.80" y2="425.67" stroke="#000" stroke-width="1.25" />
<line x1="607.00" y1="425.67" x2="609.50" y2="425.67" stroke="#000" stroke-width="1.25" />
<line x1="129.30" y1="423.90" x2="126.80" y2="423.90" stroke="#000" stroke-width="1.25" />
<line x1="607.00" y1="423.90" x2="609.50" y2="423.90" stroke="#000" stroke-width="1.25" />
<line x1="129.30" y1="422.34" x2="126.80" y2="422.34" stroke="#000" stroke-width="1.25" />
<line x1="607.00" y1="422.34" x2="609.50" y2="422.34" stroke="#000" stroke-width="1.25" />
<line x1="129.30" y1="420.95" x2="124.30" y2="420.95" stroke="#000" stroke-width="1.25" />
<line x1="607.00" y1="420.95" x2="612.00" y2="420.95" stroke="#000" stroke-width="1.25" />
<line x1="129.30" y1="411.78" x2="126.80" y2="411.78" stroke="#000" stroke-width="1.25" />
<line x1="607.00" y1="411.78" x2="609.50" y2="411.78" stroke="#000" stroke-width="1.25" />
<line x1="129.30" y1="406.42" x2="126.80" y2="406.42" stroke="#000" stroke-width="1.25" />
<line x1="607.00" y1="406.42" x2="609.50" y2="406.42" stroke="#000" stroke-width="1.25" />
<line x1="129.30" y1="402.62" x2="126.80" y2="402.62" stroke="#000" stroke-width="1.25" />
<line x1="607.00" y1="402.62" x2="609.50" y2="402.62" stroke="#000" stroke-width="1.25" />
<line x1="129.30" y1="399.67" x2="126.80" y2="399.67" stroke="#000" stroke-width="1.25" />
<line x1="607.00" y1="399.67" x2="609.50" y2="399.67" stroke="#000" stroke-width="1.25" />
<line x1="129.30" y1="397.26" x2="126.80" y2="397.26" stroke="#000" stroke-width="1.25" />
<line x1="607.00" y1="397.26" x2="609.50" y2="397.26" stroke="#000" stroke-width="1.25" />
<line x1="129.30" y1="395.22" x2="126.80" y2="395.22" stroke="#000" stroke-width="1.25" />
<line x1="607.00" y1="395.22" x2="609.50" y2="395.22" stroke="#000" stroke-width="1.25" />
<line x1="129.30" y1="393.45" x2="126.80" y2="393.45" stroke="#000" stroke-width="1.25" />
<line x1="607.00" y1="393.45" x2="609.50" y2="393.45" stroke="#000" stroke-width="1.25" />
<line x1="129.30" y1="391.89" x2="126.80" y2="391.89" stroke="#000" stroke-width="1.25" />
<line x1="607.00" y1="391.89" x2="609.50" y2="391.89" stroke="#000" stroke-width="1.25" />
<line x1="129.30" y1="390.50" x2="124.30" y2="390.50" stroke="#000" stroke-width="1.25" />
<line x1="607.00" y1="390.50" x2="612.00" y2="390.50" stroke="#000" stroke-width="1.25" />
<line x1="129.30" y1="381.33" x2="126.80" y2="381.33" stroke="#000" stroke-width="1.25" />
<line x1="607.00" y1="381.33" x2="609.50" y2="381.33" stroke="#000" stroke-width="1.25" />
<line x1="129.30" y1="375.97" x2="126.80" y2="375.97" stroke="#000" stroke-width="1.25" />
<line x1="607.00" y1="375.97" x2="609.50" y2="375.97" stroke="#000" stroke-width="1.25" />
<line x1="129.30" y1="372.17" x2="126.80" y2="372.17" stroke="#000" stroke-width="1.25" />
<line x1="607.00" y1="372.17" x2="609.50" y2="372.17" stroke="#000" stroke-width="1.25" />
<line x1="129.30" y1="369.22" x2="126.80" y2="369.22" stroke="#000" stroke-width="1.25" />
<line x1="607.00" y1="369.22" x2="609.50" y2="369.22" stroke="#000" stroke-width="1.25" />
<text x="117.90" y="26.20" font-size="17.9" text-anchor="end" fill="#000" >20</text>
<text x="117.90" y="76.40" font-size="17.9" text-anchor="end" fill="#000" >-20</text>
<text x="117.90" y="117.60" font-size="17.9" text-anchor="end" fill="#000" >-60</text>
<text x="117.90" y="157.70" font-size="17.9" text-anchor="end" fill="#000" >40</text>
<text x="117.90" y="202.80" font-size="17.9" text-anchor="end" fill="#000" >20</text>
<text x="117.90" y="239.10" font-size="17.9" text-anchor="end" fill="#000" >0</text>
<text x="117.90" y="262.70" font-size="17.9" text-anchor="end" fill="#000" >180</text>
<text x="117.90" y="313.10" font-size="17.9" text-anchor="end" fill="#000" >90</text>
<text x="117.90" y="360.60" font-size="17.9" text-anchor="end" fill="#000" >0</text>
<text x="91.4" y="399.1" font-size="17.9">10<tspan font-size="10.7" dy="-10.3">4</tspan></text>
<text x="91.4" y="429.3" font-size="17.9">10<tspan font-size="10.7" dy="-10.3">3</tspan></text>
<text x="91.4" y="460.2" font-size="17.9">10<tspan font-size="10.7" dy="-10.3">2</tspan></text>
<text x="0.00" y="20.40" font-size="17.9" text-anchor="start" fill="#000" >a. S</text>
<text x="0" y="141.6" font-size="17.9">b. F<tspan font-size="11.5" dy="5.2" dx="-1">O</tspan></text>
<text x="0.00" y="263.10" font-size="17.9" text-anchor="start" fill="#000" >c. O+ PA</text>
<text x="0.00" y="384.10" font-size="17.9" text-anchor="start" fill="#000" >d. O+ EN</text>
<text transform="translate(72.80,61.30) rotate(-90)" font-size="17.9" text-anchor="middle">(mW/m<tspan font-size="11.3" dy="-10">2</tspan><tspan dy="10">)</tspan></text>
<text transform="translate(79.10,182.50) rotate(-90)" font-size="17.9" text-anchor="middle">(mW/m<tspan font-size="11.3" dy="-10">2</tspan><tspan dy="10">)</tspan></text>
<text transform="translate(47.20,303.50) rotate(-90)" font-size="17.9" text-anchor="middle">PA</text>
<text transform="translate(68.30,304.00) rotate(-90)" font-size="17.9" text-anchor="middle">(deg)</text>
<text transform="translate(50.90,424.90) rotate(-90)" font-size="17.9" text-anchor="middle">Energy</text>
<text transform="translate(72.70,425.30) rotate(-90)" font-size="17.9" text-anchor="middle">(eV)</text>
<text x="616.0" y="23.6" font-size="17.9" fill="#ff0000">S</text>
<line x1="629.40" y1="29.30" x2="634.80" y2="29.30" stroke="#ff0000" stroke-width="1.0" />
<line x1="632.10" y1="29.30" x2="632.10" y2="25.00" stroke="#ff0000" stroke-width="1.0" />
<text x="635.6" y="29.3" font-size="11.2" fill="#ff0000">,north</text>
<text x="616.0" y="61.4" font-size="17.9" fill="#1e8c1e">S</text>
<line x1="629.40" y1="66.90" x2="634.80" y2="66.90" stroke="#1e8c1e" stroke-width="1.0" />
<line x1="632.10" y1="66.90" x2="632.10" y2="62.60" stroke="#1e8c1e" stroke-width="1.0" />
<text x="635.6" y="66.9" font-size="11.2" fill="#1e8c1e">,west</text>
<text x="616.0" y="99.0" font-size="17.9" fill="#0000ff">S</text>
<line x1="629.50" y1="95.60" x2="629.50" y2="106.90" stroke="#0000ff" stroke-width="1.2" />
<line x1="632.60" y1="95.60" x2="632.60" y2="106.90" stroke="#0000ff" stroke-width="1.2" />
<text x="616.00" y="154.80" font-size="17.9" text-anchor="start" fill="#000" >O+ eflux</text>
<text x="616.00" y="210.60" font-size="17.9" text-anchor="start" fill="#ffa500" >Traced</text>
<defs><linearGradient id="g247" x1="0" y1="0" x2="0" y2="1"><stop offset="0.0000" stop-color="#081d58"/><stop offset="0.1250" stop-color="#253494"/><stop offset="0.2500" stop-color="#225ea8"/><stop offset="0.3750" stop-color="#1d91c0"/><stop offset="0.5000" stop-color="#41b6c4"/><stop offset="0.6250" stop-color="#7fcdbb"/><stop offset="0.7500" stop-color="#c7e9b4"/><stop offset="0.8750" stop-color="#edf8b1"/><stop offset="1.0000" stop-color="#fbfbd4"/></linearGradient></defs>
<rect x="618.0" y="247.1" width="12.6" height="113.60" fill="url(#g247)" stroke="#000" stroke-width="1.2"/>
<defs><linearGradient id="g369" x1="0" y1="0" x2="0" y2="1"><stop offset="0.0000" stop-color="#081d58"/><stop offset="0.1250" stop-color="#253494"/><stop offset="0.2500" stop-color="#225ea8"/><stop offset="0.3750" stop-color="#1d91c0"/><stop offset="0.5000" stop-color="#41b6c4"/><stop offset="0.6250" stop-color="#7fcdbb"/><stop offset="0.7500" stop-color="#c7e9b4"/><stop offset="0.8750" stop-color="#edf8b1"/><stop offset="1.0000" stop-color="#fbfbd4"/></linearGradient></defs>
<rect x="618.0" y="369.2" width="12.6" height="112.80" fill="url(#g369)" stroke="#000" stroke-width="1.2"/>
<line x1="630.60" y1="482.00" x2="627.60" y2="482.00" stroke="#000" stroke-width="1.0" />
<line x1="630.60" y1="470.68" x2="629.10" y2="470.68" stroke="#000" stroke-width="1.0" />
<line x1="630.60" y1="464.06" x2="629.10" y2="464.06" stroke="#000" stroke-width="1.0" />
<line x1="630.60" y1="459.36" x2="629.10" y2="459.36" stroke="#000" stroke-width="1.0" />
<line x1="630.60" y1="455.72" x2="629.10" y2="455.72" stroke="#000" stroke-width="1.0" />
<line x1="630.60" y1="452.74" x2="629.10" y2="452.74" stroke="#000" stroke-width="1.0" />
<line x1="630.60" y1="450.22" x2="629.10" y2="450.22" stroke="#000" stroke-width="1.0" />
<line x1="630.60" y1="448.04" x2="629.10" y2="448.04" stroke="#000" stroke-width="1.0" />
<line x1="630.60" y1="446.12" x2="629.10" y2="446.12" stroke="#000" stroke-width="1.0" />
<line x1="630.60" y1="444.40" x2="627.60" y2="444.40" stroke="#000" stroke-width="1.0" />
<line x1="630.60" y1="433.08" x2="629.10" y2="433.08" stroke="#000" stroke-width="1.0" />
<line x1="630.60" y1="426.46" x2="629.10" y2="426.46" stroke="#000" stroke-width="1.0" />
<line x1="630.60" y1="421.76" x2="629.10" y2="421.76" stroke="#000" stroke-width="1.0" />
<line x1="630.60" y1="418.12" x2="629.10" y2="418.12" stroke="#000" stroke-width="1.0" />
<line x1="630.60" y1="415.14" x2="629.10" y2="415.14" stroke="#000" stroke-width="1.0" />
<line x1="630.60" y1="412.62" x2="629.10" y2="412.62" stroke="#000" stroke-width="1.0" />
<line x1="630.60" y1="410.44" x2="629.10" y2="410.44" stroke="#000" stroke-width="1.0" />
<line x1="630.60" y1="408.52" x2="629.10" y2="408.52" stroke="#000" stroke-width="1.0" />
<line x1="630.60" y1="406.80" x2="627.60" y2="406.80" stroke="#000" stroke-width="1.0" />
<line x1="630.60" y1="395.48" x2="629.10" y2="395.48" stroke="#000" stroke-width="1.0" />
<line x1="630.60" y1="388.86" x2="629.10" y2="388.86" stroke="#000" stroke-width="1.0" />
<line x1="630.60" y1="384.16" x2="629.10" y2="384.16" stroke="#000" stroke-width="1.0" />
<line x1="630.60" y1="380.52" x2="629.10" y2="380.52" stroke="#000" stroke-width="1.0" />
<line x1="630.60" y1="377.54" x2="629.10" y2="377.54" stroke="#000" stroke-width="1.0" />
<line x1="630.60" y1="375.02" x2="629.10" y2="375.02" stroke="#000" stroke-width="1.0" />
<line x1="630.60" y1="372.84" x2="629.10" y2="372.84" stroke="#000" stroke-width="1.0" />
<line x1="630.60" y1="370.92" x2="629.10" y2="370.92" stroke="#000" stroke-width="1.0" />
<text x="635.6" y="261.6" font-size="16.2">10<tspan font-size="10" dy="-9.6">6</tspan></text>
<text x="635.6" y="293.0" font-size="16.2">10<tspan font-size="10" dy="-9.6">5</tspan></text>
<text x="635.6" y="331.1" font-size="16.2">10<tspan font-size="10" dy="-9.6">4</tspan></text>
<text x="635.6" y="359.6" font-size="16.2">10<tspan font-size="10" dy="-9.6">3</tspan></text>
<text x="638.2" y="383.1" font-size="16.2">10<tspan font-size="10" dy="-9.6">6</tspan></text>
<text x="638.2" y="414.4" font-size="16.2">10<tspan font-size="10" dy="-9.6">5</tspan></text>
<text x="638.2" y="451.8" font-size="16.2">10<tspan font-size="10" dy="-9.6">4</tspan></text>
<text transform="translate(679.40,303.80) rotate(-90)" font-size="15.75" text-anchor="middle">(#/cm<tspan font-size="10.5" dy="-9.5">2</tspan><tspan dy="9.5">-s-sr-keV)</tspan></text>
<text transform="translate(682.30,424.90) rotate(-90)" font-size="15.75" text-anchor="middle">(#/cm<tspan font-size="10.5" dy="-9.5">2</tspan><tspan dy="9.5">-s-sr-keV)</tspan></text>
<text x="135.60" y="475.90" font-size="14.3" text-anchor="start" fill="#000" >PA [0,45] deg</text>
<text x="-0.60" y="519.70" font-size="17.9" text-anchor="start" fill="#000" >Time</text>
<text x="81.50" y="519.70" font-size="17.9" text-anchor="start" fill="#000" >2015 Apr 16</text>
<text x="208.92" y="519.70" font-size="17.9" text-anchor="middle" fill="#000" >08:05</text>
<text x="288.53" y="519.70" font-size="17.9" text-anchor="middle" fill="#000" >08:10</text>
<text x="368.15" y="519.70" font-size="17.9" text-anchor="middle" fill="#000" >08:15</text>
<text x="447.77" y="519.70" font-size="17.9" text-anchor="middle" fill="#000" >08:20</text>
<text x="527.38" y="519.70" font-size="17.9" text-anchor="middle" fill="#000" >08:25</text>
<text x="607.00" y="519.70" font-size="17.9" text-anchor="middle" fill="#000" >08:30</text>
<text x="645.50" y="519.70" font-size="17.9" text-anchor="start" fill="#000" >UT</text>
<line x1="129.30" y1="624.60" x2="400.60" y2="624.60" stroke="#000" stroke-width="1.5" stroke-dasharray="2.2 4.8"/>
<path d="M255.00,659.30 L255.29,657.49 L255.59,655.68 L255.88,653.88 L256.17,652.07 L256.47,650.26 L256.76,648.45 L257.05,646.64 L257.35,644.84 L257.64,643.03 L257.93,641.22 L258.23,639.41 L258.52,637.60 L258.81,635.80 L259.11,633.99 L259.40,632.18 L259.69,630.37 L259.99,628.56 L260.28,626.76 L260.57,624.95 L260.85,623.14 L261.12,621.33 L261.39,619.52 L261.67,617.72 L261.94,615.91 L262.22,614.10 L262.49,612.29 L262.77,610.48 L263.05,608.68 L263.32,606.87 L263.61,605.06 L263.89,603.25 L264.18,601.44 L264.47,599.64 L264.76,597.83 L265.06,596.02 L265.36,594.21 L265.67,592.40 L265.98,590.60 L266.29,588.79 L266.62,586.98 L266.95,585.17 L267.28,583.36 L267.62,581.56 L267.97,579.75 L268.33,577.94 L268.70,576.13 L269.07,574.32 L269.45,572.52 L269.85,570.71 L270.25,568.90 L270.66,567.09 L271.08,565.28 L271.51,563.48 L271.95,561.67 L272.41,559.86 L272.87,558.05 L273.35,556.24 L273.84,554.44 L274.34,552.63" fill="none" stroke="#ffa500" stroke-width="1.7" stroke-linejoin="round"/>
<path d="M255.50,659.30 L256.03,657.49 L256.57,655.68 L257.10,653.88 L257.63,652.07 L258.17,650.26 L258.70,648.45 L259.23,646.64 L259.77,644.84 L260.30,643.03 L260.83,641.22 L261.37,639.41 L261.90,637.60 L262.43,635.80 L262.97,633.99 L263.50,632.18 L264.03,630.37 L264.57,628.56 L265.10,626.76 L265.60,624.95 L266.02,623.14 L266.44,621.33 L266.85,619.52 L267.27,617.72 L267.68,615.91 L268.10,614.10 L268.51,612.29 L268.93,610.48 L269.35,608.68 L269.77,606.87 L270.20,605.06 L270.63,603.25 L271.06,601.44 L271.50,599.64 L271.94,597.83 L272.39,596.02 L272.84,594.21 L273.30,592.40 L273.77,590.60 L274.24,588.79 L274.73,586.98 L275.22,585.17 L275.72,583.36 L276.23,581.56 L276.75,579.75 L277.28,577.94 L277.82,576.13 L278.38,574.32 L278.94,572.52 L279.52,570.71 L280.12,568.90 L280.72,567.09 L281.34,565.28 L281.98,563.48 L282.63,561.67 L283.29,559.86 L283.98,558.05 L284.68,556.24 L285.39,554.44 L286.13,552.63" fill="none" stroke="#ffa500" stroke-width="1.7" stroke-linejoin="round"/>
<path d="M253.50,659.30 L254.25,657.49 L254.99,655.68 L255.74,653.88 L256.49,652.07 L257.23,650.26 L257.98,648.45 L258.73,646.64 L259.47,644.84 L260.22,643.03 L260.97,641.22 L261.71,639.41 L262.46,637.60 L263.21,635.80 L263.95,633.99 L264.70,632.18 L265.45,630.37 L266.19,628.56 L266.94,626.76 L267.62,624.95 L268.12,623.14 L268.61,621.33 L269.10,619.52 L269.59,617.72 L270.08,615.91 L270.57,614.10 L271.06,612.29 L271.55,610.48 L272.05,608.68 L272.55,606.87 L273.05,605.06 L273.55,603.25 L274.07,601.44 L274.58,599.64 L275.10,597.83 L275.63,596.02 L276.17,594.21 L276.71,592.40 L277.26,590.60 L277.83,588.79 L278.40,586.98 L278.98,585.17 L279.57,583.36 L280.17,581.56 L280.79,579.75 L281.41,577.94 L282.05,576.13 L282.71,574.32 L283.38,572.52 L284.06,570.71 L284.76,568.90 L285.48,567.09 L286.21,565.28 L286.96,563.48 L287.73,561.67 L288.51,559.86 L289.32,558.05 L290.15,556.24 L290.99,554.44 L291.86,552.63" fill="none" stroke="#ffa500" stroke-width="1.7" stroke-linejoin="round"/>
<path d="M252.50,659.30 L253.38,657.49 L254.26,655.68 L255.14,653.88 L256.02,652.07 L256.90,650.26 L257.78,648.45 L258.66,646.64 L259.54,644.84 L260.42,643.03 L261.30,641.22 L262.18,639.41 L263.06,637.60 L263.94,635.80 L264.82,633.99 L265.70,632.18 L266.58,630.37 L267.46,628.56 L268.34,626.76 L269.15,624.95 L269.74,623.14 L270.33,621.33 L270.91,619.52 L271.50,617.72 L272.08,615.91 L272.67,614.10 L273.26,612.29 L273.85,610.48 L274.44,608.68 L275.04,606.87 L275.64,605.06 L276.24,603.25 L276.85,601.44 L277.46,599.64 L278.08,597.83 L278.71,596.02 L279.35,594.21 L280.00,592.40 L280.65,590.60 L281.31,588.79 L281.99,586.98 L282.67,585.17 L283.37,583.36 L284.08,581.56 L284.81,579.75 L285.54,577.94 L286.30,576.13 L287.06,574.32 L287.85,572.52 L288.64,570.71 L289.46,568.90 L290.30,567.09 L291.15,565.28 L292.02,563.48 L292.91,561.67 L293.82,559.86 L294.76,558.05 L295.71,556.24 L296.69,554.44 L297.69,552.63" fill="none" stroke="#ffa500" stroke-width="1.7" stroke-linejoin="round"/>
<path d="M251.00,659.30 L252.01,657.49 L253.03,655.68 L254.04,653.88 L255.05,652.07 L256.07,650.26 L257.08,648.45 L258.09,646.64 L259.11,644.84 L260.12,643.03 L261.13,641.22 L262.15,639.41 L263.16,637.60 L264.17,635.80 L265.19,633.99 L266.20,632.18 L267.21,630.37 L268.23,628.56 L269.24,626.76 L270.17,624.95 L270.86,623.14 L271.55,621.33 L272.23,619.52 L272.92,617.72 L273.60,615.91 L274.29,614.10 L274.97,612.29 L275.66,610.48 L276.35,608.68 L277.05,606.87 L277.75,605.06 L278.45,603.25 L279.17,601.44 L279.88,599.64 L280.61,597.83 L281.34,596.02 L282.09,594.21 L282.84,592.40 L283.60,590.60 L284.38,588.79 L285.17,586.98 L285.97,585.17 L286.78,583.36 L287.61,581.56 L288.46,579.75 L289.32,577.94 L290.20,576.13 L291.09,574.32 L292.01,572.52 L292.94,570.71 L293.89,568.90 L294.87,567.09 L295.87,565.28 L296.88,563.48 L297.92,561.67 L298.99,559.86 L300.08,558.05 L301.20,556.24 L302.34,554.44 L303.51,552.63" fill="none" stroke="#ffa500" stroke-width="1.7" stroke-linejoin="round"/>
<path d="M244.50,659.30 L245.78,657.49 L247.06,655.68 L248.34,653.88 L249.62,652.07 L250.90,650.26 L252.18,648.45 L253.46,646.64 L254.74,644.84 L256.02,643.03 L257.30,641.22 L258.58,639.41 L259.86,637.60 L261.14,635.80 L262.42,633.99 L263.70,632.18 L264.98,630.37 L266.26,628.56 L267.54,626.76 L268.72,624.95 L269.59,623.14 L270.45,621.33 L271.32,619.52 L272.18,617.72 L273.04,615.91 L273.91,614.10 L274.77,612.29 L275.64,610.48 L276.51,608.68 L277.39,606.87 L278.27,605.06 L279.15,603.25 L280.04,601.44 L280.94,599.64 L281.85,597.83 L282.77,596.02 L283.69,594.21 L284.63,592.40 L285.57,590.60 L286.53,588.79 L287.51,586.98 L288.49,585.17 L289.49,583.36 L290.51,581.56 L291.54,579.75 L292.59,577.94 L293.65,576.13 L294.74,574.32 L295.84,572.52 L296.97,570.71 L298.11,568.90 L299.28,567.09 L300.47,565.28 L301.69,563.48 L302.92,561.67 L304.19,559.86 L305.47,558.05 L306.79,556.24 L308.13,554.44 L309.50,552.63" fill="none" stroke="#ffa500" stroke-width="1.7" stroke-linejoin="round"/>
<path d="M238.50,659.30 L239.97,657.49 L241.43,655.68 L242.90,653.88 L244.37,652.07 L245.83,650.26 L247.30,648.45 L248.77,646.64 L250.23,644.84 L251.70,643.03 L253.17,641.22 L254.63,639.41 L256.10,637.60 L257.57,635.80 L259.03,633.99 L260.50,632.18 L261.97,630.37 L263.43,628.56 L264.90,626.76 L266.27,624.95 L267.34,623.14 L268.41,621.33 L269.48,619.52 L270.54,617.72 L271.61,615.91 L272.67,614.10 L273.74,612.29 L274.81,610.48 L275.89,608.68 L276.97,606.87 L278.05,605.06 L279.14,603.25 L280.24,601.44 L281.34,599.64 L282.46,597.83 L283.58,596.02 L284.72,594.21 L285.87,592.40 L287.03,590.60 L288.20,588.79 L289.39,586.98 L290.59,585.17 L291.81,583.36 L293.04,581.56 L294.30,579.75 L295.57,577.94 L296.86,576.13 L298.17,574.32 L299.51,572.52 L300.87,570.71 L302.25,568.90 L303.65,567.09 L305.08,565.28 L306.54,563.48 L308.02,561.67 L309.53,559.86 L311.07,558.05 L312.64,556.24 L314.24,554.44 L315.87,552.63" fill="none" stroke="#ffa500" stroke-width="1.7" stroke-linejoin="round"/>
<path d="M250.00,659.30 L251.07,657.49 L252.13,655.68 L253.20,653.88 L254.27,652.07 L255.33,650.26 L256.40,648.45 L257.47,646.64 L258.53,644.84 L259.60,643.03 L260.67,641.22 L261.73,639.41 L262.80,637.60 L263.87,635.80 L264.93,633.99 L266.00,632.18 L267.07,630.37 L268.13,628.56 L269.20,626.76 L270.28,624.95 L271.40,623.14 L272.51,621.33 L273.62,619.52 L274.73,617.72 L275.84,615.91 L276.95,614.10 L278.06,612.29 L279.18,610.48 L280.30,608.68 L281.42,606.87 L282.55,605.06 L283.69,603.25 L284.83,601.44 L285.98,599.64 L287.14,597.83 L288.31,596.02 L289.49,594.21 L290.69,592.40 L291.90,590.60 L293.12,588.79 L294.35,586.98 L295.61,585.17 L296.88,583.36 L298.16,581.56 L299.47,579.75 L300.79,577.94 L302.14,576.13 L303.51,574.32 L304.90,572.52 L306.31,570.71 L307.75,568.90 L309.21,567.09 L310.70,565.28 L312.22,563.48 L313.76,561.67 L315.33,559.86 L316.94,558.05 L318.57,556.24 L320.24,554.44 L321.94,552.63" fill="none" stroke="#ffa500" stroke-width="1.7" stroke-linejoin="round"/>
<path d="M236.50,659.30 L237.99,657.49 L239.49,655.68 L240.98,653.88 L242.47,652.07 L243.97,650.26 L245.46,648.45 L246.95,646.64 L248.45,644.84 L249.94,643.03 L251.43,641.22 L252.93,639.41 L254.42,637.60 L255.91,635.80 L257.41,633.99 L258.90,632.18 L260.39,630.37 L261.89,628.56 L263.38,626.76 L264.84,624.95 L266.21,623.14 L267.57,621.33 L268.93,619.52 L270.29,617.72 L271.65,615.91 L273.01,614.10 L274.37,612.29 L275.74,610.48 L277.11,608.68 L278.48,606.87 L279.86,605.06 L281.25,603.25 L282.65,601.44 L284.05,599.64 L285.47,597.83 L286.89,596.02 L288.33,594.21 L289.78,592.40 L291.25,590.60 L292.73,588.79 L294.23,586.98 L295.75,585.17 L297.28,583.36 L298.83,581.56 L300.41,579.75 L302.00,577.94 L303.62,576.13 L305.26,574.32 L306.93,572.52 L308.62,570.71 L310.34,568.90 L312.09,567.09 L313.86,565.28 L315.67,563.48 L317.50,561.67 L319.37,559.86 L321.27,558.05 L323.21,556.24 L325.18,554.44 L327.18,552.63" fill="none" stroke="#ffa500" stroke-width="1.7" stroke-linejoin="round"/>
<path d="M236.10,659.30 L237.49,657.49 L238.87,655.68 L240.26,653.88 L241.65,652.07 L243.03,650.26 L244.42,648.45 L245.81,646.64 L247.19,644.84 L248.58,643.03 L249.97,641.22 L251.35,639.41 L252.74,637.60 L254.13,635.80 L255.51,633.99 L256.90,632.18 L258.29,630.37 L259.67,628.56 L261.06,626.76 L262.48,624.95 L263.99,623.14 L265.49,621.33 L267.00,619.52 L268.50,617.72 L270.00,615.91 L271.50,614.10 L273.01,612.29 L274.51,610.48 L276.03,608.68 L277.55,606.87 L279.08,605.06 L280.62,603.25 L282.17,601.44 L283.73,599.64 L285.31,597.83 L286.90,596.02 L288.51,594.21 L290.14,592.40 L291.79,590.60 L293.45,588.79 L295.14,586.98 L296.86,585.17 L298.60,583.36 L300.36,581.56 L302.16,579.75 L303.98,577.94 L305.83,576.13 L307.72,574.32 L309.64,572.52 L311.60,570.71 L313.59,568.90 L315.62,567.09 L317.69,565.28 L319.80,563.48 L321.95,561.67 L324.14,559.86 L326.38,558.05 L328.67,556.24 L331.01,554.44 L333.39,552.63" fill="none" stroke="#ffa500" stroke-width="1.7" stroke-linejoin="round"/>
<line x1="260.50" y1="546.30" x2="260.50" y2="659.30" stroke="#ff0000" stroke-width="1.3" />
<line x1="267.80" y1="546.30" x2="267.80" y2="659.30" stroke="#ff0000" stroke-width="1.3" />
<rect x="129.3" y="546.3" width="271.30" height="113.00" fill="none" stroke="#000" stroke-width="1.25"/>
<line x1="129.30" y1="546.30" x2="129.30" y2="541.30" stroke="#000" stroke-width="1.25" />
<line x1="129.30" y1="659.30" x2="129.30" y2="664.30" stroke="#000" stroke-width="1.25" />
<line x1="145.22" y1="546.30" x2="145.22" y2="543.30" stroke="#000" stroke-width="1.25" />
<line x1="145.22" y1="659.30" x2="145.22" y2="662.30" stroke="#000" stroke-width="1.25" />
<line x1="161.15" y1="546.30" x2="161.15" y2="543.30" stroke="#000" stroke-width="1.25" />
<line x1="161.15" y1="659.30" x2="161.15" y2="662.30" stroke="#000" stroke-width="1.25" />
<line x1="177.07" y1="546.30" x2="177.07" y2="543.30" stroke="#000" stroke-width="1.25" />
<line x1="177.07" y1="659.30" x2="177.07" y2="662.30" stroke="#000" stroke-width="1.25" />
<line x1="192.99" y1="546.30" x2="192.99" y2="543.30" stroke="#000" stroke-width="1.25" />
<line x1="192.99" y1="659.30" x2="192.99" y2="662.30" stroke="#000" stroke-width="1.25" />
<line x1="208.92" y1="546.30" x2="208.92" y2="541.30" stroke="#000" stroke-width="1.25" />
<line x1="208.92" y1="659.30" x2="208.92" y2="664.30" stroke="#000" stroke-width="1.25" />
<line x1="224.84" y1="546.30" x2="224.84" y2="543.30" stroke="#000" stroke-width="1.25" />
<line x1="224.84" y1="659.30" x2="224.84" y2="662.30" stroke="#000" stroke-width="1.25" />
<line x1="240.76" y1="546.30" x2="240.76" y2="543.30" stroke="#000" stroke-width="1.25" />
<line x1="240.76" y1="659.30" x2="240.76" y2="662.30" stroke="#000" stroke-width="1.25" />
<line x1="256.69" y1="546.30" x2="256.69" y2="543.30" stroke="#000" stroke-width="1.25" />
<line x1="256.69" y1="659.30" x2="256.69" y2="662.30" stroke="#000" stroke-width="1.25" />
<line x1="272.61" y1="546.30" x2="272.61" y2="543.30" stroke="#000" stroke-width="1.25" />
<line x1="272.61" y1="659.30" x2="272.61" y2="662.30" stroke="#000" stroke-width="1.25" />
<line x1="288.53" y1="546.30" x2="288.53" y2="541.30" stroke="#000" stroke-width="1.25" />
<line x1="288.53" y1="659.30" x2="288.53" y2="664.30" stroke="#000" stroke-width="1.25" />
<line x1="304.46" y1="546.30" x2="304.46" y2="543.30" stroke="#000" stroke-width="1.25" />
<line x1="304.46" y1="659.30" x2="304.46" y2="662.30" stroke="#000" stroke-width="1.25" />
<line x1="320.38" y1="546.30" x2="320.38" y2="543.30" stroke="#000" stroke-width="1.25" />
<line x1="320.38" y1="659.30" x2="320.38" y2="662.30" stroke="#000" stroke-width="1.25" />
<line x1="336.30" y1="546.30" x2="336.30" y2="543.30" stroke="#000" stroke-width="1.25" />
<line x1="336.30" y1="659.30" x2="336.30" y2="662.30" stroke="#000" stroke-width="1.25" />
<line x1="352.23" y1="546.30" x2="352.23" y2="543.30" stroke="#000" stroke-width="1.25" />
<line x1="352.23" y1="659.30" x2="352.23" y2="662.30" stroke="#000" stroke-width="1.25" />
<line x1="368.15" y1="546.30" x2="368.15" y2="541.30" stroke="#000" stroke-width="1.25" />
<line x1="368.15" y1="659.30" x2="368.15" y2="664.30" stroke="#000" stroke-width="1.25" />
<line x1="384.07" y1="546.30" x2="384.07" y2="543.30" stroke="#000" stroke-width="1.25" />
<line x1="384.07" y1="659.30" x2="384.07" y2="662.30" stroke="#000" stroke-width="1.25" />
<line x1="400.00" y1="546.30" x2="400.00" y2="543.30" stroke="#000" stroke-width="1.25" />
<line x1="400.00" y1="659.30" x2="400.00" y2="662.30" stroke="#000" stroke-width="1.25" />
<line x1="129.30" y1="659.30" x2="126.30" y2="659.30" stroke="#000" stroke-width="1.25" />
<line x1="400.60" y1="659.30" x2="403.60" y2="659.30" stroke="#000" stroke-width="1.25" />
<line x1="129.30" y1="636.70" x2="124.30" y2="636.70" stroke="#000" stroke-width="1.25" />
<line x1="400.60" y1="636.70" x2="405.60" y2="636.70" stroke="#000" stroke-width="1.25" />
<line x1="129.30" y1="614.10" x2="126.30" y2="614.10" stroke="#000" stroke-width="1.25" />
<line x1="400.60" y1="614.10" x2="403.60" y2="614.10" stroke="#000" stroke-width="1.25" />
<line x1="129.30" y1="591.50" x2="124.30" y2="591.50" stroke="#000" stroke-width="1.25" />
<line x1="400.60" y1="591.50" x2="405.60" y2="591.50" stroke="#000" stroke-width="1.25" />
<line x1="129.30" y1="568.90" x2="126.30" y2="568.90" stroke="#000" stroke-width="1.25" />
<line x1="400.60" y1="568.90" x2="403.60" y2="568.90" stroke="#000" stroke-width="1.25" />
<line x1="129.30" y1="546.30" x2="124.30" y2="546.30" stroke="#000" stroke-width="1.25" />
<line x1="400.60" y1="546.30" x2="405.60" y2="546.30" stroke="#000" stroke-width="1.25" />
<text x="117.20" y="561.90" font-size="17.9" text-anchor="end" fill="#000" >6</text>
<text x="117.20" y="600.90" font-size="17.9" text-anchor="end" fill="#000" >4</text>
<text x="117.20" y="645.30" font-size="17.9" text-anchor="end" fill="#000" >2</text>
<text transform="translate(87.40,603.00) rotate(-90)" font-size="17.9" text-anchor="middle">|R| (Re)</text>
<text x="136.00" y="568.50" font-size="17.9" text-anchor="start" fill="#000" >e.</text>
<text x="387.20" y="594.30" font-size="13.95" text-anchor="end" fill="#000" >Trace O+</text>
<text x="387.20" y="611.40" font-size="13.95" text-anchor="end" fill="#000" >backward in</text>
<text x="387.20" y="628.40" font-size="13.95" text-anchor="end" fill="#000" >time &amp; altitude</text>
<line x1="426.30" y1="624.60" x2="608.10" y2="624.60" stroke="#000" stroke-width="1.5" stroke-dasharray="2.2 4.8"/>
<path d="M557.4,551.7 C552.58,553.47 538.68,557.85 528.50,562.30 C518.32,566.75 505.95,572.78 496.30,578.40 C486.65,584.02 477.28,590.65 470.60,596.00 C463.92,601.35 459.40,606.48 456.20,610.50 C453.00,614.52 452.27,617.77 451.40,620.10 C450.53,622.43 451.00,622.90 451.00,624.50 C451.00,626.10 450.27,626.95 451.40,629.70 C452.53,632.45 455.13,637.47 457.80,641.00 C460.47,644.53 464.27,647.85 467.40,650.90 C470.53,653.95 475.07,657.90 476.60,659.30" fill="none" stroke="#000" stroke-width="1.6"/>
<rect x="426.3" y="546.3" width="181.80" height="113.00" fill="none" stroke="#000" stroke-width="1.25"/>
<line x1="426.30" y1="546.30" x2="426.30" y2="541.30" stroke="#000" stroke-width="1.25" />
<line x1="426.30" y1="659.30" x2="426.30" y2="664.30" stroke="#000" stroke-width="1.25" />
<line x1="435.39" y1="546.30" x2="435.39" y2="543.30" stroke="#000" stroke-width="1.25" />
<line x1="435.39" y1="659.30" x2="435.39" y2="662.30" stroke="#000" stroke-width="1.25" />
<line x1="444.48" y1="546.30" x2="444.48" y2="543.30" stroke="#000" stroke-width="1.25" />
<line x1="444.48" y1="659.30" x2="444.48" y2="662.30" stroke="#000" stroke-width="1.25" />
<line x1="453.57" y1="546.30" x2="453.57" y2="543.30" stroke="#000" stroke-width="1.25" />
<line x1="453.57" y1="659.30" x2="453.57" y2="662.30" stroke="#000" stroke-width="1.25" />
<line x1="462.66" y1="546.30" x2="462.66" y2="541.30" stroke="#000" stroke-width="1.25" />
<line x1="462.66" y1="659.30" x2="462.66" y2="664.30" stroke="#000" stroke-width="1.25" />
<line x1="471.75" y1="546.30" x2="471.75" y2="543.30" stroke="#000" stroke-width="1.25" />
<line x1="471.75" y1="659.30" x2="471.75" y2="662.30" stroke="#000" stroke-width="1.25" />
<line x1="480.84" y1="546.30" x2="480.84" y2="543.30" stroke="#000" stroke-width="1.25" />
<line x1="480.84" y1="659.30" x2="480.84" y2="662.30" stroke="#000" stroke-width="1.25" />
<line x1="489.93" y1="546.30" x2="489.93" y2="543.30" stroke="#000" stroke-width="1.25" />
<line x1="489.93" y1="659.30" x2="489.93" y2="662.30" stroke="#000" stroke-width="1.25" />
<line x1="499.02" y1="546.30" x2="499.02" y2="541.30" stroke="#000" stroke-width="1.25" />
<line x1="499.02" y1="659.30" x2="499.02" y2="664.30" stroke="#000" stroke-width="1.25" />
<line x1="508.11" y1="546.30" x2="508.11" y2="543.30" stroke="#000" stroke-width="1.25" />
<line x1="508.11" y1="659.30" x2="508.11" y2="662.30" stroke="#000" stroke-width="1.25" />
<line x1="517.20" y1="546.30" x2="517.20" y2="543.30" stroke="#000" stroke-width="1.25" />
<line x1="517.20" y1="659.30" x2="517.20" y2="662.30" stroke="#000" stroke-width="1.25" />
<line x1="526.29" y1="546.30" x2="526.29" y2="543.30" stroke="#000" stroke-width="1.25" />
<line x1="526.29" y1="659.30" x2="526.29" y2="662.30" stroke="#000" stroke-width="1.25" />
<line x1="535.38" y1="546.30" x2="535.38" y2="541.30" stroke="#000" stroke-width="1.25" />
<line x1="535.38" y1="659.30" x2="535.38" y2="664.30" stroke="#000" stroke-width="1.25" />
<line x1="544.47" y1="546.30" x2="544.47" y2="543.30" stroke="#000" stroke-width="1.25" />
<line x1="544.47" y1="659.30" x2="544.47" y2="662.30" stroke="#000" stroke-width="1.25" />
<line x1="553.56" y1="546.30" x2="553.56" y2="543.30" stroke="#000" stroke-width="1.25" />
<line x1="553.56" y1="659.30" x2="553.56" y2="662.30" stroke="#000" stroke-width="1.25" />
<line x1="562.65" y1="546.30" x2="562.65" y2="543.30" stroke="#000" stroke-width="1.25" />
<line x1="562.65" y1="659.30" x2="562.65" y2="662.30" stroke="#000" stroke-width="1.25" />
<line x1="571.74" y1="546.30" x2="571.74" y2="541.30" stroke="#000" stroke-width="1.25" />
<line x1="571.74" y1="659.30" x2="571.74" y2="664.30" stroke="#000" stroke-width="1.25" />
<line x1="580.83" y1="546.30" x2="580.83" y2="543.30" stroke="#000" stroke-width="1.25" />
<line x1="580.83" y1="659.30" x2="580.83" y2="662.30" stroke="#000" stroke-width="1.25" />
<line x1="589.92" y1="546.30" x2="589.92" y2="543.30" stroke="#000" stroke-width="1.25" />
<line x1="589.92" y1="659.30" x2="589.92" y2="662.30" stroke="#000" stroke-width="1.25" />
<line x1="599.01" y1="546.30" x2="599.01" y2="543.30" stroke="#000" stroke-width="1.25" />
<line x1="599.01" y1="659.30" x2="599.01" y2="662.30" stroke="#000" stroke-width="1.25" />
<line x1="608.10" y1="546.30" x2="608.10" y2="541.30" stroke="#000" stroke-width="1.25" />
<line x1="608.10" y1="659.30" x2="608.10" y2="664.30" stroke="#000" stroke-width="1.25" />
<line x1="426.30" y1="659.30" x2="423.30" y2="659.30" stroke="#000" stroke-width="1.25" />
<line x1="608.10" y1="659.30" x2="611.10" y2="659.30" stroke="#000" stroke-width="1.25" />
<line x1="426.30" y1="636.70" x2="421.30" y2="636.70" stroke="#000" stroke-width="1.25" />
<line x1="608.10" y1="636.70" x2="613.10" y2="636.70" stroke="#000" stroke-width="1.25" />
<line x1="426.30" y1="614.10" x2="423.30" y2="614.10" stroke="#000" stroke-width="1.25" />
<line x1="608.10" y1="614.10" x2="611.10" y2="614.10" stroke="#000" stroke-width="1.25" />
<line x1="426.30" y1="591.50" x2="421.30" y2="591.50" stroke="#000" stroke-width="1.25" />
<line x1="608.10" y1="591.50" x2="613.10" y2="591.50" stroke="#000" stroke-width="1.25" />
<line x1="426.30" y1="568.90" x2="423.30" y2="568.90" stroke="#000" stroke-width="1.25" />
<line x1="608.10" y1="568.90" x2="611.10" y2="568.90" stroke="#000" stroke-width="1.25" />
<line x1="426.30" y1="546.30" x2="421.30" y2="546.30" stroke="#000" stroke-width="1.25" />
<line x1="608.10" y1="546.30" x2="613.10" y2="546.30" stroke="#000" stroke-width="1.25" />
<text x="433.00" y="567.80" font-size="17.9" text-anchor="start" fill="#000" >f.</text>
<text x="594.00" y="595.00" font-size="13.95" text-anchor="end" fill="#000" >Mininum</text>
<text x="594.00" y="611.10" font-size="13.95" text-anchor="end" fill="#000" >spread</text>
<text x="594.00" y="628.60" font-size="13.95" text-anchor="end" fill="#000" >~2.5 Re</text>
<text x="-1.00" y="697.60" font-size="17.9" text-anchor="start" fill="#000" >Time</text>
<text x="81.50" y="697.60" font-size="17.9" text-anchor="start" fill="#000" >2015 Apr 16</text>
<text x="208.92" y="697.60" font-size="17.9" text-anchor="middle" fill="#000" >0805</text>
<text x="288.53" y="697.60" font-size="17.9" text-anchor="middle" fill="#000" >0810</text>
<text x="348.70" y="697.60" font-size="17.9" text-anchor="start" fill="#000" >0815UT</text>
<text x="426.30" y="697.60" font-size="17.9" text-anchor="middle" fill="#000" >0</text>
<text x="462.66" y="697.60" font-size="17.9" text-anchor="middle" fill="#000" >20</text>
<text x="499.02" y="697.60" font-size="17.9" text-anchor="middle" fill="#000" >40</text>
<text x="535.38" y="697.60" font-size="17.9" text-anchor="middle" fill="#000" >60</text>
<text x="571.74" y="697.60" font-size="17.9" text-anchor="middle" fill="#000" >80</text>
<text x="608.10" y="697.60" font-size="17.9" text-anchor="middle" fill="#000" >100</text>
<text x="446.90" y="725.40" font-size="17.5" text-anchor="start" fill="#000" >Time spread (sec)</text>
</svg>
</body></html>
